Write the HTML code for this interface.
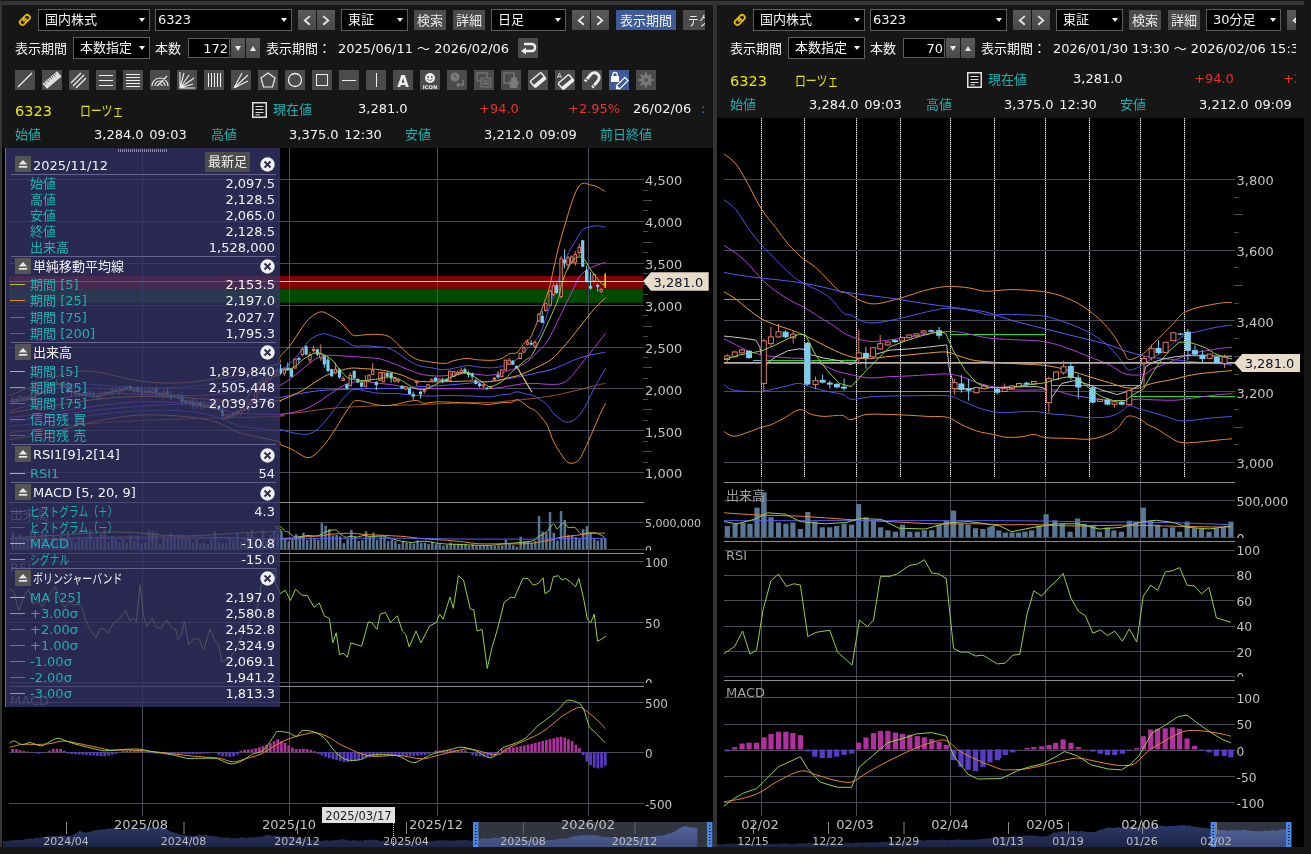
<!DOCTYPE html><html><head><meta charset="utf-8"><title>chart</title><style>
*{margin:0;padding:0;box-sizing:border-box}
html,body{width:1311px;height:854px;overflow:hidden;background:#161616}
body{position:relative;font-family:"DejaVu Sans", "Noto Sans CJK JP", sans-serif;font-size:13px;color:#fff}
.abs{position:absolute}
.hdr{position:absolute;top:0;height:148px;overflow:hidden}
.hdr>*{position:absolute}
.t{position:absolute;white-space:nowrap;line-height:16px;font-size:13px}
.w{color:#f4f4f4} .c{color:#17b2b2} .r{color:#e8322c} .ylw{color:#e6e600}
.y14{color:#e6e600;font-size:14.5px}
.sel{background:#000;border:1px solid #5c5c5c;color:#f4f4f4;white-space:nowrap;overflow:hidden}
.sel span{position:absolute;left:6px;top:2px;line-height:16px}
.tri{position:absolute;right:4px;top:8px;width:0;height:0;border-left:3.5px solid transparent;border-right:3.5px solid transparent;border-top:4px solid #f4f4f4}
.btn{height:20px;background:#4b4b4b;color:#eaeaea;line-height:21px;text-align:center;white-space:nowrap;overflow:hidden}
.btn.blue{background:#3e5b98;color:#f0f0f0}
.nb{width:18px;height:20px;background:linear-gradient(#5a5a5a,#474747);color:#ddd;font-size:20px;line-height:17px;text-align:center;font-family:"DejaVu Sans",sans-serif}
.inp{background:#000;border:1px solid #5c5c5c;color:#f4f4f4;text-align:right;padding-right:1px;line-height:20px}
.sb{width:14px;height:20px;background:linear-gradient(#5a5a5a,#4a4a4a)}
.sb i{position:absolute;left:3.5px;width:0;height:0;border-left:3.6px solid transparent;border-right:3.6px solid transparent}
.sb .dn{top:8px;border-top:5.2px solid #e8e8e8}
.sb .up{top:8px;border-bottom:5.2px solid #e8e8e8}
.tb{width:20px;height:20px;background:#4b4b4b}
.tb.bl{background:#3e5b98}
.tb svg{position:absolute;left:0;top:0}
.ico{position:absolute}

.ov{position:absolute;left:5px;top:148px;width:275px;height:559px;background:rgba(54,53,104,0.78);border-left:1px solid #6a6a92;overflow:hidden}
.ov>*{position:absolute}
.osep{left:5px;width:265px;height:1px;background:#66648e}
.ej{width:16px;height:16px;background:#555}
.ej svg{position:absolute;left:0;top:0}
.ot{color:#f2f2f2;font-size:13px;line-height:18px;white-space:nowrap}
.ol{color:#17b2b2;font-size:13px;line-height:18px;white-space:nowrap}
.ov_v{right:5px;color:#f2f2f2;font-size:13px;line-height:18px;white-space:nowrap;text-align:right}
.cx{position:absolute}
</style></head><body>
<div class="abs" style="left:0;top:0;width:1311px;height:854px;background:#161616"></div>
<div class="abs" style="left:0;top:1px;width:1304px;height:4px;background:#333"></div>
<div class="abs" style="left:0;top:5px;width:2px;height:842px;background:#353535"></div>
<div class="abs" style="left:2px;top:5px;width:711px;height:143px;background:#161616"></div>
<div class="abs" style="left:717px;top:5px;width:587px;height:113px;background:#161616"></div>
<div class="abs" style="left:713px;top:1px;width:4px;height:846px;background:#333"></div>
<div class="abs" style="left:2px;top:148px;width:711px;height:699px;background:#000"></div>
<div class="abs" style="left:717px;top:118px;width:587px;height:729px;background:#000"></div>
<svg class="abs" style="left:0;top:0" width="1311" height="854" viewBox="0 0 1311 854" font-family="DejaVu Sans, Noto Sans CJK JP, sans-serif"><clipPath id="clL"><rect x="2" y="148" width="711" height="699"/></clipPath><g clip-path="url(#clL)"><rect x="9" y="276" width="634" height="12.8" fill="#840000"/><rect x="9" y="288.8" width="634" height="14" fill="#004a00"/><path d="M142.5 148 V816" stroke="#484c58" stroke-width="1"/><path d="M289.5 148 V816" stroke="#484c58" stroke-width="1"/><path d="M437.5 148 V816" stroke="#484c58" stroke-width="1"/><path d="M588.5 148 V816" stroke="#484c58" stroke-width="1"/><path d="M9 179.5 H644" stroke="#484c58" stroke-width="1"/><path d="M9 221.5 H644" stroke="#484c58" stroke-width="1"/><path d="M9 263.5 H644" stroke="#484c58" stroke-width="1"/><path d="M9 305.5 H644" stroke="#484c58" stroke-width="1"/><path d="M9 347.5 H644" stroke="#484c58" stroke-width="1"/><path d="M9 388.5 H644" stroke="#484c58" stroke-width="1"/><path d="M9 430.5 H644" stroke="#484c58" stroke-width="1"/><path d="M9 472.5 H644" stroke="#484c58" stroke-width="1"/><path d="M643 190.5 h5" stroke="#484c58" stroke-width="1"/><path d="M643 200.5 h9" stroke="#484c58" stroke-width="1"/><path d="M643 210.5 h5" stroke="#484c58" stroke-width="1"/><path d="M643 231.5 h5" stroke="#484c58" stroke-width="1"/><path d="M643 242.5 h9" stroke="#484c58" stroke-width="1"/><path d="M643 252.5 h5" stroke="#484c58" stroke-width="1"/><path d="M643 273.5 h5" stroke="#484c58" stroke-width="1"/><path d="M643 284.5 h9" stroke="#484c58" stroke-width="1"/><path d="M643 294.5 h5" stroke="#484c58" stroke-width="1"/><path d="M643 315.5 h5" stroke="#484c58" stroke-width="1"/><path d="M643 326.5 h9" stroke="#484c58" stroke-width="1"/><path d="M643 336.5 h5" stroke="#484c58" stroke-width="1"/><path d="M643 357.5 h5" stroke="#484c58" stroke-width="1"/><path d="M643 367.5 h9" stroke="#484c58" stroke-width="1"/><path d="M643 378.5 h5" stroke="#484c58" stroke-width="1"/><path d="M643 399.5 h5" stroke="#484c58" stroke-width="1"/><path d="M643 409.5 h9" stroke="#484c58" stroke-width="1"/><path d="M643 420.5 h5" stroke="#484c58" stroke-width="1"/><path d="M643 441.5 h5" stroke="#484c58" stroke-width="1"/><path d="M643 451.5 h9" stroke="#484c58" stroke-width="1"/><path d="M643 462.5 h5" stroke="#484c58" stroke-width="1"/><path d="M9 502.5 H644" stroke="#8e8e8e" stroke-width="1"/><path d="M9 522.5 H644" stroke="#484c58" stroke-width="1"/><path d="M9 549.5 H644" stroke="#484c58" stroke-width="1"/><path d="M9 553.5 H644" stroke="#8e8e8e" stroke-width="1"/><path d="M9 561.5 H644" stroke="#484c58" stroke-width="1"/><path d="M9 622.5 H644" stroke="#484c58" stroke-width="1"/><path d="M9 682.5 H644" stroke="#484c58" stroke-width="1"/><path d="M9 686.5 H644" stroke="#8e8e8e" stroke-width="1"/><path d="M9 702.5 H644" stroke="#484c58" stroke-width="1"/><path d="M9 752.5 H644" stroke="#484c58" stroke-width="1"/><path d="M9 803.5 H644" stroke="#484c58" stroke-width="1"/><path d="M9.4 432.9 C19.7 431.6 50.0 427.2 71.4 425.2 C92.8 423.2 115.6 421.8 137.7 420.7 C159.8 419.6 180.5 419.2 204.1 418.5 C227.7 417.8 266.7 417.0 279.3 416.3 C291.9 415.6 276.6 415.1 280.0 414.5 C283.4 413.9 293.3 413.3 299.9 412.5 C306.5 411.7 313.2 410.4 319.8 409.6 C326.4 408.8 333.1 408.1 339.7 407.6 C346.3 407.1 353.0 406.9 359.6 406.6 C366.2 406.3 373.0 405.8 379.6 405.6 C386.2 405.4 392.9 405.4 399.5 405.2 C406.1 405.0 407.0 405.1 419.4 404.6 C431.8 404.2 461.6 402.9 473.8 402.5 C486.0 402.1 486.3 402.8 492.5 402.5 C498.7 402.2 504.9 401.2 511.2 400.6 C517.5 400.0 523.0 399.6 530.0 398.8 C537.0 398.0 547.2 396.6 553.3 395.6 C559.4 394.6 562.2 393.7 566.7 392.7 C571.2 391.7 575.6 390.7 580.0 389.6 C584.4 388.5 589.0 387.1 593.3 386.0 C597.6 384.9 603.5 383.8 605.6 383.3" stroke="#9a5424" stroke-width="1.0" fill="none" /><path d="M9.4 439.5 C16.0 438.4 35.2 435.8 49.2 432.9 C63.2 429.9 78.8 424.8 93.5 421.8 C108.2 418.9 122.9 416.1 137.7 415.2 C152.4 414.3 169.1 415.2 182.0 416.3 C194.9 417.4 205.9 419.2 215.1 421.8 C224.3 424.4 229.9 429.2 237.3 431.8 C244.7 434.4 252.4 435.6 259.4 437.3 C266.4 439.0 275.9 440.6 279.3 441.8 C282.7 443.0 277.9 443.1 280.0 444.4 C282.1 445.7 287.6 447.2 291.9 449.4 C296.2 451.5 302.2 456.3 305.9 457.3 C309.5 458.3 310.8 457.4 313.8 455.4 C316.8 453.4 320.5 449.4 323.8 445.4 C327.1 441.4 330.5 436.5 333.8 431.5 C337.1 426.5 340.7 420.1 343.7 415.5 C346.7 410.9 349.7 406.1 351.7 403.6 C353.7 401.1 353.7 400.9 355.7 400.6 C357.7 400.3 360.3 400.9 363.6 401.6 C366.9 402.3 371.6 403.9 375.6 404.6 C379.6 405.3 383.5 405.8 387.5 405.6 C391.5 405.4 396.2 404.3 399.5 403.6 C402.8 402.9 404.4 402.1 407.4 401.6 C410.4 401.1 414.7 400.3 417.4 400.6 C420.1 400.9 420.4 403.0 423.4 403.2 C426.4 403.4 431.6 402.2 435.3 402.0 C439.0 401.8 438.9 401.8 445.3 402.0 C451.7 402.2 466.6 403.0 473.8 403.4 C481.1 403.8 483.8 404.5 488.8 404.4 C493.8 404.2 500.1 402.8 503.8 402.5 C507.5 402.2 509.0 403.0 511.2 402.5 C513.4 402.0 515.0 399.7 516.9 399.7 C518.8 399.7 520.3 401.1 522.5 402.5 C524.7 403.9 527.8 406.7 530.0 408.1 C532.2 409.5 532.8 408.2 535.6 410.9 C538.4 413.6 543.8 419.4 546.7 424.4 C549.7 429.4 550.7 435.9 553.3 441.1 C555.9 446.3 559.6 452.0 562.2 455.6 C564.8 459.2 566.3 462.0 568.9 462.9 C571.5 463.8 575.2 463.2 577.8 461.1 C580.4 459.0 581.8 455.2 584.4 450.0 C587.0 444.8 590.7 435.9 593.3 430.0 C595.9 424.1 598.0 418.8 600.0 414.4 C602.0 409.9 604.7 405.1 605.6 403.3" stroke="#e2882c" stroke-width="1.0" fill="none" /><path d="M9.4 395.3 C14.2 393.4 29.7 387.5 38.2 384.2 C46.7 380.9 52.9 377.6 60.3 375.4 C67.7 373.2 75.0 371.4 82.4 371.0 C89.8 370.6 97.1 371.9 104.5 373.2 C111.9 374.5 119.3 377.2 126.7 378.7 C134.1 380.2 141.4 381.3 148.8 382.0 C156.2 382.7 163.5 383.1 170.9 383.1 C178.3 383.1 185.6 382.7 193.0 382.0 C200.4 381.3 207.7 379.8 215.1 378.7 C222.5 377.6 229.9 377.0 237.3 375.4 C244.7 373.8 252.4 370.8 259.4 368.8 C266.4 366.8 275.9 365.2 279.3 363.2 C282.7 361.2 278.2 359.7 280.0 356.8 C281.8 353.9 286.4 350.6 290.0 345.8 C293.6 341.0 298.6 332.5 301.9 327.9 C305.2 323.3 306.9 320.6 309.9 318.0 C312.9 315.4 316.8 312.7 319.8 312.0 C322.8 311.3 324.5 312.4 327.8 314.0 C331.1 315.6 336.4 319.2 339.7 321.9 C343.0 324.5 345.4 327.6 347.7 329.9 C350.0 332.2 351.0 334.7 353.7 335.5 C356.4 336.3 360.0 335.1 363.6 334.9 C367.2 334.7 371.6 334.1 375.6 334.3 C379.6 334.5 384.2 334.6 387.5 335.9 C390.8 337.2 392.8 339.6 395.5 341.9 C398.2 344.2 400.2 347.0 403.5 349.8 C406.8 352.6 411.1 356.8 415.4 358.8 C419.7 360.8 424.3 361.0 429.3 361.8 C434.3 362.6 441.3 363.6 445.3 363.4 C449.3 363.2 449.7 361.6 453.2 360.8 C456.7 360.0 462.1 358.6 466.2 358.4 C470.2 358.2 473.1 359.5 477.5 359.8 C481.9 360.1 488.4 360.5 492.5 360.3 C496.6 360.1 499.1 359.5 501.9 358.4 C504.7 357.3 506.9 354.7 509.4 353.8 C511.9 352.9 515.0 353.8 516.9 352.8 C518.8 351.9 519.0 350.1 520.6 348.1 C522.2 346.1 524.3 342.8 526.2 340.6 C528.1 338.4 528.3 342.9 531.9 335.0 C535.5 327.1 544.1 303.5 547.6 293.0 C551.1 282.5 551.1 279.3 552.9 272.0 C554.6 264.7 556.4 256.1 558.1 249.1 C559.9 242.1 561.6 236.0 563.4 229.8 C565.2 223.7 567.0 217.8 568.7 212.2 C570.5 206.6 572.1 200.8 573.9 196.4 C575.6 192.0 577.4 188.0 579.2 185.8 C581.0 183.6 582.7 183.3 584.5 183.2 C586.3 183.0 588.0 184.5 589.8 184.9 C591.5 185.3 593.2 185.2 595.0 185.8 C596.8 186.4 598.5 187.5 600.3 188.5 C602.1 189.5 604.7 191.4 605.6 192.0" stroke="#e2882c" stroke-width="1.0" fill="none" /><path d="M9.4 426.3 C16.0 425.6 35.2 423.7 49.2 421.8 C63.2 419.9 78.8 417.0 93.5 415.2 C108.2 413.4 122.9 411.5 137.7 410.8 C152.4 410.1 169.1 409.9 182.0 410.8 C194.9 411.7 205.9 413.9 215.1 416.3 C224.3 418.7 229.9 423.2 237.3 425.2 C244.7 427.2 252.4 427.6 259.4 428.5 C266.4 429.4 275.9 430.5 279.3 430.7 C282.7 430.9 277.9 429.2 280.0 429.5 C282.1 429.8 287.6 431.7 291.9 432.5 C296.2 433.3 301.9 434.7 305.9 434.4 C309.9 434.1 312.5 432.8 315.8 430.5 C319.1 428.2 322.5 424.3 325.8 420.5 C329.1 416.7 332.5 411.8 335.8 407.6 C339.1 403.5 342.7 398.6 345.7 395.6 C348.7 392.6 350.7 390.4 353.7 389.6 C356.7 388.8 360.3 390.1 363.6 390.6 C366.9 391.1 370.0 392.1 373.6 392.6 C377.2 393.1 381.5 393.4 385.5 393.6 C389.5 393.8 393.9 393.4 397.5 393.6 C401.1 393.8 403.8 394.3 407.4 394.6 C411.0 394.9 415.4 395.4 419.4 395.6 C423.4 395.8 427.0 396.0 431.3 396.0 C435.6 396.0 438.9 395.6 445.3 395.6 C451.8 395.6 462.8 395.7 470.0 395.9 C477.2 396.1 483.8 397.0 488.8 396.9 C493.8 396.8 496.6 395.5 500.0 395.0 C503.4 394.5 506.6 394.6 509.4 394.1 C512.2 393.6 514.1 391.8 516.9 391.8 C519.7 391.8 523.4 393.4 526.2 394.1 C529.0 394.8 530.4 394.2 533.8 395.9 C537.2 397.6 543.5 401.5 546.7 404.4 C550.0 407.3 551.1 410.9 553.3 413.3 C555.5 415.7 557.8 417.4 560.0 418.9 C562.2 420.4 564.1 422.2 566.7 422.2 C569.3 422.2 572.7 421.3 575.6 418.9 C578.5 416.5 581.5 412.6 584.4 407.8 C587.3 403.0 590.7 395.0 593.3 390.0 C595.9 385.0 598.0 381.4 600.0 377.8 C602.0 374.2 604.7 369.8 605.6 368.2" stroke="#5252e6" stroke-width="1.0" fill="none" /><path d="M9.4 404.1 C14.2 402.3 29.7 395.9 38.2 393.1 C46.7 390.4 52.9 389.1 60.3 387.6 C67.7 386.1 75.0 384.6 82.4 384.2 C89.8 383.8 95.3 384.7 104.5 385.3 C113.7 385.9 126.6 387.2 137.7 387.6 C148.8 388.0 159.8 388.0 170.9 387.6 C182.0 387.2 193.0 386.4 204.1 385.3 C215.2 384.2 228.1 382.5 237.3 380.9 C246.5 379.2 252.4 377.2 259.4 375.4 C266.4 373.6 275.9 370.8 279.3 369.9 C282.7 368.9 278.2 370.7 280.0 369.7 C281.8 368.7 286.4 367.1 290.0 363.8 C293.6 360.5 298.6 353.8 301.9 349.8 C305.2 345.8 306.6 342.5 309.9 339.9 C313.2 337.2 318.1 334.6 321.8 333.9 C325.5 333.2 328.2 334.9 331.8 335.9 C335.4 336.9 340.1 338.2 343.7 339.9 C347.3 341.5 350.0 344.8 353.7 345.8 C357.4 346.8 361.6 345.6 365.6 345.8 C369.6 346.0 374.0 346.5 377.6 346.8 C381.2 347.1 384.2 346.8 387.5 347.8 C390.8 348.8 394.2 350.8 397.5 352.8 C400.8 354.8 403.8 357.6 407.4 359.8 C411.0 362.0 415.4 364.5 419.4 365.8 C423.4 367.1 427.0 367.1 431.3 367.7 C435.6 368.3 439.5 370.0 445.3 369.7 C451.1 369.4 460.8 366.1 466.2 365.6 C471.6 365.1 473.1 366.5 477.5 366.9 C481.9 367.3 488.1 368.0 492.5 367.8 C496.9 367.6 500.7 366.7 503.8 365.9 C506.9 365.1 508.7 364.5 511.2 363.1 C513.7 361.7 516.3 359.7 518.8 357.5 C521.3 355.3 523.7 352.5 526.2 350.0 C528.7 347.5 531.3 345.6 533.8 342.5 C536.3 339.4 538.0 338.8 541.2 331.2 C544.4 323.6 549.8 305.9 552.9 296.6 C556.0 287.3 557.6 282.2 559.9 275.5 C562.2 268.8 564.6 261.4 566.9 256.1 C569.2 250.8 571.5 247.9 573.9 243.8 C576.2 239.7 579.0 234.2 581.0 231.5 C583.0 228.8 584.2 228.6 586.2 227.7 C588.2 226.8 591.2 226.5 593.3 226.2 C595.4 225.9 596.5 225.8 598.6 225.9 C600.7 226.1 604.4 226.9 605.6 227.1" stroke="#5252e6" stroke-width="1.0" fill="none" /><path d="M9.4 421.8 C19.7 420.3 50.0 415.6 71.4 413.0 C92.8 410.4 115.6 408.1 137.7 406.4 C159.8 404.7 185.7 404.1 204.1 403.0 C222.5 401.9 235.8 400.6 248.3 399.7 C260.8 398.8 274.0 397.9 279.3 397.5 C284.6 397.1 276.6 398.2 280.0 397.6 C283.4 397.0 293.3 394.8 299.9 393.6 C306.5 392.4 313.2 391.3 319.8 390.6 C326.4 389.9 333.1 389.9 339.7 389.6 C346.3 389.3 353.0 388.9 359.6 388.7 C366.2 388.5 373.0 388.8 379.6 388.7 C386.2 388.6 392.9 388.6 399.5 388.3 C406.1 388.0 412.8 387.1 419.4 386.7 C426.0 386.3 430.2 386.3 439.3 385.7 C448.4 385.1 464.9 383.6 473.8 382.8 C482.7 382.0 486.3 381.7 492.5 380.9 C498.7 380.1 504.9 379.2 511.2 378.1 C517.5 377.0 523.0 375.9 530.0 374.4 C537.0 372.9 547.2 370.8 553.3 368.9 C559.4 367.0 562.2 365.1 566.7 363.3 C571.2 361.5 575.6 359.3 580.0 357.8 C584.4 356.3 589.0 355.3 593.3 354.4 C597.6 353.5 603.5 352.6 605.6 352.2" stroke="#5a5aff" stroke-width="1.0" fill="none" /><path d="M9.4 417.4 C16.0 416.7 35.2 414.8 49.2 413.0 C63.2 411.2 78.8 408.2 93.5 406.4 C108.2 404.5 122.9 402.5 137.7 401.9 C152.4 401.3 169.1 401.9 182.0 403.0 C194.9 404.1 205.9 406.9 215.1 408.6 C224.3 410.3 229.9 412.1 237.3 413.0 C244.7 413.9 252.4 413.9 259.4 414.1 C266.4 414.4 275.9 414.4 279.3 414.5 C282.7 414.6 277.9 414.8 280.0 414.5 C282.1 414.2 287.9 413.3 291.9 412.5 C295.9 411.7 299.9 411.1 303.9 409.6 C307.9 408.1 311.8 405.9 315.8 403.6 C319.8 401.3 323.8 398.2 327.8 395.6 C331.8 393.0 336.4 389.7 339.7 387.7 C343.0 385.7 345.0 384.7 347.7 383.7 C350.4 382.7 352.7 382.0 355.7 381.7 C358.7 381.4 361.6 381.4 365.6 381.7 C369.6 382.0 375.3 382.8 379.6 383.3 C383.9 383.8 387.5 384.1 391.5 384.7 C395.5 385.3 398.9 386.0 403.5 386.7 C408.1 387.4 414.8 388.4 419.4 388.7 C424.0 389.0 427.0 388.7 431.3 388.7 C435.6 388.7 438.9 388.8 445.3 388.7 C451.8 388.6 463.4 388.3 470.0 388.4 C476.6 388.4 480.0 389.1 485.0 389.0 C490.0 388.9 495.6 388.1 500.0 387.5 C504.4 386.9 507.4 386.2 511.2 385.6 C515.0 385.0 518.7 384.2 522.5 383.8 C526.3 383.4 529.0 383.3 533.8 383.4 C538.6 383.5 546.4 384.4 551.1 384.4 C555.8 384.4 558.9 384.6 562.2 383.3 C565.5 382.0 568.1 379.6 571.1 376.7 C574.1 373.8 577.0 369.3 580.0 365.6 C583.0 361.9 585.9 358.1 588.9 354.4 C591.9 350.7 595.0 346.8 597.8 343.3 C600.6 339.8 604.3 335.0 605.6 333.3" stroke="#b43ee0" stroke-width="1.0" fill="none" /><path d="M9.4 410.8 C14.2 409.5 27.9 405.4 38.2 403.0 C48.5 400.6 60.4 398.0 71.4 396.4 C82.5 394.8 93.5 393.5 104.5 393.1 C115.5 392.7 126.6 393.8 137.7 394.2 C148.8 394.6 159.8 395.1 170.9 395.3 C182.0 395.5 193.0 395.9 204.1 395.3 C215.2 394.8 228.1 393.1 237.3 392.0 C246.5 390.9 252.4 389.8 259.4 388.7 C266.4 387.6 275.9 385.8 279.3 385.3 C282.7 384.8 277.9 387.0 280.0 385.7 C282.1 384.4 287.9 380.7 291.9 377.7 C295.9 374.7 299.9 370.8 303.9 367.7 C307.9 364.6 312.1 360.9 315.8 358.8 C319.5 356.8 321.8 355.9 325.8 355.4 C329.8 354.9 334.7 355.6 339.7 355.8 C344.7 356.0 350.7 356.5 355.7 356.8 C360.7 357.1 365.6 357.5 369.6 357.8 C373.6 358.1 376.0 358.0 379.6 358.8 C383.2 359.6 387.5 361.3 391.5 362.8 C395.5 364.3 398.9 365.9 403.5 367.7 C408.1 369.5 414.8 372.4 419.4 373.7 C424.0 375.0 427.0 375.4 431.3 375.7 C435.6 376.0 439.5 376.1 445.3 375.7 C451.1 375.3 460.8 373.6 466.2 373.4 C471.6 373.2 473.7 374.1 477.5 374.4 C481.3 374.7 485.1 375.5 488.8 375.3 C492.6 375.1 496.3 374.3 500.0 373.4 C503.7 372.5 508.1 370.8 511.2 369.7 C514.3 368.6 515.7 368.6 518.8 366.9 C521.9 365.2 526.6 362.2 530.0 359.4 C533.4 356.6 536.3 353.4 539.4 350.0 C542.5 346.6 544.5 346.2 548.8 338.8 C553.1 331.4 561.3 313.3 565.2 305.4 C569.1 297.5 569.9 296.0 572.2 291.3 C574.5 286.6 576.9 280.7 579.2 277.2 C581.5 273.7 583.9 271.9 586.2 270.2 C588.6 268.4 590.9 267.7 593.3 266.7 C595.6 265.7 598.2 264.7 600.3 264.0 C602.3 263.3 604.7 262.6 605.6 262.3" stroke="#b43ee0" stroke-width="1.0" fill="none" /><path d="M9.4 413.0 C16.0 411.9 35.2 408.6 49.2 406.4 C63.2 404.2 78.8 401.4 93.5 399.7 C108.2 398.0 122.9 396.8 137.7 396.4 C152.4 396.0 169.1 396.9 182.0 397.5 C194.9 398.1 204.0 399.0 215.1 399.7 C226.2 400.4 237.6 401.7 248.3 401.9 C259.0 402.1 274.0 401.0 279.3 400.8 C284.6 400.6 277.9 401.5 280.0 400.6 C282.1 399.7 287.9 397.4 291.9 395.6 C295.9 393.8 299.9 391.9 303.9 389.6 C307.9 387.3 311.8 384.2 315.8 381.7 C319.8 379.2 323.8 376.5 327.8 374.7 C331.8 372.9 335.7 371.8 339.7 370.7 C343.7 369.6 347.7 368.4 351.7 368.1 C355.7 367.8 359.0 368.4 363.6 368.7 C368.2 369.0 374.6 369.0 379.6 369.7 C384.6 370.4 389.5 371.7 393.5 372.7 C397.5 373.7 399.9 374.4 403.5 375.7 C407.1 377.0 411.4 379.7 415.4 380.7 C419.4 381.7 422.3 381.5 427.3 381.7 C432.3 381.9 437.6 381.8 445.3 381.7 C453.1 381.6 467.2 380.9 473.8 380.9 C480.4 380.9 481.3 381.9 485.0 381.9 C488.7 381.9 492.4 381.5 496.2 380.9 C499.9 380.3 503.7 379.0 507.5 378.1 C511.3 377.2 515.0 376.6 518.8 375.3 C522.5 374.1 525.0 373.0 530.0 370.6 C535.0 368.2 544.3 364.0 548.9 361.1 C553.5 358.2 554.8 356.3 557.8 353.3 C560.8 350.3 563.7 346.8 566.7 343.3 C569.7 339.8 572.7 335.9 575.6 332.2 C578.5 328.5 581.5 324.8 584.4 321.1 C587.3 317.4 589.8 313.9 593.3 310.0 C596.8 306.1 603.5 299.8 605.6 297.8" stroke="#eaa035" stroke-width="1.0" fill="none" /><path d="M12.7 396.6 V401.3" stroke="#e27868" stroke-width="1"/><rect x="11.5" y="399.4" width="2.4" height="1.2" fill="#000" stroke="#e27868" stroke-width="1"/><path d="M16.4 398.3 V402.5" stroke="#78cdf0" stroke-width="1"/><rect x="14.8" y="399.0" width="3.2" height="1.2" fill="#78cdf0"/><path d="M20.1 396.1 V400.5" stroke="#e27868" stroke-width="1"/><rect x="18.9" y="396.8" width="2.4" height="2.9" fill="#000" stroke="#e27868" stroke-width="1"/><path d="M23.8 396.8 V400.3" stroke="#78cdf0" stroke-width="1"/><rect x="22.2" y="397.8" width="3.2" height="1.2" fill="#78cdf0"/><path d="M27.4 396.0 V401.6" stroke="#e27868" stroke-width="1"/><rect x="26.2" y="398.5" width="2.4" height="1.2" fill="#000" stroke="#e27868" stroke-width="1"/><path d="M31.1 393.7 V400.7" stroke="#78cdf0" stroke-width="1"/><rect x="29.5" y="397.2" width="3.2" height="2.1" fill="#78cdf0"/><path d="M34.8 392.4 V401.4" stroke="#e27868" stroke-width="1"/><rect x="33.6" y="394.0" width="2.4" height="4.1" fill="#000" stroke="#e27868" stroke-width="1"/><path d="M38.5 390.4 V396.2" stroke="#e27868" stroke-width="1"/><rect x="37.3" y="393.2" width="2.4" height="1.2" fill="#000" stroke="#e27868" stroke-width="1"/><path d="M42.2 391.1 V394.4" stroke="#78cdf0" stroke-width="1"/><rect x="40.6" y="391.8" width="3.2" height="1.4" fill="#78cdf0"/><path d="M45.8 389.8 V395.6" stroke="#e27868" stroke-width="1"/><rect x="44.6" y="391.4" width="2.4" height="1.7" fill="#000" stroke="#e27868" stroke-width="1"/><path d="M49.5 384.4 V393.7" stroke="#e27868" stroke-width="1"/><rect x="48.3" y="387.7" width="2.4" height="3.1" fill="#000" stroke="#e27868" stroke-width="1"/><path d="M53.2 381.8 V391.5" stroke="#e27868" stroke-width="1"/><rect x="52.0" y="384.1" width="2.4" height="3.8" fill="#000" stroke="#e27868" stroke-width="1"/><path d="M56.9 379.5 V385.6" stroke="#78cdf0" stroke-width="1"/><rect x="55.3" y="383.5" width="3.2" height="1.2" fill="#78cdf0"/><path d="M60.6 382.4 V387.0" stroke="#e27868" stroke-width="1"/><rect x="59.4" y="383.4" width="2.4" height="1.3" fill="#000" stroke="#e27868" stroke-width="1"/><path d="M64.2 380.8 V387.7" stroke="#78cdf0" stroke-width="1"/><rect x="62.6" y="383.9" width="3.2" height="1.2" fill="#78cdf0"/><path d="M67.9 380.8 V393.8" stroke="#78cdf0" stroke-width="1"/><rect x="66.3" y="383.8" width="3.2" height="7.5" fill="#78cdf0"/><path d="M71.6 387.7 V396.2" stroke="#78cdf0" stroke-width="1"/><rect x="70.0" y="391.1" width="3.2" height="1.3" fill="#78cdf0"/><path d="M75.3 391.9 V396.8" stroke="#e27868" stroke-width="1"/><rect x="74.1" y="392.6" width="2.4" height="1.2" fill="#000" stroke="#e27868" stroke-width="1"/><path d="M79.0 390.7 V396.8" stroke="#78cdf0" stroke-width="1"/><rect x="77.4" y="394.1" width="3.2" height="1.2" fill="#78cdf0"/><path d="M82.6 393.1 V397.0" stroke="#e27868" stroke-width="1"/><rect x="81.4" y="393.7" width="2.4" height="1.2" fill="#000" stroke="#e27868" stroke-width="1"/><path d="M86.3 391.8 V396.9" stroke="#78cdf0" stroke-width="1"/><rect x="84.7" y="392.5" width="3.2" height="1.2" fill="#78cdf0"/><path d="M90.0 390.7 V397.4" stroke="#78cdf0" stroke-width="1"/><rect x="88.4" y="392.6" width="3.2" height="1.3" fill="#78cdf0"/><path d="M93.7 391.3 V398.5" stroke="#78cdf0" stroke-width="1"/><rect x="92.1" y="393.7" width="3.2" height="1.2" fill="#78cdf0"/><path d="M97.4 393.9 V399.2" stroke="#78cdf0" stroke-width="1"/><rect x="95.8" y="395.4" width="3.2" height="1.9" fill="#78cdf0"/><path d="M101.0 390.3 V399.4" stroke="#e27868" stroke-width="1"/><rect x="99.8" y="394.2" width="2.4" height="4.2" fill="#000" stroke="#e27868" stroke-width="1"/><path d="M104.7 391.2 V395.9" stroke="#e27868" stroke-width="1"/><rect x="103.5" y="392.5" width="2.4" height="1.2" fill="#000" stroke="#e27868" stroke-width="1"/><path d="M108.4 391.3 V395.2" stroke="#78cdf0" stroke-width="1"/><rect x="106.8" y="391.8" width="3.2" height="1.5" fill="#78cdf0"/><path d="M112.1 387.0 V396.4" stroke="#e27868" stroke-width="1"/><rect x="110.9" y="390.9" width="2.4" height="2.6" fill="#000" stroke="#e27868" stroke-width="1"/><path d="M115.8 387.4 V392.2" stroke="#e27868" stroke-width="1"/><rect x="114.6" y="390.3" width="2.4" height="1.2" fill="#000" stroke="#e27868" stroke-width="1"/><path d="M119.4 387.3 V395.4" stroke="#e27868" stroke-width="1"/><rect x="118.2" y="390.9" width="2.4" height="1.2" fill="#000" stroke="#e27868" stroke-width="1"/><path d="M123.1 387.7 V393.3" stroke="#e27868" stroke-width="1"/><rect x="121.9" y="388.5" width="2.4" height="2.0" fill="#000" stroke="#e27868" stroke-width="1"/><path d="M126.8 386.0 V389.5" stroke="#78cdf0" stroke-width="1"/><rect x="125.2" y="387.3" width="3.2" height="1.2" fill="#78cdf0"/><path d="M130.5 385.5 V390.2" stroke="#78cdf0" stroke-width="1"/><rect x="128.9" y="386.0" width="3.2" height="3.2" fill="#78cdf0"/><path d="M134.2 387.9 V393.2" stroke="#e27868" stroke-width="1"/><rect x="133.0" y="388.5" width="2.4" height="1.2" fill="#000" stroke="#e27868" stroke-width="1"/><path d="M137.8 386.0 V393.2" stroke="#78cdf0" stroke-width="1"/><rect x="136.2" y="387.4" width="3.2" height="4.1" fill="#78cdf0"/><path d="M141.5 386.9 V395.5" stroke="#78cdf0" stroke-width="1"/><rect x="139.9" y="390.4" width="3.2" height="1.2" fill="#78cdf0"/><path d="M145.2 389.8 V392.6" stroke="#78cdf0" stroke-width="1"/><rect x="143.6" y="390.6" width="3.2" height="1.2" fill="#78cdf0"/><path d="M148.9 387.4 V393.0" stroke="#78cdf0" stroke-width="1"/><rect x="147.3" y="390.8" width="3.2" height="1.2" fill="#78cdf0"/><path d="M152.6 387.6 V393.6" stroke="#e27868" stroke-width="1"/><rect x="151.4" y="390.0" width="2.4" height="2.6" fill="#000" stroke="#e27868" stroke-width="1"/><path d="M156.2 386.2 V396.9" stroke="#78cdf0" stroke-width="1"/><rect x="154.6" y="388.6" width="3.2" height="4.4" fill="#78cdf0"/><path d="M159.9 392.1 V396.7" stroke="#78cdf0" stroke-width="1"/><rect x="158.3" y="393.6" width="3.2" height="1.4" fill="#78cdf0"/><path d="M163.6 389.8 V399.0" stroke="#e27868" stroke-width="1"/><rect x="162.4" y="392.2" width="2.4" height="3.6" fill="#000" stroke="#e27868" stroke-width="1"/><path d="M167.3 388.0 V397.7" stroke="#78cdf0" stroke-width="1"/><rect x="165.7" y="391.4" width="3.2" height="2.4" fill="#78cdf0"/><path d="M171.0 391.3 V400.2" stroke="#78cdf0" stroke-width="1"/><rect x="169.4" y="394.6" width="3.2" height="2.4" fill="#78cdf0"/><path d="M174.6 393.7 V397.7" stroke="#e27868" stroke-width="1"/><rect x="173.4" y="395.4" width="2.4" height="1.7" fill="#000" stroke="#e27868" stroke-width="1"/><path d="M178.3 393.3 V398.9" stroke="#78cdf0" stroke-width="1"/><rect x="176.7" y="394.8" width="3.2" height="1.2" fill="#78cdf0"/><path d="M182.0 391.9 V405.9" stroke="#78cdf0" stroke-width="1"/><rect x="180.4" y="395.7" width="3.2" height="6.3" fill="#78cdf0"/><path d="M185.7 400.3 V404.7" stroke="#78cdf0" stroke-width="1"/><rect x="184.1" y="401.6" width="3.2" height="1.9" fill="#78cdf0"/><path d="M189.4 398.4 V406.2" stroke="#e27868" stroke-width="1"/><rect x="188.2" y="401.1" width="2.4" height="1.4" fill="#000" stroke="#e27868" stroke-width="1"/><path d="M193.0 398.3 V409.1" stroke="#78cdf0" stroke-width="1"/><rect x="191.4" y="401.1" width="3.2" height="4.7" fill="#78cdf0"/><path d="M196.7 398.7 V409.5" stroke="#e27868" stroke-width="1"/><rect x="195.5" y="402.4" width="2.4" height="3.9" fill="#000" stroke="#e27868" stroke-width="1"/><path d="M200.4 401.2 V409.4" stroke="#78cdf0" stroke-width="1"/><rect x="198.8" y="402.3" width="3.2" height="3.8" fill="#78cdf0"/><path d="M204.1 400.5 V408.9" stroke="#e27868" stroke-width="1"/><rect x="202.9" y="404.4" width="2.4" height="2.6" fill="#000" stroke="#e27868" stroke-width="1"/><path d="M207.8 402.1 V407.4" stroke="#e27868" stroke-width="1"/><rect x="206.6" y="405.1" width="2.4" height="1.2" fill="#000" stroke="#e27868" stroke-width="1"/><path d="M211.4 400.4 V408.6" stroke="#78cdf0" stroke-width="1"/><rect x="209.8" y="404.1" width="3.2" height="1.2" fill="#78cdf0"/><path d="M215.1 400.7 V408.7" stroke="#e27868" stroke-width="1"/><rect x="213.9" y="404.7" width="2.4" height="1.2" fill="#000" stroke="#e27868" stroke-width="1"/><path d="M218.8 403.8 V409.9" stroke="#78cdf0" stroke-width="1"/><rect x="217.2" y="404.8" width="3.2" height="4.5" fill="#78cdf0"/><path d="M222.5 407.4 V419.8" stroke="#78cdf0" stroke-width="1"/><rect x="220.9" y="409.8" width="3.2" height="6.3" fill="#78cdf0"/><path d="M226.2 413.6 V419.5" stroke="#e27868" stroke-width="1"/><rect x="225.0" y="417.0" width="2.4" height="1.2" fill="#000" stroke="#e27868" stroke-width="1"/><path d="M229.8 413.4 V419.0" stroke="#e27868" stroke-width="1"/><rect x="228.6" y="414.7" width="2.4" height="1.7" fill="#000" stroke="#e27868" stroke-width="1"/><path d="M233.5 412.3 V418.2" stroke="#e27868" stroke-width="1"/><rect x="232.3" y="413.3" width="2.4" height="1.2" fill="#000" stroke="#e27868" stroke-width="1"/><path d="M237.2 409.8 V417.2" stroke="#e27868" stroke-width="1"/><rect x="236.0" y="412.3" width="2.4" height="1.2" fill="#000" stroke="#e27868" stroke-width="1"/><path d="M240.9 408.2 V415.9" stroke="#e27868" stroke-width="1"/><rect x="239.7" y="410.5" width="2.4" height="3.1" fill="#000" stroke="#e27868" stroke-width="1"/><path d="M244.6 406.7 V411.1" stroke="#e27868" stroke-width="1"/><rect x="243.4" y="408.8" width="2.4" height="1.2" fill="#000" stroke="#e27868" stroke-width="1"/><path d="M248.2 402.9 V411.8" stroke="#e27868" stroke-width="1"/><rect x="247.0" y="404.0" width="2.4" height="5.7" fill="#000" stroke="#e27868" stroke-width="1"/><path d="M251.9 398.6 V406.4" stroke="#e27868" stroke-width="1"/><rect x="250.7" y="400.3" width="2.4" height="3.8" fill="#000" stroke="#e27868" stroke-width="1"/><path d="M255.6 391.2 V403.6" stroke="#e27868" stroke-width="1"/><rect x="254.4" y="392.1" width="2.4" height="9.1" fill="#000" stroke="#e27868" stroke-width="1"/><path d="M259.3 380.0 V393.7" stroke="#e27868" stroke-width="1"/><rect x="258.1" y="383.2" width="2.4" height="8.2" fill="#000" stroke="#e27868" stroke-width="1"/><path d="M263.0 378.0 V386.0" stroke="#e27868" stroke-width="1"/><rect x="261.8" y="381.7" width="2.4" height="2.3" fill="#000" stroke="#e27868" stroke-width="1"/><path d="M266.6 376.7 V384.6" stroke="#e27868" stroke-width="1"/><rect x="265.4" y="379.0" width="2.4" height="2.7" fill="#000" stroke="#e27868" stroke-width="1"/><path d="M270.3 373.1 V382.9" stroke="#e27868" stroke-width="1"/><rect x="269.1" y="375.2" width="2.4" height="3.8" fill="#000" stroke="#e27868" stroke-width="1"/><path d="M274.0 370.4 V377.8" stroke="#e27868" stroke-width="1"/><rect x="272.8" y="374.2" width="2.4" height="2.2" fill="#000" stroke="#e27868" stroke-width="1"/><path d="M277.7 367.8 V376.5" stroke="#e27868" stroke-width="1"/><rect x="276.5" y="371.2" width="2.4" height="4.3" fill="#000" stroke="#e27868" stroke-width="1"/><path d="M280.5 364.0 V374.7" stroke="#78cdf0" stroke-width="1"/><rect x="278.9" y="368.5" width="3.2" height="4.9" fill="#78cdf0"/><path d="M284.4 367.7 V375.9" stroke="#e27868" stroke-width="1"/><rect x="283.2" y="368.9" width="2.4" height="4.5" fill="#000" stroke="#e27868" stroke-width="1"/><path d="M287.8 362.4 V370.6" stroke="#78cdf0" stroke-width="1"/><rect x="286.2" y="367.7" width="3.2" height="2.5" fill="#78cdf0"/><path d="M291.5 368.1 V377.1" stroke="#78cdf0" stroke-width="1"/><rect x="289.9" y="368.5" width="3.2" height="8.2" fill="#78cdf0"/><path d="M295.0 358.7 V368.5" stroke="#e27868" stroke-width="1"/><rect x="293.8" y="359.1" width="2.4" height="9.0" fill="#000" stroke="#e27868" stroke-width="1"/><path d="M298.9 356.6 V364.4" stroke="#78cdf0" stroke-width="1"/><rect x="297.3" y="357.9" width="3.2" height="2.0" fill="#78cdf0"/><path d="M302.3 347.2 V356.6" stroke="#e27868" stroke-width="1"/><rect x="301.1" y="349.3" width="2.4" height="5.3" fill="#000" stroke="#e27868" stroke-width="1"/><path d="M306.1 345.2 V355.0" stroke="#78cdf0" stroke-width="1"/><rect x="304.5" y="346.4" width="3.2" height="8.2" fill="#78cdf0"/><path d="M310.0 352.1 V363.2" stroke="#e27868" stroke-width="1"/><rect x="308.8" y="355.0" width="2.4" height="4.9" fill="#000" stroke="#e27868" stroke-width="1"/><path d="M313.5 346.0 V352.5" stroke="#e27868" stroke-width="1"/><rect x="312.3" y="349.3" width="2.4" height="1.2" fill="#000" stroke="#e27868" stroke-width="1"/><path d="M317.3 348.9 V356.2" stroke="#78cdf0" stroke-width="1"/><rect x="315.7" y="349.3" width="3.2" height="5.3" fill="#78cdf0"/><path d="M320.8 344.3 V360.7" stroke="#e27868" stroke-width="1"/><rect x="319.6" y="353.8" width="2.4" height="4.1" fill="#000" stroke="#e27868" stroke-width="1"/><path d="M324.3 354.6 V367.7" stroke="#78cdf0" stroke-width="1"/><rect x="322.7" y="356.2" width="3.2" height="8.2" fill="#78cdf0"/><path d="M328.0 357.0 V372.6" stroke="#78cdf0" stroke-width="1"/><rect x="326.4" y="359.5" width="3.2" height="11.5" fill="#78cdf0"/><path d="M331.7 368.9 V376.7" stroke="#78cdf0" stroke-width="1"/><rect x="330.1" y="369.3" width="3.2" height="7.0" fill="#78cdf0"/><path d="M335.4 362.4 V374.3" stroke="#e27868" stroke-width="1"/><rect x="334.2" y="369.3" width="2.4" height="3.7" fill="#000" stroke="#e27868" stroke-width="1"/><path d="M339.5 368.1 V378.8" stroke="#78cdf0" stroke-width="1"/><rect x="337.9" y="369.3" width="3.2" height="8.2" fill="#78cdf0"/><path d="M343.2 376.3 V380.8" stroke="#e27868" stroke-width="1"/><rect x="342.0" y="378.8" width="2.4" height="1.6" fill="#000" stroke="#e27868" stroke-width="1"/><path d="M346.9 383.7 V389.0" stroke="#78cdf0" stroke-width="1"/><rect x="345.3" y="384.1" width="3.2" height="4.5" fill="#78cdf0"/><path d="M350.3 372.6 V386.6" stroke="#e27868" stroke-width="1"/><rect x="349.1" y="375.5" width="2.4" height="10.2" fill="#000" stroke="#e27868" stroke-width="1"/><path d="M354.2 370.2 V378.8" stroke="#78cdf0" stroke-width="1"/><rect x="352.6" y="371.0" width="3.2" height="7.4" fill="#78cdf0"/><path d="M357.9 378.4 V382.9" stroke="#78cdf0" stroke-width="1"/><rect x="356.3" y="378.8" width="3.2" height="3.7" fill="#78cdf0"/><path d="M361.6 381.6 V387.0" stroke="#78cdf0" stroke-width="1"/><rect x="360.0" y="382.5" width="3.2" height="4.1" fill="#78cdf0"/><path d="M365.4 375.2 V386.7" stroke="#e27868" stroke-width="1"/><rect x="364.2" y="381.0" width="2.4" height="5.3" fill="#000" stroke="#e27868" stroke-width="1"/><path d="M369.0 374.4 V381.4" stroke="#e27868" stroke-width="1"/><rect x="367.8" y="375.2" width="2.4" height="5.8" fill="#000" stroke="#e27868" stroke-width="1"/><path d="M372.7 363.0 V374.8" stroke="#e27868" stroke-width="1"/><rect x="371.5" y="370.7" width="2.4" height="3.7" fill="#000" stroke="#e27868" stroke-width="1"/><path d="M376.3 381.4 V390.0" stroke="#78cdf0" stroke-width="1"/><rect x="374.7" y="381.8" width="3.2" height="3.3" fill="#78cdf0"/><path d="M380.0 372.0 V380.6" stroke="#e27868" stroke-width="1"/><rect x="378.8" y="372.4" width="2.4" height="7.8" fill="#000" stroke="#e27868" stroke-width="1"/><path d="M383.5 372.4 V382.2" stroke="#e27868" stroke-width="1"/><rect x="382.3" y="372.8" width="2.4" height="9.0" fill="#000" stroke="#e27868" stroke-width="1"/><path d="M387.2 372.0 V378.5" stroke="#78cdf0" stroke-width="1"/><rect x="385.6" y="372.8" width="3.2" height="3.3" fill="#78cdf0"/><path d="M391.1 372.4 V382.6" stroke="#78cdf0" stroke-width="1"/><rect x="389.5" y="372.8" width="3.2" height="5.7" fill="#78cdf0"/><path d="M394.8 378.1 V382.6" stroke="#e27868" stroke-width="1"/><rect x="393.6" y="378.5" width="2.4" height="2.5" fill="#000" stroke="#e27868" stroke-width="1"/><path d="M398.1 378.9 V383.0" stroke="#e27868" stroke-width="1"/><rect x="396.9" y="379.8" width="2.4" height="1.2" fill="#000" stroke="#e27868" stroke-width="1"/><path d="M402.0 385.1 V389.2" stroke="#78cdf0" stroke-width="1"/><rect x="400.4" y="385.9" width="3.2" height="2.5" fill="#78cdf0"/><path d="M405.9 386.3 V389.6" stroke="#e27868" stroke-width="1"/><rect x="404.7" y="386.7" width="2.4" height="2.5" fill="#000" stroke="#e27868" stroke-width="1"/><path d="M409.5 388.0 V394.5" stroke="#78cdf0" stroke-width="1"/><rect x="407.9" y="388.4" width="3.2" height="5.7" fill="#78cdf0"/><path d="M413.2 391.6 V399.8" stroke="#78cdf0" stroke-width="1"/><rect x="411.6" y="394.1" width="3.2" height="2.5" fill="#78cdf0"/><path d="M416.8 381.4 V385.9" stroke="#e27868" stroke-width="1"/><rect x="415.6" y="381.4" width="2.4" height="1.2" fill="#000" stroke="#e27868" stroke-width="1"/><path d="M420.6 390.8 V398.6" stroke="#78cdf0" stroke-width="1"/><rect x="419.0" y="391.6" width="3.2" height="2.9" fill="#78cdf0"/><path d="M424.3 389.6 V393.7" stroke="#e27868" stroke-width="1"/><rect x="423.1" y="390.0" width="2.4" height="1.2" fill="#000" stroke="#e27868" stroke-width="1"/><path d="M428.0 384.3 V388.8" stroke="#e27868" stroke-width="1"/><rect x="426.8" y="384.7" width="2.4" height="3.7" fill="#000" stroke="#e27868" stroke-width="1"/><path d="M431.7 378.5 V381.8" stroke="#e27868" stroke-width="1"/><rect x="430.5" y="379.8" width="2.4" height="1.6" fill="#000" stroke="#e27868" stroke-width="1"/><path d="M435.4 376.9 V381.8" stroke="#78cdf0" stroke-width="1"/><rect x="433.8" y="377.7" width="3.2" height="3.3" fill="#78cdf0"/><path d="M439.0 378.5 V381.8" stroke="#e27868" stroke-width="1"/><rect x="437.8" y="379.3" width="2.4" height="2.1" fill="#000" stroke="#e27868" stroke-width="1"/><path d="M442.7 377.7 V383.4" stroke="#78cdf0" stroke-width="1"/><rect x="441.1" y="379.3" width="3.2" height="2.5" fill="#78cdf0"/><path d="M446.4 378.5 V381.8" stroke="#78cdf0" stroke-width="1"/><rect x="444.8" y="379.3" width="3.2" height="1.7" fill="#78cdf0"/><path d="M449.7 370.8 V381.1" stroke="#e27868" stroke-width="1"/><rect x="448.5" y="371.2" width="2.4" height="9.5" fill="#000" stroke="#e27868" stroke-width="1"/><path d="M453.8 371.2 V377.0" stroke="#e27868" stroke-width="1"/><rect x="452.6" y="371.6" width="2.4" height="5.0" fill="#000" stroke="#e27868" stroke-width="1"/><path d="M457.5 370.8 V374.5" stroke="#e27868" stroke-width="1"/><rect x="456.3" y="372.5" width="2.4" height="1.6" fill="#000" stroke="#e27868" stroke-width="1"/><path d="M461.2 367.5 V372.9" stroke="#e27868" stroke-width="1"/><rect x="460.0" y="370.8" width="2.4" height="1.7" fill="#000" stroke="#e27868" stroke-width="1"/><path d="M464.9 367.5 V373.7" stroke="#78cdf0" stroke-width="1"/><rect x="463.3" y="369.2" width="3.2" height="3.3" fill="#78cdf0"/><path d="M468.5 370.8 V377.4" stroke="#78cdf0" stroke-width="1"/><rect x="466.9" y="372.5" width="3.2" height="2.4" fill="#78cdf0"/><path d="M472.2 372.5 V379.8" stroke="#78cdf0" stroke-width="1"/><rect x="470.6" y="373.3" width="3.2" height="3.3" fill="#78cdf0"/><path d="M475.9 378.2 V384.3" stroke="#78cdf0" stroke-width="1"/><rect x="474.3" y="380.7" width="3.2" height="3.2" fill="#78cdf0"/><path d="M479.6 382.7 V387.6" stroke="#78cdf0" stroke-width="1"/><rect x="478.0" y="383.5" width="3.2" height="2.5" fill="#78cdf0"/><path d="M483.3 384.8 V388.0" stroke="#e27868" stroke-width="1"/><rect x="482.1" y="384.8" width="2.4" height="1.2" fill="#000" stroke="#e27868" stroke-width="1"/><path d="M487.0 387.2 V389.7" stroke="#78cdf0" stroke-width="1"/><rect x="485.4" y="387.6" width="3.2" height="1.3" fill="#78cdf0"/><path d="M490.7 386.0 V388.4" stroke="#e27868" stroke-width="1"/><rect x="489.5" y="386.4" width="2.4" height="1.6" fill="#000" stroke="#e27868" stroke-width="1"/><path d="M494.4 377.0 V381.1" stroke="#e27868" stroke-width="1"/><rect x="493.2" y="378.2" width="2.4" height="1.0" fill="#000" stroke="#e27868" stroke-width="1"/><path d="M498.0 371.2 V378.6" stroke="#78cdf0" stroke-width="1"/><rect x="496.4" y="374.9" width="3.2" height="2.5" fill="#78cdf0"/><path d="M501.7 369.6 V377.0" stroke="#e27868" stroke-width="1"/><rect x="500.5" y="370.0" width="2.4" height="6.6" fill="#000" stroke="#e27868" stroke-width="1"/><path d="M505.4 359.8 V370.4" stroke="#e27868" stroke-width="1"/><rect x="504.2" y="360.2" width="2.4" height="9.8" fill="#000" stroke="#e27868" stroke-width="1"/><path d="M509.1 358.1 V365.1" stroke="#e27868" stroke-width="1"/><rect x="507.9" y="360.2" width="2.4" height="4.1" fill="#000" stroke="#e27868" stroke-width="1"/><path d="M512.8 360.2 V365.1" stroke="#78cdf0" stroke-width="1"/><rect x="511.2" y="360.6" width="3.2" height="4.1" fill="#78cdf0"/><path d="M516.5 365.5 V368.4" stroke="#78cdf0" stroke-width="1"/><rect x="514.9" y="365.9" width="3.2" height="2.1" fill="#78cdf0"/><path d="M520.2 352.8 V358.9" stroke="#e27868" stroke-width="1"/><rect x="519.0" y="353.2" width="2.4" height="5.3" fill="#000" stroke="#e27868" stroke-width="1"/><path d="M523.9 346.2 V352.4" stroke="#e27868" stroke-width="1"/><rect x="522.7" y="347.9" width="2.4" height="4.1" fill="#000" stroke="#e27868" stroke-width="1"/><path d="M527.6 339.7 V345.4" stroke="#e27868" stroke-width="1"/><rect x="526.4" y="342.1" width="2.4" height="2.1" fill="#000" stroke="#e27868" stroke-width="1"/><path d="M531.2 340.1 V345.0" stroke="#78cdf0" stroke-width="1"/><rect x="529.6" y="343.0" width="3.2" height="1.6" fill="#78cdf0"/><path d="M534.9 340.5 V348.0" stroke="#e27868" stroke-width="1"/><rect x="533.7" y="342.5" width="2.4" height="3.8" fill="#000" stroke="#e27868" stroke-width="1"/><path d="M538.8 313.3 V322.1" stroke="#e27868" stroke-width="1"/><rect x="537.6" y="314.1" width="2.4" height="7.0" fill="#000" stroke="#e27868" stroke-width="1"/><path d="M542.3 310.6 V323.3" stroke="#78cdf0" stroke-width="1"/><rect x="540.7" y="315.9" width="3.2" height="7.0" fill="#78cdf0"/><path d="M545.8 302.7 V311.5" stroke="#e27868" stroke-width="1"/><rect x="544.6" y="303.6" width="2.4" height="7.0" fill="#000" stroke="#e27868" stroke-width="1"/><path d="M550.2 289.5 V306.2" stroke="#e27868" stroke-width="1"/><rect x="549.0" y="291.3" width="2.4" height="14.1" fill="#000" stroke="#e27868" stroke-width="1"/><path d="M553.4 282.5 V295.7" stroke="#e27868" stroke-width="1"/><rect x="552.2" y="286.0" width="2.4" height="8.8" fill="#000" stroke="#e27868" stroke-width="1"/><path d="M556.7 283.4 V293.9" stroke="#78cdf0" stroke-width="1"/><rect x="555.1" y="285.1" width="3.2" height="7.9" fill="#78cdf0"/><path d="M561.1 256.1 V298.3" stroke="#e27868" stroke-width="1"/><rect x="559.9" y="258.8" width="2.4" height="37.8" fill="#000" stroke="#e27868" stroke-width="1"/><path d="M564.6 249.1 V268.4" stroke="#78cdf0" stroke-width="1"/><rect x="563.0" y="259.6" width="3.2" height="3.5" fill="#78cdf0"/><path d="M568.1 256.1 V269.3" stroke="#e27868" stroke-width="1"/><rect x="566.9" y="257.9" width="2.4" height="7.0" fill="#000" stroke="#e27868" stroke-width="1"/><path d="M571.7 255.3 V263.2" stroke="#e27868" stroke-width="1"/><rect x="570.5" y="257.0" width="2.4" height="5.3" fill="#000" stroke="#e27868" stroke-width="1"/><path d="M575.2 250.9 V265.8" stroke="#e27868" stroke-width="1"/><rect x="574.0" y="254.4" width="2.4" height="7.9" fill="#000" stroke="#e27868" stroke-width="1"/><path d="M579.2 243.8 V256.1" stroke="#e27868" stroke-width="1"/><rect x="578.0" y="247.3" width="2.4" height="5.3" fill="#000" stroke="#e27868" stroke-width="1"/><path d="M582.7 240.0 V267.0" stroke="#78cdf0" stroke-width="1"/><rect x="581.1" y="240.3" width="3.2" height="26.4" fill="#78cdf0"/><path d="M586.6 265.8 V282.5" stroke="#78cdf0" stroke-width="1"/><rect x="585.0" y="270.2" width="3.2" height="11.4" fill="#78cdf0"/><path d="M590.6 272.0 V289.5" stroke="#78cdf0" stroke-width="1"/><rect x="589.0" y="286.0" width="3.2" height="2.6" fill="#78cdf0"/><path d="M594.2 273.7 V282.5" stroke="#e27868" stroke-width="1"/><rect x="593.0" y="274.6" width="2.4" height="6.2" fill="#000" stroke="#e27868" stroke-width="1"/><path d="M597.7 283.4 V291.3" stroke="#78cdf0" stroke-width="1"/><rect x="596.1" y="285.1" width="3.2" height="1.8" fill="#78cdf0"/><path d="M601.2 287.8 V293.0" stroke="#e27868" stroke-width="1"/><rect x="600.0" y="289.5" width="2.4" height="1.8" fill="#000" stroke="#e27868" stroke-width="1"/><path d="M605.2 273.4 V288.1" stroke="#f0c020" stroke-width="1.6"/><path d="M603.2 284.3 H605.2" stroke="#f0c020" stroke-width="1.2"/><path d="M9.4 401.9 C12.4 401.5 21.9 401.2 27.1 399.7 C32.3 398.2 35.2 395.7 40.4 393.1 C45.6 390.5 52.2 384.2 58.1 384.2 C64.0 384.2 69.2 391.1 75.8 393.1 C82.4 395.1 90.5 396.9 97.9 396.4 C105.3 395.8 112.6 390.5 120.0 389.8 C127.4 389.1 134.7 391.3 142.1 392.0 C149.5 392.7 157.7 392.9 164.3 394.2 C171.0 395.5 176.1 397.8 182.0 399.7 C187.9 401.6 193.8 403.6 199.7 405.3 C205.6 407.0 212.6 407.9 217.4 409.7 C222.2 411.5 224.7 416.1 228.4 416.3 C232.1 416.5 235.4 415.4 239.5 410.8 C243.6 406.2 248.3 394.6 252.7 388.7 C257.1 382.8 261.6 378.5 266.0 375.4 C270.4 372.3 277.0 370.8 279.3 369.9 C281.6 368.9 278.6 369.7 280.0 369.7 C281.4 369.7 285.4 370.3 288.0 369.7 C290.6 369.1 293.2 367.6 295.9 365.8 C298.5 364.0 300.6 361.0 303.9 358.8 C307.2 356.6 312.5 353.5 315.8 352.8 C319.1 352.1 321.1 353.6 323.8 354.8 C326.5 356.0 329.2 357.3 331.8 359.8 C334.4 362.3 337.1 366.7 339.7 369.7 C342.3 372.7 345.0 376.0 347.7 377.7 C350.4 379.4 353.0 379.2 355.7 379.7 C358.4 380.2 361.0 380.7 363.6 380.7 C366.2 380.7 368.9 380.0 371.6 379.7 C374.3 379.4 377.0 379.2 379.6 378.7 C382.2 378.2 384.9 376.9 387.5 376.7 C390.1 376.5 392.8 376.9 395.5 377.7 C398.2 378.5 400.9 380.2 403.5 381.7 C406.1 383.2 408.8 385.4 411.4 386.7 C414.0 388.0 416.8 389.3 419.4 389.6 C422.0 389.9 424.6 389.5 427.3 388.7 C430.0 387.9 432.3 386.2 435.3 384.7 C438.3 383.2 440.5 381.7 445.3 379.7 C450.1 377.7 460.0 373.2 464.4 372.5 C468.8 371.8 469.4 374.1 471.9 375.3 C474.4 376.6 476.6 378.1 479.4 380.0 C482.2 381.9 486.0 385.8 488.8 386.6 C491.6 387.4 493.7 385.8 496.2 384.7 C498.7 383.6 501.3 382.0 503.8 380.0 C506.3 378.0 508.7 374.9 511.2 372.5 C513.7 370.1 516.3 368.1 518.8 365.9 C521.3 363.7 523.7 361.7 526.2 359.4 C528.7 357.1 528.8 361.2 533.8 351.9 C538.8 342.6 551.8 314.9 556.4 303.6 C561.0 292.3 559.9 289.9 561.6 284.3 C563.4 278.7 564.9 274.3 566.9 270.2 C568.9 266.1 571.8 261.8 573.9 259.6 C576.0 257.4 577.4 257.0 579.2 257.0 C581.0 257.0 582.7 257.7 584.5 259.6 C586.3 261.5 588.0 265.8 589.8 268.4 C591.5 271.0 593.2 273.1 595.0 275.5 C596.8 277.9 598.8 280.9 600.3 282.5 C601.8 284.1 603.2 284.7 603.8 285.1" stroke="#98cc44" stroke-width="1.0" fill="none" /><path d="M516.9 366.9 L531.9 392.2" stroke="#e8b8a8" stroke-width="1.2"/><path d="M9 281.5 H643" stroke="#f0e2d0" stroke-width="1"/><rect x="11.5" y="532.6" width="2.5" height="16.4" fill="#587794"/><rect x="15.2" y="537.2" width="2.5" height="11.8" fill="#587794"/><rect x="18.9" y="534.5" width="2.5" height="14.5" fill="#587794"/><rect x="22.6" y="538.1" width="2.5" height="10.9" fill="#587794"/><rect x="26.2" y="538.4" width="2.5" height="10.6" fill="#587794"/><rect x="29.9" y="530.0" width="2.5" height="19.0" fill="#587794"/><rect x="33.6" y="529.2" width="2.5" height="19.8" fill="#587794"/><rect x="37.3" y="541.6" width="2.5" height="7.4" fill="#587794"/><rect x="41.0" y="532.9" width="2.5" height="16.1" fill="#587794"/><rect x="44.6" y="532.5" width="2.5" height="16.5" fill="#587794"/><rect x="48.3" y="543.9" width="2.5" height="5.1" fill="#587794"/><rect x="52.0" y="536.1" width="2.5" height="12.9" fill="#587794"/><rect x="55.7" y="541.5" width="2.5" height="7.5" fill="#587794"/><rect x="59.4" y="536.1" width="2.5" height="12.9" fill="#587794"/><rect x="63.0" y="538.6" width="2.5" height="10.4" fill="#587794"/><rect x="66.7" y="531.3" width="2.5" height="17.7" fill="#587794"/><rect x="70.4" y="538.5" width="2.5" height="10.5" fill="#587794"/><rect x="74.1" y="542.0" width="2.5" height="7.0" fill="#587794"/><rect x="77.8" y="536.8" width="2.5" height="12.2" fill="#587794"/><rect x="81.4" y="540.1" width="2.5" height="8.9" fill="#587794"/><rect x="85.1" y="539.1" width="2.5" height="9.9" fill="#587794"/><rect x="88.8" y="530.0" width="2.5" height="19.0" fill="#587794"/><rect x="92.5" y="540.4" width="2.5" height="8.6" fill="#587794"/><rect x="96.2" y="537.9" width="2.5" height="11.1" fill="#587794"/><rect x="99.8" y="533.5" width="2.5" height="15.5" fill="#587794"/><rect x="103.5" y="529.5" width="2.5" height="19.5" fill="#587794"/><rect x="107.2" y="542.0" width="2.5" height="7.0" fill="#587794"/><rect x="110.9" y="536.1" width="2.5" height="12.9" fill="#587794"/><rect x="114.6" y="539.8" width="2.5" height="9.2" fill="#587794"/><rect x="118.2" y="542.2" width="2.5" height="6.8" fill="#587794"/><rect x="121.9" y="539.7" width="2.5" height="9.3" fill="#587794"/><rect x="125.6" y="542.8" width="2.5" height="6.2" fill="#587794"/><rect x="129.3" y="534.9" width="2.5" height="14.1" fill="#587794"/><rect x="133.0" y="541.0" width="2.5" height="8.0" fill="#587794"/><rect x="136.6" y="535.7" width="2.5" height="13.3" fill="#587794"/><rect x="140.3" y="543.0" width="2.5" height="6.0" fill="#587794"/><rect x="144.0" y="542.2" width="2.5" height="6.8" fill="#587794"/><rect x="147.7" y="530.5" width="2.5" height="18.5" fill="#587794"/><rect x="151.4" y="531.0" width="2.5" height="18.0" fill="#587794"/><rect x="155.0" y="532.3" width="2.5" height="16.7" fill="#587794"/><rect x="158.7" y="543.5" width="2.5" height="5.5" fill="#587794"/><rect x="162.4" y="535.5" width="2.5" height="13.5" fill="#587794"/><rect x="166.1" y="538.4" width="2.5" height="10.6" fill="#587794"/><rect x="169.8" y="533.5" width="2.5" height="15.5" fill="#587794"/><rect x="173.4" y="536.6" width="2.5" height="12.4" fill="#587794"/><rect x="177.1" y="534.8" width="2.5" height="14.2" fill="#587794"/><rect x="180.8" y="534.3" width="2.5" height="14.7" fill="#587794"/><rect x="184.5" y="537.8" width="2.5" height="11.2" fill="#587794"/><rect x="188.2" y="537.8" width="2.5" height="11.2" fill="#587794"/><rect x="191.8" y="542.6" width="2.5" height="6.4" fill="#587794"/><rect x="195.5" y="539.2" width="2.5" height="9.8" fill="#587794"/><rect x="199.2" y="542.9" width="2.5" height="6.1" fill="#587794"/><rect x="202.9" y="541.8" width="2.5" height="7.2" fill="#587794"/><rect x="206.6" y="543.9" width="2.5" height="5.1" fill="#587794"/><rect x="210.2" y="539.1" width="2.5" height="9.9" fill="#587794"/><rect x="213.9" y="531.4" width="2.5" height="17.6" fill="#587794"/><rect x="217.6" y="541.9" width="2.5" height="7.1" fill="#587794"/><rect x="221.3" y="543.5" width="2.5" height="5.5" fill="#587794"/><rect x="225.0" y="542.6" width="2.5" height="6.4" fill="#587794"/><rect x="228.6" y="537.5" width="2.5" height="11.5" fill="#587794"/><rect x="232.3" y="539.7" width="2.5" height="9.3" fill="#587794"/><rect x="236.0" y="532.2" width="2.5" height="16.8" fill="#587794"/><rect x="239.7" y="541.5" width="2.5" height="7.5" fill="#587794"/><rect x="243.4" y="537.6" width="2.5" height="11.4" fill="#587794"/><rect x="247.0" y="533.3" width="2.5" height="15.7" fill="#587794"/><rect x="250.7" y="530.0" width="2.5" height="19.0" fill="#587794"/><rect x="254.4" y="541.8" width="2.5" height="7.2" fill="#587794"/><rect x="258.1" y="543.8" width="2.5" height="5.2" fill="#587794"/><rect x="261.8" y="530.3" width="2.5" height="18.7" fill="#587794"/><rect x="265.4" y="541.0" width="2.5" height="8.0" fill="#587794"/><rect x="269.1" y="535.2" width="2.5" height="13.8" fill="#587794"/><rect x="272.8" y="531.3" width="2.5" height="17.7" fill="#587794"/><rect x="276.5" y="533.4" width="2.5" height="15.6" fill="#587794"/><rect x="280.2" y="531.3" width="2.5" height="17.7" fill="#587794"/><rect x="283.8" y="539.8" width="2.5" height="9.2" fill="#587794"/><rect x="287.5" y="541.2" width="2.5" height="7.8" fill="#587794"/><rect x="291.2" y="539.8" width="2.5" height="9.2" fill="#587794"/><rect x="294.9" y="534.1" width="2.5" height="14.9" fill="#587794"/><rect x="298.6" y="536.0" width="2.5" height="13.0" fill="#587794"/><rect x="302.2" y="532.7" width="2.5" height="16.3" fill="#587794"/><rect x="305.9" y="539.8" width="2.5" height="9.2" fill="#587794"/><rect x="309.6" y="537.3" width="2.5" height="11.7" fill="#587794"/><rect x="313.3" y="538.4" width="2.5" height="10.6" fill="#587794"/><rect x="317.0" y="539.8" width="2.5" height="9.2" fill="#587794"/><rect x="320.6" y="523.1" width="2.5" height="25.9" fill="#587794"/><rect x="324.3" y="525.8" width="2.5" height="23.2" fill="#587794"/><rect x="328.0" y="529.1" width="2.5" height="19.9" fill="#587794"/><rect x="331.7" y="535.4" width="2.5" height="13.6" fill="#587794"/><rect x="335.4" y="535.0" width="2.5" height="14.0" fill="#587794"/><rect x="339.0" y="536.4" width="2.5" height="12.6" fill="#587794"/><rect x="342.7" y="543.2" width="2.5" height="5.8" fill="#587794"/><rect x="346.4" y="538.7" width="2.5" height="10.3" fill="#587794"/><rect x="350.1" y="529.9" width="2.5" height="19.1" fill="#587794"/><rect x="353.8" y="536.4" width="2.5" height="12.6" fill="#587794"/><rect x="357.4" y="540.9" width="2.5" height="8.1" fill="#587794"/><rect x="361.1" y="539.8" width="2.5" height="9.2" fill="#587794"/><rect x="364.8" y="531.3" width="2.5" height="17.7" fill="#587794"/><rect x="368.5" y="536.4" width="2.5" height="12.6" fill="#587794"/><rect x="372.2" y="532.7" width="2.5" height="16.3" fill="#587794"/><rect x="375.8" y="539.8" width="2.5" height="9.2" fill="#587794"/><rect x="379.5" y="536.4" width="2.5" height="12.6" fill="#587794"/><rect x="383.2" y="537.1" width="2.5" height="11.9" fill="#587794"/><rect x="386.9" y="541.2" width="2.5" height="7.8" fill="#587794"/><rect x="390.6" y="539.8" width="2.5" height="9.2" fill="#587794"/><rect x="394.2" y="541.2" width="2.5" height="7.8" fill="#587794"/><rect x="397.9" y="543.9" width="2.5" height="5.1" fill="#587794"/><rect x="401.6" y="541.9" width="2.5" height="7.1" fill="#587794"/><rect x="405.3" y="542.6" width="2.5" height="6.4" fill="#587794"/><rect x="409.0" y="543.2" width="2.5" height="5.8" fill="#587794"/><rect x="412.6" y="543.7" width="2.5" height="5.3" fill="#587794"/><rect x="416.3" y="540.5" width="2.5" height="8.5" fill="#587794"/><rect x="420.0" y="542.6" width="2.5" height="6.4" fill="#587794"/><rect x="423.7" y="542.6" width="2.5" height="6.4" fill="#587794"/><rect x="427.4" y="543.9" width="2.5" height="5.1" fill="#587794"/><rect x="431.0" y="541.9" width="2.5" height="7.1" fill="#587794"/><rect x="434.7" y="544.2" width="2.5" height="4.8" fill="#587794"/><rect x="438.4" y="544.2" width="2.5" height="4.8" fill="#587794"/><rect x="442.1" y="545.6" width="2.5" height="3.4" fill="#587794"/><rect x="445.8" y="544.6" width="2.5" height="4.4" fill="#587794"/><rect x="449.4" y="542.6" width="2.5" height="6.4" fill="#587794"/><rect x="453.1" y="544.6" width="2.5" height="4.4" fill="#587794"/><rect x="456.8" y="543.7" width="2.5" height="5.3" fill="#587794"/><rect x="460.5" y="543.9" width="2.5" height="5.1" fill="#587794"/><rect x="464.2" y="544.6" width="2.5" height="4.4" fill="#587794"/><rect x="467.8" y="546.0" width="2.5" height="3.0" fill="#587794"/><rect x="471.5" y="544.6" width="2.5" height="4.4" fill="#587794"/><rect x="475.2" y="545.3" width="2.5" height="3.7" fill="#587794"/><rect x="478.9" y="546.0" width="2.5" height="3.0" fill="#587794"/><rect x="482.6" y="546.0" width="2.5" height="3.0" fill="#587794"/><rect x="486.2" y="546.0" width="2.5" height="3.0" fill="#587794"/><rect x="489.9" y="546.0" width="2.5" height="3.0" fill="#587794"/><rect x="493.6" y="546.0" width="2.5" height="3.0" fill="#587794"/><rect x="497.3" y="545.3" width="2.5" height="3.7" fill="#587794"/><rect x="501.0" y="545.3" width="2.5" height="3.7" fill="#587794"/><rect x="504.6" y="539.8" width="2.5" height="9.2" fill="#587794"/><rect x="508.3" y="543.2" width="2.5" height="5.8" fill="#587794"/><rect x="512.0" y="545.3" width="2.5" height="3.7" fill="#587794"/><rect x="515.7" y="546.7" width="2.5" height="2.3" fill="#587794"/><rect x="519.4" y="536.8" width="2.5" height="12.2" fill="#587794"/><rect x="523.0" y="541.2" width="2.5" height="7.8" fill="#587794"/><rect x="526.7" y="541.2" width="2.5" height="7.8" fill="#587794"/><rect x="530.4" y="542.6" width="2.5" height="6.4" fill="#587794"/><rect x="534.1" y="541.2" width="2.5" height="7.8" fill="#587794"/><rect x="537.8" y="516.2" width="2.5" height="32.8" fill="#587794"/><rect x="541.4" y="531.6" width="2.5" height="17.4" fill="#587794"/><rect x="545.1" y="532.3" width="2.5" height="16.7" fill="#587794"/><rect x="548.8" y="512.1" width="2.5" height="36.9" fill="#587794"/><rect x="552.5" y="532.7" width="2.5" height="16.3" fill="#587794"/><rect x="556.2" y="540.5" width="2.5" height="8.5" fill="#587794"/><rect x="559.8" y="511.0" width="2.5" height="38.0" fill="#587794"/><rect x="563.5" y="519.9" width="2.5" height="29.1" fill="#587794"/><rect x="567.2" y="535.0" width="2.5" height="14.0" fill="#587794"/><rect x="570.9" y="535.0" width="2.5" height="14.0" fill="#587794"/><rect x="574.6" y="537.1" width="2.5" height="11.9" fill="#587794"/><rect x="578.2" y="539.1" width="2.5" height="9.9" fill="#587794"/><rect x="581.9" y="529.1" width="2.5" height="19.9" fill="#587794"/><rect x="585.6" y="526.1" width="2.5" height="22.9" fill="#587794"/><rect x="589.3" y="533.0" width="2.5" height="16.0" fill="#587794"/><rect x="593.0" y="539.1" width="2.5" height="9.9" fill="#587794"/><rect x="596.6" y="540.5" width="2.5" height="8.5" fill="#587794"/><rect x="600.3" y="538.4" width="2.5" height="10.6" fill="#587794"/><rect x="604.0" y="538.2" width="2.5" height="10.8" fill="#587794"/><path d="M10.0 538.0 C18.3 537.5 41.7 536.0 60.0 535.0 C78.3 534.0 100.0 531.8 120.0 532.0 C140.0 532.2 160.0 535.8 180.0 536.0 C200.0 536.2 223.3 533.8 240.0 533.0 C256.7 532.2 274.2 531.9 280.0 531.0 C285.8 530.1 274.9 528.2 275.0 527.5 C275.1 526.8 278.9 526.2 280.5 526.8 C282.1 527.4 283.2 530.0 284.6 530.9 C286.0 531.8 287.1 531.3 288.7 532.3 C290.3 533.3 292.4 536.0 294.2 536.8 C296.0 537.5 297.4 537.0 299.7 536.8 C302.0 536.6 305.7 535.5 308.0 535.4 C310.3 535.3 311.6 536.0 313.4 536.0 C315.2 536.0 317.3 535.9 318.9 535.4 C320.5 534.9 321.7 533.7 323.1 533.0 C324.5 532.3 325.1 531.8 327.2 531.3 C329.2 530.8 333.3 529.6 335.4 529.9 C337.4 530.2 337.9 531.8 339.5 533.0 C341.1 534.2 343.2 536.5 345.0 537.1 C346.8 537.7 348.4 536.4 350.5 536.4 C352.6 536.4 355.1 537.3 357.4 537.1 C359.7 536.9 361.9 535.5 364.2 535.4 C366.5 535.3 368.6 536.7 371.1 536.8 C373.6 536.9 377.0 536.1 379.3 536.0 C381.6 535.9 383.0 536.0 384.8 536.4 C386.6 536.8 388.5 537.8 390.3 538.4 C392.1 539.0 394.0 539.3 395.8 539.8 C397.6 540.3 399.5 540.9 401.3 541.2 C403.1 541.6 405.0 541.7 406.8 541.9 C408.6 542.1 410.0 542.7 412.3 542.6 C414.6 542.5 417.8 541.4 420.5 541.2 C423.2 541.0 426.1 541.2 428.8 541.5 C431.6 541.8 434.2 542.8 437.0 543.2 C439.8 543.6 443.1 543.7 445.3 543.9 C447.5 544.1 446.9 544.1 450.0 544.2 C453.1 544.3 459.1 544.4 463.7 544.6 C468.3 544.8 472.9 545.2 477.5 545.3 C482.1 545.4 486.6 545.6 491.2 545.3 C495.8 545.0 501.5 544.1 504.9 543.7 C508.3 543.4 509.5 543.4 511.8 543.2 C514.1 543.0 516.1 542.8 518.6 542.6 C521.1 542.4 524.4 542.2 526.9 541.9 C529.4 541.5 532.0 541.3 533.8 540.5 C535.6 539.7 535.8 538.5 537.9 537.1 C540.0 535.7 543.8 534.2 546.1 532.3 C548.4 530.3 550.2 526.7 551.6 525.4 C553.0 524.1 553.4 523.8 554.3 524.4 C555.2 525.0 556.0 528.8 557.1 528.8 C558.2 528.8 560.0 525.7 561.2 524.7 C562.5 523.8 563.5 522.6 564.6 523.1 C565.8 523.6 566.4 526.8 568.1 527.5 C569.8 528.2 573.1 526.7 574.9 527.5 C576.7 528.3 578.0 531.2 579.1 532.3 C580.2 533.4 580.4 534.2 581.8 534.3 C583.2 534.4 585.0 533.2 587.3 533.0 C589.6 532.8 593.2 532.7 595.5 533.0 C597.8 533.3 599.4 534.2 601.0 535.0 C602.6 535.8 604.4 537.3 605.1 537.8" stroke="#98cc44" stroke-width="1.0" fill="none" /><path d="M10.0 539.0 C33.3 538.7 105.0 537.1 150.0 537.0 C195.0 536.9 258.2 538.3 280.0 538.5 C301.8 538.7 277.9 538.5 280.5 538.4 C283.1 538.3 290.8 538.1 295.6 537.8 C300.4 537.5 305.2 536.7 309.3 536.4 C313.4 536.1 316.9 536.4 320.3 536.0 C323.7 535.6 326.5 534.7 329.9 534.3 C333.3 533.9 337.2 533.8 340.9 533.6 C344.6 533.4 348.2 533.1 351.9 533.2 C355.6 533.3 359.2 534.0 362.9 534.3 C366.6 534.6 370.2 534.8 373.9 535.0 C377.5 535.2 381.1 535.2 384.8 535.4 C388.5 535.6 392.1 535.8 395.8 536.0 C399.5 536.2 403.1 536.4 406.8 536.8 C410.5 537.2 414.1 537.8 417.8 538.2 C421.5 538.6 425.1 538.8 428.8 539.1 C432.5 539.4 436.3 539.6 439.8 539.8 C443.3 540.0 446.0 540.1 450.0 540.5 C454.0 540.9 459.1 541.4 463.7 541.9 C468.3 542.4 472.9 543.4 477.5 543.7 C482.1 544.0 486.6 543.9 491.2 543.9 C495.8 543.9 500.3 543.7 504.9 543.7 C509.5 543.7 514.0 544.0 518.6 543.9 C523.2 543.8 529.0 543.5 532.4 543.2 C535.8 542.9 536.9 542.3 539.2 541.9 C541.5 541.5 543.8 541.3 546.1 540.9 C548.4 540.5 550.7 540.1 553.0 539.5 C555.3 538.9 557.3 537.8 559.8 537.3 C562.3 536.8 565.4 536.7 568.1 536.4 C570.9 536.1 573.5 535.8 576.3 535.4 C579.0 535.0 581.9 534.5 584.6 534.1 C587.4 533.7 589.4 533.4 592.8 533.2 C596.2 533.1 603.0 533.2 605.1 533.2" stroke="#e2882c" stroke-width="1.0" fill="none" /><path d="M10.0 539.0 C55.0 539.0 234.9 539.0 280.0 539.0 C325.1 539.0 272.2 539.2 280.5 539.1 C288.8 539.0 312.5 538.5 329.9 538.4 C347.3 538.2 370.1 538.2 384.8 538.2 C399.5 538.2 406.9 538.3 417.8 538.4 C428.7 538.5 437.8 538.8 450.0 538.9 C462.2 539.0 477.5 539.1 491.2 539.1 C504.9 539.1 518.7 539.2 532.4 539.1 C546.1 539.0 561.5 538.5 573.6 538.4 C585.7 538.3 599.9 538.4 605.1 538.4" stroke="#5a5aff" stroke-width="1.0" fill="none" /><path d="M9.3 589.2 L13.5 591.3 L18.9 610.5 L24.2 595.6 L28.5 589.2 L32.8 604.1 L37.0 600.9 L42.4 606.3 L47.7 597.7 L55.2 587.0 L60.5 599.9 L64.8 607.3 L69.1 602.0 L73.3 605.2 L77.6 604.1 L81.9 606.3 L85.1 619.1 L90.4 629.8 L95.8 638.3 L100.0 628.7 L104.3 628.7 L107.5 633.6 L113.9 622.3 L118.2 620.1 L125.7 610.5 L129.9 621.2 L133.1 618.0 L136.4 621.2 L140.0 584.9 L143.8 616.9 L147.0 626.5 L152.4 618.0 L155.6 626.5 L160.9 628.7 L166.3 620.1 L171.6 627.6 L175.9 629.8 L178.0 639.4 L181.2 635.1 L184.4 621.2 L188.7 644.7 L194.0 638.3 L199.4 639.4 L203.6 650.0 L210.0 628.7 L214.3 639.4 L218.6 644.7 L221.8 661.8 L225.0 660.7 L230.3 657.5 L235.7 649.0 L239.9 640.4 L244.2 629.8 L248.5 623.3 L252.7 615.9 L258.1 605.2 L261.3 584.9 L267.7 573.2 L276.2 570.0 L275.1 581.8 L280.2 593.7 L285.3 590.3 L290.4 600.5 L295.5 589.3 L302.2 595.4 L307.3 595.4 L314.1 607.3 L319.2 602.9 L324.3 615.8 L329.4 618.5 L332.8 642.9 L336.2 632.7 L339.6 654.8 L343.0 653.1 L347.4 657.2 L350.8 642.9 L356.6 644.6 L361.6 646.3 L368.4 621.9 L371.8 622.6 L376.9 629.4 L380.3 614.1 L385.4 612.4 L390.5 622.6 L397.3 615.8 L402.4 631.0 L405.8 634.4 L409.2 647.0 L416.0 631.0 L421.0 642.9 L429.5 626.0 L436.3 622.6 L439.7 614.1 L443.1 619.2 L449.9 597.1 L453.3 608.3 L458.4 575.7 L463.5 580.1 L470.3 609.0 L473.7 609.7 L477.1 631.0 L482.1 629.4 L487.2 668.4 L492.3 646.3 L497.4 629.4 L504.2 602.2 L511.0 597.1 L514.4 597.8 L522.9 578.4 L528.0 578.4 L533.1 585.2 L538.2 583.5 L543.2 577.8 L544.9 593.7 L550.0 590.3 L553.4 576.7 L558.5 575.7 L561.9 580.1 L565.3 578.4 L570.4 581.8 L575.5 586.9 L578.9 578.4 L584.0 600.5 L587.4 619.2 L590.8 622.6 L594.2 614.1 L597.6 641.2 L600.9 639.5 L606.0 636.1" stroke="#98cc44" stroke-width="1.0" fill="none" /><rect x="11.4" y="748.9" width="2.7" height="3.3" fill="#b0309e"/><rect x="15.1" y="749.2" width="2.7" height="3.0" fill="#b0309e"/><rect x="18.8" y="750.2" width="2.7" height="2.0" fill="#b0309e"/><rect x="22.5" y="751.0" width="2.7" height="1.2" fill="#b0309e"/><rect x="26.1" y="751.5" width="2.7" height="0.7" fill="#b0309e"/><rect x="33.5" y="752.2" width="2.7" height="0.7" fill="#5a3ac8"/><rect x="37.2" y="752.2" width="2.7" height="1.4" fill="#5a3ac8"/><rect x="40.9" y="752.2" width="2.7" height="1.1" fill="#5a3ac8"/><rect x="48.2" y="750.7" width="2.7" height="1.5" fill="#b0309e"/><rect x="51.9" y="748.8" width="2.7" height="3.4" fill="#b0309e"/><rect x="55.6" y="748.8" width="2.7" height="3.4" fill="#b0309e"/><rect x="59.3" y="749.0" width="2.7" height="3.2" fill="#b0309e"/><rect x="62.9" y="750.9" width="2.7" height="1.3" fill="#b0309e"/><rect x="66.6" y="752.2" width="2.7" height="1.5" fill="#5a3ac8"/><rect x="70.3" y="752.2" width="2.7" height="1.8" fill="#5a3ac8"/><rect x="74.0" y="752.2" width="2.7" height="2.0" fill="#5a3ac8"/><rect x="77.7" y="752.2" width="2.7" height="2.3" fill="#5a3ac8"/><rect x="81.3" y="752.2" width="2.7" height="2.5" fill="#5a3ac8"/><rect x="85.0" y="752.2" width="2.7" height="2.8" fill="#5a3ac8"/><rect x="88.7" y="752.2" width="2.7" height="3.1" fill="#5a3ac8"/><rect x="92.4" y="752.2" width="2.7" height="3.3" fill="#5a3ac8"/><rect x="96.1" y="752.2" width="2.7" height="3.6" fill="#5a3ac8"/><rect x="99.7" y="752.2" width="2.7" height="3.9" fill="#5a3ac8"/><rect x="103.4" y="752.2" width="2.7" height="4.0" fill="#5a3ac8"/><rect x="107.1" y="752.2" width="2.7" height="3.3" fill="#5a3ac8"/><rect x="110.8" y="752.2" width="2.7" height="2.5" fill="#5a3ac8"/><rect x="114.5" y="752.2" width="2.7" height="1.6" fill="#5a3ac8"/><rect x="121.8" y="750.8" width="2.7" height="1.4" fill="#b0309e"/><rect x="125.5" y="750.8" width="2.7" height="1.4" fill="#b0309e"/><rect x="129.2" y="750.6" width="2.7" height="1.6" fill="#b0309e"/><rect x="132.9" y="750.1" width="2.7" height="2.1" fill="#b0309e"/><rect x="136.5" y="750.1" width="2.7" height="2.1" fill="#b0309e"/><rect x="140.2" y="750.3" width="2.7" height="1.9" fill="#b0309e"/><rect x="147.6" y="752.2" width="2.7" height="1.0" fill="#5a3ac8"/><rect x="151.3" y="752.2" width="2.7" height="1.2" fill="#5a3ac8"/><rect x="154.9" y="752.2" width="2.7" height="1.4" fill="#5a3ac8"/><rect x="158.6" y="752.2" width="2.7" height="1.2" fill="#5a3ac8"/><rect x="162.3" y="752.2" width="2.7" height="1.0" fill="#5a3ac8"/><rect x="166.0" y="752.2" width="2.7" height="0.8" fill="#5a3ac8"/><rect x="169.7" y="752.2" width="2.7" height="1.3" fill="#5a3ac8"/><rect x="173.3" y="752.2" width="2.7" height="1.8" fill="#5a3ac8"/><rect x="177.0" y="752.2" width="2.7" height="1.9" fill="#5a3ac8"/><rect x="180.7" y="752.2" width="2.7" height="1.9" fill="#5a3ac8"/><rect x="184.4" y="752.2" width="2.7" height="1.9" fill="#5a3ac8"/><rect x="188.1" y="752.2" width="2.7" height="1.9" fill="#5a3ac8"/><rect x="191.7" y="752.2" width="2.7" height="1.9" fill="#5a3ac8"/><rect x="195.4" y="752.2" width="2.7" height="1.8" fill="#5a3ac8"/><rect x="199.1" y="752.2" width="2.7" height="1.7" fill="#5a3ac8"/><rect x="202.8" y="752.2" width="2.7" height="1.5" fill="#5a3ac8"/><rect x="206.5" y="752.2" width="2.7" height="1.4" fill="#5a3ac8"/><rect x="217.5" y="752.2" width="2.7" height="3.0" fill="#5a3ac8"/><rect x="221.2" y="752.2" width="2.7" height="3.9" fill="#5a3ac8"/><rect x="224.9" y="752.2" width="2.7" height="4.2" fill="#5a3ac8"/><rect x="228.5" y="752.2" width="2.7" height="4.6" fill="#5a3ac8"/><rect x="232.2" y="752.2" width="2.7" height="4.1" fill="#5a3ac8"/><rect x="235.9" y="752.2" width="2.7" height="2.5" fill="#5a3ac8"/><rect x="239.6" y="750.8" width="2.7" height="1.4" fill="#b0309e"/><rect x="243.3" y="749.8" width="2.7" height="2.4" fill="#b0309e"/><rect x="246.9" y="749.5" width="2.7" height="2.7" fill="#b0309e"/><rect x="250.6" y="749.2" width="2.7" height="3.0" fill="#b0309e"/><rect x="254.3" y="748.3" width="2.7" height="3.9" fill="#b0309e"/><rect x="258.0" y="747.2" width="2.7" height="5.0" fill="#b0309e"/><rect x="261.7" y="746.1" width="2.7" height="6.1" fill="#b0309e"/><rect x="265.3" y="744.7" width="2.7" height="7.5" fill="#b0309e"/><rect x="269.0" y="743.2" width="2.7" height="9.0" fill="#b0309e"/><rect x="272.7" y="741.2" width="2.7" height="11.0" fill="#b0309e"/><rect x="276.4" y="739.2" width="2.7" height="13.0" fill="#b0309e"/><rect x="280.1" y="741.1" width="2.7" height="11.1" fill="#b0309e"/><rect x="283.7" y="742.9" width="2.7" height="9.3" fill="#b0309e"/><rect x="287.4" y="745.5" width="2.7" height="6.7" fill="#b0309e"/><rect x="291.1" y="747.7" width="2.7" height="4.5" fill="#b0309e"/><rect x="294.8" y="749.0" width="2.7" height="3.2" fill="#b0309e"/><rect x="298.5" y="749.0" width="2.7" height="3.2" fill="#b0309e"/><rect x="302.1" y="748.7" width="2.7" height="3.5" fill="#b0309e"/><rect x="305.8" y="749.1" width="2.7" height="3.1" fill="#b0309e"/><rect x="309.5" y="749.8" width="2.7" height="2.4" fill="#b0309e"/><rect x="313.2" y="751.3" width="2.7" height="0.9" fill="#b0309e"/><rect x="316.9" y="752.2" width="2.7" height="1.7" fill="#5a3ac8"/><rect x="320.5" y="752.2" width="2.7" height="3.2" fill="#5a3ac8"/><rect x="324.2" y="752.2" width="2.7" height="4.6" fill="#5a3ac8"/><rect x="327.9" y="752.2" width="2.7" height="6.0" fill="#5a3ac8"/><rect x="331.6" y="752.2" width="2.7" height="6.9" fill="#5a3ac8"/><rect x="335.3" y="752.2" width="2.7" height="7.8" fill="#5a3ac8"/><rect x="338.9" y="752.2" width="2.7" height="8.7" fill="#5a3ac8"/><rect x="342.6" y="752.2" width="2.7" height="9.7" fill="#5a3ac8"/><rect x="346.3" y="752.2" width="2.7" height="9.9" fill="#5a3ac8"/><rect x="350.0" y="752.2" width="2.7" height="9.1" fill="#5a3ac8"/><rect x="353.7" y="752.2" width="2.7" height="8.4" fill="#5a3ac8"/><rect x="357.3" y="752.2" width="2.7" height="7.6" fill="#5a3ac8"/><rect x="361.0" y="752.2" width="2.7" height="6.8" fill="#5a3ac8"/><rect x="364.7" y="752.2" width="2.7" height="6.0" fill="#5a3ac8"/><rect x="368.4" y="752.2" width="2.7" height="5.1" fill="#5a3ac8"/><rect x="372.1" y="752.2" width="2.7" height="4.3" fill="#5a3ac8"/><rect x="375.7" y="752.2" width="2.7" height="3.5" fill="#5a3ac8"/><rect x="379.4" y="752.2" width="2.7" height="2.6" fill="#5a3ac8"/><rect x="383.1" y="752.2" width="2.7" height="2.1" fill="#5a3ac8"/><rect x="386.8" y="752.2" width="2.7" height="2.4" fill="#5a3ac8"/><rect x="390.5" y="752.2" width="2.7" height="2.7" fill="#5a3ac8"/><rect x="394.1" y="752.2" width="2.7" height="3.0" fill="#5a3ac8"/><rect x="397.8" y="752.2" width="2.7" height="3.2" fill="#5a3ac8"/><rect x="401.5" y="752.2" width="2.7" height="3.4" fill="#5a3ac8"/><rect x="405.2" y="752.2" width="2.7" height="3.5" fill="#5a3ac8"/><rect x="408.9" y="752.2" width="2.7" height="3.6" fill="#5a3ac8"/><rect x="412.5" y="752.2" width="2.7" height="3.6" fill="#5a3ac8"/><rect x="416.2" y="752.2" width="2.7" height="3.3" fill="#5a3ac8"/><rect x="419.9" y="752.2" width="2.7" height="3.0" fill="#5a3ac8"/><rect x="423.6" y="752.2" width="2.7" height="2.8" fill="#5a3ac8"/><rect x="427.3" y="752.2" width="2.7" height="1.9" fill="#5a3ac8"/><rect x="434.6" y="750.7" width="2.7" height="1.5" fill="#b0309e"/><rect x="438.3" y="750.5" width="2.7" height="1.7" fill="#b0309e"/><rect x="442.0" y="750.4" width="2.7" height="1.8" fill="#b0309e"/><rect x="445.7" y="750.2" width="2.7" height="2.0" fill="#b0309e"/><rect x="449.3" y="750.1" width="2.7" height="2.1" fill="#b0309e"/><rect x="453.0" y="750.2" width="2.7" height="2.0" fill="#b0309e"/><rect x="456.7" y="750.4" width="2.7" height="1.8" fill="#b0309e"/><rect x="460.4" y="750.5" width="2.7" height="1.7" fill="#b0309e"/><rect x="464.1" y="750.6" width="2.7" height="1.6" fill="#b0309e"/><rect x="471.4" y="752.2" width="2.7" height="3.2" fill="#5a3ac8"/><rect x="475.1" y="752.2" width="2.7" height="3.9" fill="#5a3ac8"/><rect x="478.8" y="752.2" width="2.7" height="4.2" fill="#5a3ac8"/><rect x="482.5" y="752.2" width="2.7" height="4.5" fill="#5a3ac8"/><rect x="486.1" y="752.2" width="2.7" height="4.5" fill="#5a3ac8"/><rect x="489.8" y="752.2" width="2.7" height="4.3" fill="#5a3ac8"/><rect x="493.5" y="752.2" width="2.7" height="4.1" fill="#5a3ac8"/><rect x="497.2" y="752.2" width="2.7" height="1.5" fill="#5a3ac8"/><rect x="500.9" y="749.2" width="2.7" height="3.0" fill="#b0309e"/><rect x="504.5" y="748.5" width="2.7" height="3.7" fill="#b0309e"/><rect x="508.2" y="747.9" width="2.7" height="4.3" fill="#b0309e"/><rect x="511.9" y="747.3" width="2.7" height="4.9" fill="#b0309e"/><rect x="515.6" y="746.7" width="2.7" height="5.5" fill="#b0309e"/><rect x="519.3" y="746.1" width="2.7" height="6.1" fill="#b0309e"/><rect x="522.9" y="745.4" width="2.7" height="6.8" fill="#b0309e"/><rect x="526.6" y="744.6" width="2.7" height="7.6" fill="#b0309e"/><rect x="530.3" y="743.7" width="2.7" height="8.5" fill="#b0309e"/><rect x="534.0" y="742.8" width="2.7" height="9.4" fill="#b0309e"/><rect x="537.7" y="741.8" width="2.7" height="10.4" fill="#b0309e"/><rect x="541.3" y="740.9" width="2.7" height="11.3" fill="#b0309e"/><rect x="545.0" y="740.0" width="2.7" height="12.2" fill="#b0309e"/><rect x="548.7" y="739.1" width="2.7" height="13.1" fill="#b0309e"/><rect x="552.4" y="738.2" width="2.7" height="14.0" fill="#b0309e"/><rect x="556.1" y="737.3" width="2.7" height="14.9" fill="#b0309e"/><rect x="559.7" y="736.7" width="2.7" height="15.5" fill="#b0309e"/><rect x="563.4" y="737.6" width="2.7" height="14.6" fill="#b0309e"/><rect x="567.1" y="739.2" width="2.7" height="13.0" fill="#b0309e"/><rect x="570.8" y="741.1" width="2.7" height="11.1" fill="#b0309e"/><rect x="574.5" y="744.8" width="2.7" height="7.4" fill="#b0309e"/><rect x="578.1" y="748.1" width="2.7" height="4.1" fill="#b0309e"/><rect x="581.8" y="752.2" width="2.7" height="2.9" fill="#5a3ac8"/><rect x="585.5" y="752.2" width="2.7" height="9.4" fill="#5a3ac8"/><rect x="589.2" y="752.2" width="2.7" height="13.1" fill="#5a3ac8"/><rect x="592.9" y="752.2" width="2.7" height="15.3" fill="#5a3ac8"/><rect x="596.5" y="752.2" width="2.7" height="16.2" fill="#5a3ac8"/><rect x="600.2" y="752.2" width="2.7" height="15.4" fill="#5a3ac8"/><rect x="603.9" y="752.2" width="2.7" height="13.4" fill="#5a3ac8"/><path d="M9.6 747.3 C11.7 746.8 17.6 745.0 22.0 744.5 C26.4 744.0 31.1 744.6 35.7 744.5 C40.3 744.4 44.8 744.3 49.4 743.7 C54.0 743.1 59.1 741.2 63.2 741.0 C67.3 740.8 70.0 741.9 74.1 742.6 C78.2 743.3 82.0 744.2 87.9 745.4 C93.9 746.6 103.4 749.2 109.8 750.0 C116.2 750.8 120.8 749.9 126.3 750.0 C131.8 750.1 136.4 750.3 142.8 750.8 C149.2 751.3 157.5 752.0 164.8 752.8 C172.1 753.6 179.4 754.7 186.7 755.5 C194.0 756.3 203.2 756.9 208.7 757.4 C214.2 757.9 215.6 757.6 219.7 758.3 C223.8 759.0 228.8 761.8 233.4 761.8 C238.0 761.8 242.5 759.6 247.1 758.3 C251.7 757.0 256.3 756.2 260.9 754.1 C265.5 752.0 270.0 748.4 274.6 745.9 C279.2 743.4 283.7 740.8 288.3 739.0 C292.9 737.2 297.5 735.9 302.1 734.9 C306.7 733.9 311.2 732.2 315.8 732.7 C320.4 733.2 324.9 735.5 329.5 737.7 C334.1 739.9 336.6 742.9 343.2 745.9 C349.8 748.9 359.9 754.3 369.0 755.9 C378.1 757.5 389.3 754.9 398.0 755.4 C406.7 755.9 414.9 758.7 421.2 758.8 C427.5 758.9 429.9 757.2 435.7 755.9 C441.5 754.6 450.1 752.1 455.9 751.0 C461.7 749.9 463.6 748.4 470.4 749.0 C477.2 749.6 490.2 754.9 496.5 754.8 C502.8 754.6 503.3 750.5 508.1 748.1 C512.9 745.7 519.7 743.0 525.5 740.3 C531.3 737.5 537.1 735.4 542.9 731.6 C548.7 727.8 555.5 721.2 560.3 717.7 C565.1 714.2 568.5 712.1 571.9 710.4 C575.3 708.7 577.7 707.0 580.6 707.5 C583.5 708.0 585.9 710.6 589.3 713.3 C592.7 716.0 598.2 720.9 600.9 723.5 C603.5 726.1 604.5 727.8 605.2 728.7" stroke="#e2882c" stroke-width="1.0" fill="none" /><path d="M9.6 743.7 C10.3 743.2 11.6 740.9 13.7 741.0 C15.8 741.1 19.2 744.2 22.0 744.5 C24.8 744.8 27.0 742.4 30.2 742.6 C33.4 742.8 38.0 746.0 41.2 745.9 C44.4 745.8 46.6 743.1 49.4 741.8 C52.1 740.5 55.0 738.3 57.7 738.2 C60.5 738.1 63.2 740.1 65.9 741.0 C68.6 741.9 71.3 742.9 74.1 743.7 C76.8 744.5 79.2 745.1 82.4 745.9 C85.6 746.7 89.8 747.8 93.4 748.6 C97.1 749.4 100.7 750.6 104.3 750.8 C107.9 751.0 111.2 750.3 115.3 750.0 C119.4 749.7 125.0 749.3 129.1 749.2 C133.2 749.1 136.3 748.8 140.0 749.2 C143.7 749.6 146.9 750.7 151.0 751.4 C155.1 752.1 160.7 752.9 164.8 753.6 C168.9 754.3 172.0 754.7 175.7 755.5 C179.3 756.3 183.0 757.8 186.7 758.3 C190.4 758.8 193.1 758.3 197.7 758.3 C202.3 758.3 210.5 758.1 214.2 758.3 C217.9 758.5 216.9 758.7 219.7 759.6 C222.4 760.5 227.0 763.6 230.7 763.8 C234.3 764.0 237.9 762.6 241.6 761.0 C245.2 759.4 248.9 755.9 252.6 754.1 C256.3 752.3 259.9 753.2 263.6 750.0 C267.3 746.8 272.3 738.0 274.6 734.9 C276.9 731.8 275.0 732.0 277.3 731.6 C279.6 731.2 285.1 731.9 288.3 732.7 C291.5 733.5 294.3 736.6 296.6 736.3 C298.9 736.0 299.4 731.6 302.1 730.8 C304.8 730.0 309.4 730.5 313.0 731.6 C316.6 732.8 320.3 734.4 324.0 737.7 C327.7 741.0 331.3 747.8 335.0 751.4 C338.7 755.0 341.8 758.2 346.0 759.6 C350.2 761.0 356.5 760.4 360.3 759.7 C364.1 759.0 365.1 756.2 369.0 755.4 C372.9 754.6 378.7 754.7 383.5 754.8 C388.3 754.9 393.2 754.6 398.0 755.9 C402.8 757.2 408.6 762.0 412.5 762.6 C416.4 763.2 417.8 761.2 421.2 759.7 C424.6 758.2 428.0 755.6 432.8 753.9 C437.6 752.2 445.3 750.7 450.1 749.6 C454.9 748.5 457.4 747.0 461.7 747.2 C466.0 747.4 471.4 749.2 476.2 751.0 C481.0 752.8 486.3 758.2 490.7 757.7 C495.1 757.2 498.4 750.4 502.3 748.1 C506.2 745.8 510.0 745.5 513.9 743.8 C517.8 742.1 521.6 740.9 525.5 738.0 C529.4 735.1 533.2 729.8 537.1 726.4 C541.0 723.0 544.8 720.9 548.7 717.7 C552.6 714.6 557.2 710.4 560.3 707.5 C563.4 704.6 564.6 701.1 567.5 700.3 C570.4 699.5 575.0 701.1 577.7 702.6 C580.4 704.1 581.6 705.0 583.5 709.0 C585.4 713.0 587.4 722.5 589.3 726.4 C591.2 730.3 592.7 729.7 595.1 732.2 C597.5 734.7 602.1 739.7 603.8 741.4 C605.5 743.1 605.0 742.1 605.2 742.3" stroke="#98cc44" stroke-width="1.0" fill="none" /><text x="10" y="519" fill="#8a8a8a" font-size="13" text-anchor="start" >出来高</text><text x="10" y="572" fill="#8a8a8a" font-size="13" text-anchor="start" >RSI</text><text x="10" y="705" fill="#8a8a8a" font-size="13" text-anchor="start" >MACD</text><linearGradient id="gN1" x1="0" y1="0" x2="0" y2="1"><stop offset="0" stop-color="#2c3868"/><stop offset="1" stop-color="#1c2444"/></linearGradient><linearGradient id="gN2" x1="0" y1="0" x2="0" y2="1"><stop offset="0" stop-color="#52649c"/><stop offset="1" stop-color="#3e4c7a"/></linearGradient><rect x="478" y="822" width="229" height="25" fill="#30353f"/><path d="M3.0 847.0 L2.7 841.0 L4.9 841.0 L7.1 841.3 L9.3 840.6 L11.5 840.5 L13.7 840.4 L16.0 839.7 L18.3 839.9 L20.6 839.9 L22.9 839.9 L25.2 838.9 L27.5 839.0 L29.8 838.3 L32.1 838.8 L34.4 838.3 L36.6 837.2 L38.9 837.9 L41.2 837.6 L43.5 837.1 L45.8 836.9 L48.0 836.3 L50.3 836.0 L52.6 836.5 L54.9 835.9 L57.0 835.9 L59.0 835.9 L61.1 835.5 L63.2 836.0 L65.2 835.8 L67.3 836.2 L69.3 835.7 L71.4 835.8 L73.7 834.4 L76.0 833.4 L78.3 831.9 L79.6 830.6 L82.3 832.0 L85.1 832.6 L87.8 832.2 L90.6 831.7 L92.7 830.9 L94.8 830.5 L96.8 830.2 L98.9 829.6 L101.1 830.0 L103.3 829.2 L105.4 829.4 L107.6 828.4 L109.8 828.7 L112.0 828.8 L114.2 828.0 L116.4 828.5 L118.6 829.6 L120.8 829.3 L123.0 829.8 L125.2 828.9 L127.4 828.4 L129.6 829.0 L131.8 829.0 L134.0 828.3 L136.2 828.0 L138.4 828.2 L140.6 828.9 L142.8 828.5 L145.0 827.6 L147.2 827.7 L149.4 827.4 L151.6 827.2 L153.8 828.0 L155.9 827.1 L157.9 827.4 L159.9 827.2 L162.0 826.7 L164.8 828.5 L167.6 829.4 L170.3 831.7 L172.4 831.7 L174.4 832.8 L176.4 833.2 L178.5 833.9 L181.2 835.1 L184.0 835.2 L186.1 835.0 L188.1 836.1 L190.1 835.7 L192.2 836.3 L194.9 836.0 L197.7 835.0 L199.9 834.5 L202.1 835.7 L204.3 834.9 L206.5 835.1 L208.7 835.9 L210.9 835.8 L213.1 836.1 L215.3 836.2 L217.5 836.6 L219.7 837.6 L222.0 837.3 L224.3 837.8 L226.6 837.6 L228.8 837.8 L231.1 838.6 L233.4 838.1 L235.7 838.1 L238.0 838.3 L240.2 837.4 L242.5 837.3 L244.8 838.1 L247.1 837.9 L249.3 837.1 L251.5 836.9 L253.7 837.5 L255.9 837.6 L258.1 836.6 L260.2 837.1 L262.2 836.6 L264.3 835.8 L266.4 835.2 L268.4 835.0 L270.5 835.0 L272.6 836.3 L274.6 835.6 L276.8 836.4 L279.0 836.0 L281.2 836.9 L283.4 836.9 L285.6 836.8 L287.8 836.7 L290.0 837.5 L292.2 836.8 L294.4 837.1 L296.6 837.6 L298.8 838.3 L301.0 838.3 L303.2 838.3 L305.4 839.4 L307.6 838.8 L309.8 839.0 L312.0 839.7 L314.1 840.3 L316.3 840.2 L318.5 840.7 L320.7 840.8 L322.9 840.9 L325.1 840.2 L327.3 840.3 L329.5 840.8 L331.7 840.8 L333.9 840.2 L336.1 840.2 L338.3 839.9 L340.5 839.3 L342.7 839.3 L344.9 839.4 L347.1 840.6 L349.3 840.4 L351.5 840.9 L352.0 839.7 L354.2 840.5 L356.4 840.4 L358.6 840.7 L360.8 840.2 L363.0 841.1 L365.1 839.8 L367.1 840.2 L369.1 840.2 L371.2 840.2 L374.0 839.5 L376.8 840.0 L379.5 840.7 L381.8 840.9 L384.1 840.4 L386.4 840.9 L388.6 841.3 L390.9 841.4 L393.2 841.0 L395.5 841.5 L397.8 841.6 L400.0 841.3 L402.3 841.4 L404.6 841.2 L406.9 841.5 L409.2 841.5 L411.5 840.8 L413.8 841.4 L416.0 841.8 L418.3 841.6 L420.6 841.4 L422.9 840.9 L425.2 841.3 L427.5 841.0 L429.8 840.8 L432.1 841.3 L434.4 840.3 L436.6 841.0 L438.8 840.0 L441.0 840.6 L443.2 840.4 L445.4 840.0 L447.6 840.6 L449.8 840.4 L451.9 840.6 L454.1 841.0 L456.3 840.2 L458.4 839.9 L460.4 840.2 L462.5 840.6 L464.6 840.0 L466.6 840.0 L468.7 840.8 L470.7 840.5 L472.8 840.2 L475.6 840.2 L478.3 839.0 L480.5 839.2 L482.7 838.5 L484.9 838.6 L487.1 838.8 L489.3 838.8 L492.1 838.4 L494.8 837.4 L497.0 837.8 L499.2 837.7 L501.4 837.7 L503.6 838.4 L505.8 839.0 L508.0 839.1 L510.2 839.1 L512.4 839.5 L514.6 838.8 L516.8 838.8 L519.0 839.2 L521.2 839.1 L523.3 839.2 L525.5 839.5 L527.7 839.9 L529.8 839.8 L531.8 839.6 L533.9 840.3 L536.0 840.6 L538.0 840.0 L540.1 839.6 L542.1 839.7 L544.2 840.7 L546.4 839.6 L548.6 840.3 L550.8 840.0 L553.0 839.6 L555.2 840.0 L557.4 838.9 L559.6 838.8 L561.8 839.0 L564.0 838.2 L566.2 839.0 L569.0 837.5 L571.7 836.6 L574.5 835.9 L577.2 836.1 L579.2 835.6 L581.3 835.5 L583.4 835.3 L585.4 835.2 L587.5 835.5 L589.5 835.3 L591.5 834.8 L593.6 835.3 L596.4 835.5 L599.1 835.8 L601.3 836.6 L603.5 837.1 L605.7 836.7 L607.9 837.0 L610.1 837.3 L612.3 837.9 L614.5 837.8 L616.7 838.0 L618.9 838.3 L621.1 838.0 L623.3 838.3 L625.5 838.3 L627.7 837.2 L629.9 838.1 L632.1 837.8 L634.3 837.0 L636.5 837.2 L638.7 837.4 L640.9 837.6 L643.1 836.9 L645.3 837.0 L647.5 837.2 L649.7 837.0 L651.9 837.1 L654.1 836.4 L656.1 836.3 L658.2 835.5 L660.2 835.8 L662.3 835.7 L664.3 834.9 L666.4 834.5 L668.5 833.3 L670.5 833.6 L673.2 832.3 L676.0 831.0 L678.8 828.8 L681.5 827.4 L684.2 826.3 L687.0 826.5 L689.8 827.2 L692.5 827.4 L695.0 827.6 L697.4 828.7 L697.4 847.0 Z" fill="url(#gN1)" clip-path="url(#clNavL1)"/><clipPath id="clNavL1"><rect x="2" y="800" width="476" height="47"/></clipPath><clipPath id="clNavL2"><rect x="478" y="800" width="229" height="47"/></clipPath><path d="M3.0 847.0 L2.7 841.0 L4.9 841.0 L7.1 841.3 L9.3 840.6 L11.5 840.5 L13.7 840.4 L16.0 839.7 L18.3 839.9 L20.6 839.9 L22.9 839.9 L25.2 838.9 L27.5 839.0 L29.8 838.3 L32.1 838.8 L34.4 838.3 L36.6 837.2 L38.9 837.9 L41.2 837.6 L43.5 837.1 L45.8 836.9 L48.0 836.3 L50.3 836.0 L52.6 836.5 L54.9 835.9 L57.0 835.9 L59.0 835.9 L61.1 835.5 L63.2 836.0 L65.2 835.8 L67.3 836.2 L69.3 835.7 L71.4 835.8 L73.7 834.4 L76.0 833.4 L78.3 831.9 L79.6 830.6 L82.3 832.0 L85.1 832.6 L87.8 832.2 L90.6 831.7 L92.7 830.9 L94.8 830.5 L96.8 830.2 L98.9 829.6 L101.1 830.0 L103.3 829.2 L105.4 829.4 L107.6 828.4 L109.8 828.7 L112.0 828.8 L114.2 828.0 L116.4 828.5 L118.6 829.6 L120.8 829.3 L123.0 829.8 L125.2 828.9 L127.4 828.4 L129.6 829.0 L131.8 829.0 L134.0 828.3 L136.2 828.0 L138.4 828.2 L140.6 828.9 L142.8 828.5 L145.0 827.6 L147.2 827.7 L149.4 827.4 L151.6 827.2 L153.8 828.0 L155.9 827.1 L157.9 827.4 L159.9 827.2 L162.0 826.7 L164.8 828.5 L167.6 829.4 L170.3 831.7 L172.4 831.7 L174.4 832.8 L176.4 833.2 L178.5 833.9 L181.2 835.1 L184.0 835.2 L186.1 835.0 L188.1 836.1 L190.1 835.7 L192.2 836.3 L194.9 836.0 L197.7 835.0 L199.9 834.5 L202.1 835.7 L204.3 834.9 L206.5 835.1 L208.7 835.9 L210.9 835.8 L213.1 836.1 L215.3 836.2 L217.5 836.6 L219.7 837.6 L222.0 837.3 L224.3 837.8 L226.6 837.6 L228.8 837.8 L231.1 838.6 L233.4 838.1 L235.7 838.1 L238.0 838.3 L240.2 837.4 L242.5 837.3 L244.8 838.1 L247.1 837.9 L249.3 837.1 L251.5 836.9 L253.7 837.5 L255.9 837.6 L258.1 836.6 L260.2 837.1 L262.2 836.6 L264.3 835.8 L266.4 835.2 L268.4 835.0 L270.5 835.0 L272.6 836.3 L274.6 835.6 L276.8 836.4 L279.0 836.0 L281.2 836.9 L283.4 836.9 L285.6 836.8 L287.8 836.7 L290.0 837.5 L292.2 836.8 L294.4 837.1 L296.6 837.6 L298.8 838.3 L301.0 838.3 L303.2 838.3 L305.4 839.4 L307.6 838.8 L309.8 839.0 L312.0 839.7 L314.1 840.3 L316.3 840.2 L318.5 840.7 L320.7 840.8 L322.9 840.9 L325.1 840.2 L327.3 840.3 L329.5 840.8 L331.7 840.8 L333.9 840.2 L336.1 840.2 L338.3 839.9 L340.5 839.3 L342.7 839.3 L344.9 839.4 L347.1 840.6 L349.3 840.4 L351.5 840.9 L352.0 839.7 L354.2 840.5 L356.4 840.4 L358.6 840.7 L360.8 840.2 L363.0 841.1 L365.1 839.8 L367.1 840.2 L369.1 840.2 L371.2 840.2 L374.0 839.5 L376.8 840.0 L379.5 840.7 L381.8 840.9 L384.1 840.4 L386.4 840.9 L388.6 841.3 L390.9 841.4 L393.2 841.0 L395.5 841.5 L397.8 841.6 L400.0 841.3 L402.3 841.4 L404.6 841.2 L406.9 841.5 L409.2 841.5 L411.5 840.8 L413.8 841.4 L416.0 841.8 L418.3 841.6 L420.6 841.4 L422.9 840.9 L425.2 841.3 L427.5 841.0 L429.8 840.8 L432.1 841.3 L434.4 840.3 L436.6 841.0 L438.8 840.0 L441.0 840.6 L443.2 840.4 L445.4 840.0 L447.6 840.6 L449.8 840.4 L451.9 840.6 L454.1 841.0 L456.3 840.2 L458.4 839.9 L460.4 840.2 L462.5 840.6 L464.6 840.0 L466.6 840.0 L468.7 840.8 L470.7 840.5 L472.8 840.2 L475.6 840.2 L478.3 839.0 L480.5 839.2 L482.7 838.5 L484.9 838.6 L487.1 838.8 L489.3 838.8 L492.1 838.4 L494.8 837.4 L497.0 837.8 L499.2 837.7 L501.4 837.7 L503.6 838.4 L505.8 839.0 L508.0 839.1 L510.2 839.1 L512.4 839.5 L514.6 838.8 L516.8 838.8 L519.0 839.2 L521.2 839.1 L523.3 839.2 L525.5 839.5 L527.7 839.9 L529.8 839.8 L531.8 839.6 L533.9 840.3 L536.0 840.6 L538.0 840.0 L540.1 839.6 L542.1 839.7 L544.2 840.7 L546.4 839.6 L548.6 840.3 L550.8 840.0 L553.0 839.6 L555.2 840.0 L557.4 838.9 L559.6 838.8 L561.8 839.0 L564.0 838.2 L566.2 839.0 L569.0 837.5 L571.7 836.6 L574.5 835.9 L577.2 836.1 L579.2 835.6 L581.3 835.5 L583.4 835.3 L585.4 835.2 L587.5 835.5 L589.5 835.3 L591.5 834.8 L593.6 835.3 L596.4 835.5 L599.1 835.8 L601.3 836.6 L603.5 837.1 L605.7 836.7 L607.9 837.0 L610.1 837.3 L612.3 837.9 L614.5 837.8 L616.7 838.0 L618.9 838.3 L621.1 838.0 L623.3 838.3 L625.5 838.3 L627.7 837.2 L629.9 838.1 L632.1 837.8 L634.3 837.0 L636.5 837.2 L638.7 837.4 L640.9 837.6 L643.1 836.9 L645.3 837.0 L647.5 837.2 L649.7 837.0 L651.9 837.1 L654.1 836.4 L656.1 836.3 L658.2 835.5 L660.2 835.8 L662.3 835.7 L664.3 834.9 L666.4 834.5 L668.5 833.3 L670.5 833.6 L673.2 832.3 L676.0 831.0 L678.8 828.8 L681.5 827.4 L684.2 826.3 L687.0 826.5 L689.8 827.2 L692.5 827.4 L695.0 827.6 L697.4 828.7 L697.4 847.0 Z" fill="url(#gN2)" clip-path="url(#clNavL2)"/><rect x="473" y="822" width="5.5" height="25" fill="#4a86e0"/><path d="M475.75 825 V845" stroke="#000" stroke-width="1.2" stroke-dasharray="1 2"/><rect x="707" y="822" width="5.5" height="25" fill="#4a86e0"/><path d="M709.75 825 V845" stroke="#000" stroke-width="1.2" stroke-dasharray="1 2"/><path d="M66.5 822 V834" stroke="#888" stroke-width="1"/><text x="66" y="844.5" fill="#bdbdbd" font-size="11" text-anchor="middle" >2024/04</text><path d="M184.0 822 V834" stroke="#888" stroke-width="1"/><text x="183.5" y="844.5" fill="#bdbdbd" font-size="11" text-anchor="middle" >2024/08</text><path d="M297.5 822 V834" stroke="#888" stroke-width="1"/><text x="297" y="844.5" fill="#bdbdbd" font-size="11" text-anchor="middle" >2024/12</text><path d="M406.5 822 V834" stroke="#888" stroke-width="1"/><text x="406" y="844.5" fill="#bdbdbd" font-size="11" text-anchor="middle" >2025/04</text><path d="M523.5 822 V834" stroke="#5c606a" stroke-width="1"/><text x="523" y="844.5" fill="#bdbdbd" font-size="11" text-anchor="middle" >2025/08</text><path d="M635.0 822 V834" stroke="#5c606a" stroke-width="1"/><text x="634.5" y="844.5" fill="#bdbdbd" font-size="11" text-anchor="middle" >2025/12</text></g><text x="645" y="185.4" fill="#c2c2c2" font-size="13" text-anchor="start" >4,500</text><text x="645" y="227.26" fill="#c2c2c2" font-size="13" text-anchor="start" >4,000</text><text x="645" y="269.12" fill="#c2c2c2" font-size="13" text-anchor="start" >3,500</text><text x="645" y="310.98" fill="#c2c2c2" font-size="13" text-anchor="start" >3,000</text><text x="645" y="352.84" fill="#c2c2c2" font-size="13" text-anchor="start" >2,500</text><text x="645" y="394.7" fill="#c2c2c2" font-size="13" text-anchor="start" >2,000</text><text x="645" y="436.56" fill="#c2c2c2" font-size="13" text-anchor="start" >1,500</text><text x="645" y="478.42" fill="#c2c2c2" font-size="13" text-anchor="start" >1,000</text><text x="645" y="527.2" fill="#c2c2c2" font-size="11" text-anchor="start" >5,000,000</text><clipPath id="clV0"><rect x="640" y="540" width="30" height="10.5"/></clipPath><text x="645" y="554.2" fill="#c2c2c2" font-size="11" text-anchor="start" clip-path="url(#clV0)">0</text><text x="645" y="567" fill="#c2c2c2" font-size="12" text-anchor="start" >100</text><text x="645" y="628.2" fill="#c2c2c2" font-size="12" text-anchor="start" >50</text><clipPath id="clR0"><rect x="640" y="670" width="30" height="13"/></clipPath><text x="645" y="688" fill="#c2c2c2" font-size="12" text-anchor="start" clip-path="url(#clR0)">0</text><text x="645" y="708.1" fill="#c2c2c2" font-size="12" text-anchor="start" >500</text><text x="645" y="758.3" fill="#c2c2c2" font-size="12" text-anchor="start" >0</text><text x="645" y="809" fill="#c2c2c2" font-size="12" text-anchor="start" >-500</text><text x="141" y="829" fill="#c2c2c2" font-size="13" text-anchor="middle" >2025/08</text><text x="289" y="829" fill="#c2c2c2" font-size="13" text-anchor="middle" >2025/10</text><text x="436" y="829" fill="#c2c2c2" font-size="13" text-anchor="middle" >2025/12</text><text x="588" y="829" fill="#c2c2c2" font-size="13" text-anchor="middle" >2026/02</text><path d="M643 281.3 L651 272.2 H708.7 V290.7 H651 Z" fill="#e8dcc8"/><text x="653.6" y="287" fill="#061028" font-size="13" text-anchor="start" >3,281.0</text><rect x="322" y="807" width="73" height="16" fill="#e0e0e0"/><text x="358.5" y="819.5" fill="#1a1a1a" font-size="11.5" text-anchor="middle" >2025/03/17</text><path d="M393.5 823 V847" stroke="#bbbbbb" stroke-width="1" stroke-dasharray="1 1"/><clipPath id="clR"><rect x="717" y="118" width="587" height="729"/></clipPath><g clip-path="url(#clR)"><path d="M761.5 478 V816" stroke="#484c58" stroke-width="1"/><path d="M856.5 478 V816" stroke="#484c58" stroke-width="1"/><path d="M950.5 478 V816" stroke="#484c58" stroke-width="1"/><path d="M1045.5 478 V816" stroke="#484c58" stroke-width="1"/><path d="M1140.5 478 V816" stroke="#484c58" stroke-width="1"/><path d="M761.5 118 V477" stroke="#5c6070" stroke-width="1"/><path d="M761.5 118 V477" stroke="#e8e8e8" stroke-width="1" stroke-dasharray="1 1"/><path d="M804.5 118 V477" stroke="#5c6070" stroke-width="1"/><path d="M804.5 118 V477" stroke="#e8e8e8" stroke-width="1" stroke-dasharray="1 1"/><path d="M856.5 118 V477" stroke="#5c6070" stroke-width="1"/><path d="M856.5 118 V477" stroke="#e8e8e8" stroke-width="1" stroke-dasharray="1 1"/><path d="M900.5 118 V477" stroke="#5c6070" stroke-width="1"/><path d="M900.5 118 V477" stroke="#e8e8e8" stroke-width="1" stroke-dasharray="1 1"/><path d="M950.5 118 V477" stroke="#5c6070" stroke-width="1"/><path d="M950.5 118 V477" stroke="#e8e8e8" stroke-width="1" stroke-dasharray="1 1"/><path d="M994.5 118 V477" stroke="#5c6070" stroke-width="1"/><path d="M994.5 118 V477" stroke="#e8e8e8" stroke-width="1" stroke-dasharray="1 1"/><path d="M1045.5 118 V477" stroke="#5c6070" stroke-width="1"/><path d="M1045.5 118 V477" stroke="#e8e8e8" stroke-width="1" stroke-dasharray="1 1"/><path d="M1089.5 118 V477" stroke="#5c6070" stroke-width="1"/><path d="M1089.5 118 V477" stroke="#e8e8e8" stroke-width="1" stroke-dasharray="1 1"/><path d="M1140.5 118 V477" stroke="#5c6070" stroke-width="1"/><path d="M1140.5 118 V477" stroke="#e8e8e8" stroke-width="1" stroke-dasharray="1 1"/><path d="M1184.5 118 V477" stroke="#5c6070" stroke-width="1"/><path d="M1184.5 118 V477" stroke="#e8e8e8" stroke-width="1" stroke-dasharray="1 1"/><path d="M724 179.5 H1235" stroke="#484c58" stroke-width="1"/><path d="M724 250.5 H1235" stroke="#484c58" stroke-width="1"/><path d="M724 320.5 H1235" stroke="#484c58" stroke-width="1"/><path d="M724 391.5 H1235" stroke="#484c58" stroke-width="1"/><path d="M724 462.5 H1235" stroke="#484c58" stroke-width="1"/><path d="M1234 197.5 h5" stroke="#484c58" stroke-width="1"/><path d="M1234 214.5 h9" stroke="#484c58" stroke-width="1"/><path d="M1234 232.5 h5" stroke="#484c58" stroke-width="1"/><path d="M1234 267.5 h5" stroke="#484c58" stroke-width="1"/><path d="M1234 285.5 h9" stroke="#484c58" stroke-width="1"/><path d="M1234 303.5 h5" stroke="#484c58" stroke-width="1"/><path d="M1234 338.5 h5" stroke="#484c58" stroke-width="1"/><path d="M1234 356.5 h9" stroke="#484c58" stroke-width="1"/><path d="M1234 374.5 h5" stroke="#484c58" stroke-width="1"/><path d="M1234 409.5 h5" stroke="#484c58" stroke-width="1"/><path d="M1234 427.5 h9" stroke="#484c58" stroke-width="1"/><path d="M1234 444.5 h5" stroke="#484c58" stroke-width="1"/><path d="M724 482.5 H1235" stroke="#8e8e8e" stroke-width="1"/><path d="M724 500.5 H1235" stroke="#484c58" stroke-width="1"/><path d="M724 537.5 H1235" stroke="#484c58" stroke-width="1"/><path d="M724 541.5 H1235" stroke="#8e8e8e" stroke-width="1"/><path d="M724 550.5 H1235" stroke="#484c58" stroke-width="1"/><path d="M724 575.5 H1235" stroke="#484c58" stroke-width="1"/><path d="M724 600.5 H1235" stroke="#484c58" stroke-width="1"/><path d="M724 626.5 H1235" stroke="#484c58" stroke-width="1"/><path d="M724 651.5 H1235" stroke="#484c58" stroke-width="1"/><path d="M724 676.5 H1235" stroke="#484c58" stroke-width="1"/><path d="M724 680.5 H1235" stroke="#8e8e8e" stroke-width="1"/><path d="M724 697.5 H1235" stroke="#484c58" stroke-width="1"/><path d="M724 724.5 H1235" stroke="#484c58" stroke-width="1"/><path d="M724 750.5 H1235" stroke="#484c58" stroke-width="1"/><path d="M724 776.5 H1235" stroke="#484c58" stroke-width="1"/><path d="M724 802.5 H1235" stroke="#484c58" stroke-width="1"/><path d="M724 299.5 H760" stroke="#22dd22" stroke-width="1"/><path d="M950 334.5 H1045" stroke="#22dd22" stroke-width="1"/><path d="M856 391.5 H950" stroke="#22dd22" stroke-width="1"/><path d="M1045 385.5 H1140" stroke="#22dd22" stroke-width="1"/><path d="M1130 396.5 H1235" stroke="#22dd22" stroke-width="1"/><path d="M753 360.5 H761" stroke="#5ab4e6" stroke-width="1"/><path d="M761 360.5 H856" stroke="#22dd22" stroke-width="1"/><path d="M724.0 431.5 C725.6 432.3 729.9 436.2 733.9 436.3 C737.9 436.4 743.1 433.8 747.8 432.3 C752.4 430.8 757.8 428.5 761.8 427.2 C765.8 425.9 768.1 425.9 771.7 424.4 C775.3 422.9 779.0 420.8 783.6 418.4 C788.2 415.9 794.9 410.4 799.5 409.7 C804.1 409.0 807.5 413.3 811.5 414.4 C815.5 415.5 819.4 416.2 823.4 416.4 C827.4 416.6 832.0 415.7 835.3 415.6 C838.6 415.5 840.6 414.9 843.3 415.6 C845.9 416.3 847.4 419.8 851.2 419.6 C855.0 419.4 859.5 415.4 865.9 414.5 C872.3 413.6 882.5 414.4 889.8 414.5 C897.1 414.6 903.1 415.0 909.7 415.3 C916.3 415.6 923.3 416.2 929.6 416.5 C935.9 416.8 942.2 416.0 947.5 417.3 C952.8 418.6 956.4 422.2 961.4 424.5 C966.4 426.8 972.0 429.6 977.3 431.2 C982.6 432.8 988.4 433.4 993.2 434.4 C998.0 435.4 1001.1 436.8 1005.9 437.2 C1010.7 437.6 1017.1 437.3 1021.8 436.8 C1026.5 436.3 1029.8 434.3 1033.8 434.4 C1037.8 434.5 1039.7 436.9 1045.7 437.6 C1051.7 438.3 1062.3 438.1 1069.6 438.4 C1076.9 438.7 1083.5 439.7 1089.5 439.2 C1095.5 438.7 1100.8 437.0 1105.4 435.2 C1110.0 433.4 1113.7 431.6 1117.3 428.5 C1120.9 425.4 1123.7 418.2 1127.3 416.5 C1130.9 414.8 1135.5 417.1 1138.9 418.5 C1142.3 419.9 1144.8 423.0 1147.8 424.7 C1150.8 426.4 1153.3 426.8 1156.7 428.7 C1160.1 430.6 1164.2 433.7 1167.9 435.9 C1171.6 438.1 1174.9 441.0 1179.0 442.1 C1183.1 443.2 1187.8 442.7 1192.3 442.6 C1196.8 442.5 1201.2 441.8 1205.7 441.4 C1210.2 440.9 1214.7 440.3 1219.1 439.9 C1223.5 439.5 1229.8 439.0 1232.0 438.8" stroke="#e2882c" stroke-width="1.0" fill="none" /><path d="M724.0 153.9 C726.0 155.6 731.9 158.9 735.9 163.9 C739.9 168.9 743.5 176.2 747.8 183.8 C752.1 191.4 757.1 202.3 761.8 209.6 C766.4 216.9 771.4 221.9 775.7 227.5 C780.0 233.1 783.3 238.4 787.6 243.4 C791.9 248.4 796.9 253.3 801.5 257.3 C806.1 261.3 811.2 263.7 815.5 267.3 C819.8 270.9 823.4 275.2 827.4 279.2 C831.4 283.2 836.0 288.8 839.3 291.1 C842.6 293.4 843.5 291.4 847.3 293.1 C851.1 294.8 857.5 299.3 861.9 301.1 C866.3 302.9 869.2 303.9 873.9 303.9 C878.5 303.9 883.8 302.6 889.8 301.1 C895.8 299.7 903.1 297.2 909.7 295.2 C916.3 293.2 923.0 290.7 929.6 289.2 C936.2 287.7 942.9 286.6 949.5 286.4 C956.1 286.2 963.4 287.2 969.4 288.0 C975.4 288.8 978.5 290.9 985.3 291.2 C992.0 291.5 1002.5 289.7 1009.9 289.6 C1017.3 289.5 1023.8 290.0 1029.8 290.4 C1035.8 290.8 1040.4 291.1 1045.7 292.0 C1051.0 292.9 1056.3 294.1 1061.6 296.0 C1066.9 297.9 1072.8 300.6 1077.5 303.1 C1082.2 305.6 1085.5 308.1 1089.5 311.1 C1093.5 314.1 1097.4 317.0 1101.4 321.0 C1105.4 325.0 1109.7 330.0 1113.3 335.0 C1116.9 340.0 1120.6 346.8 1123.3 350.9 C1126.0 355.0 1125.9 359.2 1129.3 359.6 C1132.7 360.0 1139.6 356.0 1143.4 353.5 C1147.2 351.0 1149.0 348.0 1152.3 344.6 C1155.6 341.2 1159.7 337.1 1163.4 333.4 C1167.1 329.7 1171.2 325.7 1174.5 322.3 C1177.8 318.9 1179.7 315.4 1183.4 313.0 C1187.1 310.6 1192.3 309.2 1196.8 307.8 C1201.3 306.4 1205.8 305.8 1210.2 304.9 C1214.7 304.0 1219.9 303.1 1223.5 302.7 C1227.1 302.3 1230.6 302.4 1232.0 302.3" stroke="#e2882c" stroke-width="1.0" fill="none" /><path d="M724.0 384.6 C725.3 385.5 727.9 388.7 731.9 389.8 C735.9 390.9 742.8 391.1 747.8 391.4 C752.8 391.7 757.1 391.9 761.8 391.4 C766.4 390.9 771.4 389.5 775.7 388.6 C780.0 387.7 783.6 386.7 787.6 385.8 C791.6 384.9 795.5 383.1 799.5 383.4 C803.5 383.7 806.9 386.1 811.5 387.4 C816.1 388.7 822.1 390.2 827.4 391.4 C832.7 392.6 839.3 393.2 843.3 394.5 C847.3 395.8 846.1 398.9 851.2 399.3 C856.3 399.7 864.1 397.2 873.9 396.6 C883.6 396.0 897.4 395.9 909.7 395.8 C922.0 395.7 938.9 395.0 947.5 395.8 C956.1 396.6 956.4 398.7 961.4 400.6 C966.4 402.5 972.0 405.5 977.3 407.4 C982.6 409.3 988.4 410.9 993.2 411.8 C998.0 412.7 999.1 412.6 1005.9 412.5 C1012.7 412.4 1026.5 411.2 1033.8 411.4 C1041.1 411.6 1043.7 413.0 1049.7 413.7 C1055.7 414.4 1063.0 414.6 1069.6 415.3 C1076.2 416.0 1082.9 417.5 1089.5 417.7 C1096.1 417.9 1104.1 417.6 1109.4 416.5 C1114.7 415.4 1118.0 413.2 1121.3 411.4 C1124.6 409.6 1126.4 406.2 1129.3 405.8 C1132.2 405.4 1135.1 407.6 1138.9 408.7 C1142.7 409.8 1147.8 411.2 1152.3 412.5 C1156.8 413.8 1161.1 414.9 1165.6 416.3 C1170.0 417.7 1174.5 420.0 1179.0 420.7 C1183.5 421.4 1187.8 420.7 1192.3 420.3 C1196.8 419.9 1201.2 419.0 1205.7 418.5 C1210.2 418.0 1214.7 417.8 1219.1 417.4 C1223.5 417.0 1229.8 416.5 1232.0 416.3" stroke="#5252e6" stroke-width="1.0" fill="none" /><path d="M724.0 199.7 C726.0 201.3 731.9 205.0 735.9 209.6 C739.9 214.2 743.5 221.5 747.8 227.5 C752.1 233.5 757.1 240.1 761.8 245.4 C766.4 250.7 770.7 254.3 775.7 259.3 C780.7 264.3 787.0 271.2 791.6 275.2 C796.2 279.2 798.9 280.5 803.5 283.2 C808.1 285.9 814.8 288.5 819.4 291.1 C824.0 293.8 827.4 295.5 831.4 299.1 C835.4 302.8 840.0 310.4 843.3 313.0 C846.6 315.6 848.1 313.7 851.2 315.0 C854.3 316.3 858.1 319.7 861.9 321.0 C865.7 322.3 867.9 323.3 873.9 323.0 C879.9 322.7 889.8 320.6 897.7 319.0 C905.7 317.4 913.6 314.9 921.6 313.1 C929.6 311.3 938.9 309.0 945.5 308.3 C952.1 307.6 956.1 308.5 961.4 309.1 C966.7 309.7 972.6 310.9 977.3 311.9 C981.9 312.9 984.5 314.7 989.3 315.1 C994.1 315.5 999.1 314.3 1005.9 314.3 C1012.6 314.3 1023.2 314.8 1029.8 315.1 C1036.4 315.4 1040.4 315.3 1045.7 316.3 C1051.0 317.3 1056.3 319.2 1061.6 321.0 C1066.9 322.8 1072.2 324.7 1077.5 327.0 C1082.8 329.3 1088.1 331.7 1093.4 335.0 C1098.7 338.3 1104.8 342.6 1109.4 346.9 C1114.1 351.2 1118.0 356.9 1121.3 360.8 C1124.6 364.7 1125.6 369.4 1129.3 370.0 C1133.0 370.6 1139.6 366.6 1143.4 364.6 C1147.2 362.6 1149.0 360.1 1152.3 357.9 C1155.6 355.7 1159.7 353.9 1163.4 351.3 C1167.1 348.7 1170.8 345.1 1174.5 342.3 C1178.2 339.5 1182.0 336.4 1185.7 334.6 C1189.4 332.8 1192.7 332.7 1196.8 331.7 C1200.9 330.7 1205.8 329.4 1210.2 328.5 C1214.7 327.6 1219.9 326.7 1223.5 326.1 C1227.1 325.6 1230.6 325.4 1232.0 325.2" stroke="#5252e6" stroke-width="1.0" fill="none" /><path d="M724.0 272.4 C726.6 272.9 733.9 274.3 739.9 275.2 C745.9 276.1 753.2 277.2 759.8 278.0 C766.4 278.8 772.4 279.1 779.7 280.0 C787.0 280.9 796.2 282.0 803.5 283.2 C810.8 284.4 816.8 285.8 823.4 287.2 C830.0 288.6 834.9 290.4 843.3 291.9 C851.7 293.4 864.8 294.8 873.9 296.0 C883.0 297.2 889.8 298.0 897.7 299.2 C905.7 300.4 913.6 301.9 921.6 303.1 C929.6 304.3 938.2 305.3 945.5 306.3 C952.8 307.3 958.8 308.2 965.4 309.1 C972.0 310.0 977.2 309.9 985.3 311.9 C993.4 313.9 1005.2 318.5 1013.9 321.0 C1022.6 323.5 1029.8 325.0 1037.7 327.0 C1045.7 329.0 1053.6 331.0 1061.6 333.0 C1069.6 335.0 1077.5 336.9 1085.5 338.9 C1093.5 340.9 1102.8 342.9 1109.4 344.9 C1116.0 346.9 1119.6 349.1 1125.3 350.9 C1131.0 352.7 1138.2 354.5 1143.4 355.7 C1148.6 356.9 1151.5 357.2 1156.7 357.9 C1161.9 358.6 1169.3 359.1 1174.5 359.7 C1179.7 360.3 1183.4 360.9 1187.9 361.3 C1192.4 361.8 1196.1 362.0 1201.3 362.4 C1206.5 362.8 1214.0 363.2 1219.1 363.7 C1224.2 364.1 1229.8 364.9 1232.0 365.1" stroke="#5a5aff" stroke-width="1.0" fill="none" /><path d="M724.0 338.9 C726.0 339.9 731.9 342.8 735.9 344.8 C739.9 346.8 743.5 349.1 747.8 350.8 C752.1 352.5 757.1 353.8 761.8 354.8 C766.4 355.8 770.7 356.3 775.7 356.8 C780.7 357.3 787.0 357.7 791.6 358.0 C796.2 358.3 798.9 357.9 803.5 358.8 C808.1 359.7 814.1 361.5 819.4 363.5 C824.7 365.5 830.0 368.8 835.3 370.7 C840.6 372.6 845.4 373.5 851.2 374.7 C857.0 375.9 863.5 377.6 869.9 377.9 C876.3 378.2 883.2 377.0 889.8 376.7 C896.4 376.4 903.1 376.2 909.7 375.9 C916.3 375.6 923.3 375.0 929.6 374.7 C935.9 374.4 942.2 373.7 947.5 374.0 C952.8 374.3 956.4 375.2 961.4 376.7 C966.4 378.1 972.0 381.0 977.3 382.7 C982.6 384.4 987.1 385.5 993.2 386.7 C999.3 387.9 1006.5 389.4 1013.9 389.9 C1021.3 390.4 1031.1 389.9 1037.7 389.9 C1044.3 389.9 1048.4 389.1 1053.7 389.9 C1059.0 390.7 1063.6 393.3 1069.6 394.6 C1075.6 395.9 1082.9 396.8 1089.5 397.8 C1096.1 398.8 1103.4 400.1 1109.4 400.6 C1115.4 401.1 1120.4 400.9 1125.3 400.6 C1130.2 400.4 1134.4 399.2 1138.9 399.1 C1143.4 399.0 1146.4 399.6 1152.3 399.8 C1158.2 400.0 1168.6 400.4 1174.5 400.2 C1180.4 400.0 1183.4 399.2 1187.9 398.7 C1192.4 398.1 1196.1 397.6 1201.3 396.9 C1206.5 396.2 1214.0 395.2 1219.1 394.7 C1224.2 394.1 1229.8 393.8 1232.0 393.6" stroke="#b43ee0" stroke-width="1.0" fill="none" /><path d="M724.0 245.4 C726.0 246.7 731.9 250.4 735.9 253.4 C739.9 256.4 743.5 259.0 747.8 263.3 C752.1 267.6 757.1 274.6 761.8 279.2 C766.4 283.8 770.7 287.5 775.7 291.1 C780.7 294.8 787.0 298.5 791.6 301.1 C796.2 303.8 798.9 304.4 803.5 307.0 C808.1 309.6 814.1 313.7 819.4 317.0 C824.7 320.3 830.6 323.9 835.3 326.9 C839.9 329.9 842.2 332.6 847.3 334.9 C852.4 337.2 860.1 339.9 865.9 340.9 C871.6 341.9 875.8 341.4 881.8 340.9 C887.8 340.4 895.1 339.1 901.7 338.1 C908.3 337.1 915.0 336.1 921.6 335.0 C928.2 333.9 935.5 332.3 941.5 331.8 C947.5 331.3 952.1 331.3 957.4 331.8 C962.7 332.3 968.0 333.9 973.3 335.0 C978.6 336.1 982.5 337.3 989.3 338.1 C996.1 338.9 1005.8 339.2 1013.9 339.7 C1022.0 340.2 1031.1 340.2 1037.7 340.9 C1044.3 341.6 1048.4 342.4 1053.7 343.7 C1059.0 345.0 1063.6 346.7 1069.6 348.9 C1075.6 351.1 1082.9 354.1 1089.5 356.8 C1096.1 359.5 1103.4 361.9 1109.4 364.8 C1115.4 367.7 1119.6 372.4 1125.3 374.0 C1131.0 375.6 1138.9 375.4 1143.4 374.6 C1147.9 373.8 1149.0 370.8 1152.3 369.1 C1155.6 367.4 1159.7 366.1 1163.4 364.6 C1167.1 363.1 1170.8 361.7 1174.5 360.2 C1178.2 358.7 1182.0 357.0 1185.7 355.7 C1189.4 354.4 1192.7 353.3 1196.8 352.4 C1200.9 351.5 1205.8 350.9 1210.2 350.1 C1214.7 349.4 1219.9 348.3 1223.5 347.9 C1227.1 347.5 1230.6 347.6 1232.0 347.5" stroke="#b43ee0" stroke-width="1.0" fill="none" /><path d="M724.0 291.9 C726.0 293.1 731.9 296.2 735.9 299.1 C739.9 302.0 743.5 305.7 747.8 309.0 C752.1 312.3 757.1 316.4 761.8 319.0 C766.4 321.6 770.7 323.0 775.7 324.9 C780.7 326.8 787.0 328.4 791.6 330.1 C796.2 331.8 798.9 332.8 803.5 334.9 C808.1 337.0 814.1 340.1 819.4 342.8 C824.7 345.5 830.0 348.5 835.3 350.8 C840.6 353.1 846.1 355.5 851.2 356.8 C856.3 358.1 860.1 358.8 865.9 358.8 C871.7 358.8 878.5 357.5 885.8 356.8 C893.1 356.1 902.4 355.5 909.7 354.9 C917.0 354.2 923.3 353.4 929.6 352.9 C935.9 352.4 942.2 351.5 947.5 352.1 C952.8 352.8 956.4 355.4 961.4 356.8 C966.4 358.2 968.5 359.7 977.3 360.8 C986.0 361.9 1003.8 362.9 1013.9 363.6 C1024.0 364.3 1031.1 364.3 1037.7 364.8 C1044.3 365.3 1048.4 365.8 1053.7 366.8 C1059.0 367.8 1063.6 369.2 1069.6 370.8 C1075.6 372.4 1082.9 374.7 1089.5 376.7 C1096.1 378.7 1103.4 380.9 1109.4 382.7 C1115.4 384.5 1120.4 386.6 1125.3 387.5 C1130.2 388.4 1135.2 388.5 1138.9 388.0 C1142.7 387.5 1144.5 385.7 1147.8 384.7 C1151.1 383.7 1154.5 382.9 1158.9 382.0 C1163.4 381.1 1169.7 380.2 1174.5 379.1 C1179.3 378.1 1183.4 376.6 1187.9 375.7 C1192.4 374.8 1196.1 374.2 1201.3 373.5 C1206.5 372.8 1214.0 372.2 1219.1 371.7 C1224.2 371.2 1229.8 370.8 1232.0 370.6" stroke="#eaa035" stroke-width="1.0" fill="none" /><path d="M724.0 336.1 L739.9 337.7 L755.8 340.1 L759.8 346.8 L763.8 369.9 L767.7 362.7 L775.7 356.8 L787.6 350.8 L799.5 348.8 L805.5 349.6 L811.5 354.8 L823.4 358.0 L839.3 360.7 L851.2 364.7 L858.0 358.8 L873.9 354.9 L889.8 350.1 L909.7 348.9 L929.6 346.9 L946.7 344.9 L949.5 370.8 L955.4 388.7 L969.4 388.7 L1013.9 386.7 L1037.7 386.7 L1045.7 388.7 L1049.7 400.6 L1053.7 394.6 L1061.6 383.5 L1073.6 380.7 L1085.5 383.5 L1101.4 389.9 L1117.3 394.6 L1129.3 390.7 L1141.1 384.7 L1145.6 366.8 L1152.3 362.4 L1163.4 359.0 L1174.5 356.8 L1185.7 355.7 L1196.8 355.7 L1210.2 355.7 L1219.1 356.2 L1232.0 356.2" stroke="#c8c8c8" stroke-width="1.0" fill="none" /><path d="M724 362.9 H1235" stroke="#b8b0a4" stroke-width="1.8"/><path d="M727.2 354.0 V363.5" stroke="#e27868" stroke-width="1"/><rect x="724.7" y="356.0" width="5" height="3.5" fill="#000" stroke="#e27868" stroke-width="1"/><path d="M734.7 350.8 V357.6" stroke="#e27868" stroke-width="1"/><rect x="732.2" y="352.0" width="5" height="4.8" fill="#000" stroke="#e27868" stroke-width="1"/><path d="M741.9 349.2 V353.6" stroke="#e27868" stroke-width="1"/><rect x="739.4" y="350.0" width="5" height="2.8" fill="#000" stroke="#e27868" stroke-width="1"/><path d="M749.0 350.0 V358.8" stroke="#78cdf0" stroke-width="1"/><rect x="746.0" y="350.8" width="6" height="7.2" fill="#78cdf0"/><path d="M763.8 338.9 V391.4" stroke="#e27868" stroke-width="1"/><rect x="761.3" y="340.9" width="5" height="42.5" fill="#000" stroke="#e27868" stroke-width="1"/><path d="M770.9 326.9 V346.8" stroke="#e27868" stroke-width="1"/><rect x="768.4" y="336.9" width="5" height="6.7" fill="#000" stroke="#e27868" stroke-width="1"/><path d="M778.5 323.8 V337.7" stroke="#e27868" stroke-width="1"/><rect x="776.0" y="331.7" width="5" height="5.2" fill="#000" stroke="#e27868" stroke-width="1"/><path d="M785.6 330.1 V338.1" stroke="#78cdf0" stroke-width="1"/><rect x="782.6" y="331.7" width="6" height="5.6" fill="#78cdf0"/><path d="M793.2 330.9 V343.6" stroke="#e27868" stroke-width="1"/><rect x="790.7" y="334.1" width="5" height="3.6" fill="#000" stroke="#e27868" stroke-width="1"/><path d="M807.5 342.0 V385.4" stroke="#78cdf0" stroke-width="1"/><rect x="804.5" y="342.8" width="6" height="41.8" fill="#78cdf0"/><path d="M815.5 376.6 V389.4" stroke="#e27868" stroke-width="1"/><rect x="813.0" y="380.6" width="5" height="4.0" fill="#000" stroke="#e27868" stroke-width="1"/><path d="M822.6 374.7 V383.4" stroke="#78cdf0" stroke-width="1"/><rect x="819.6" y="379.8" width="6" height="2.8" fill="#78cdf0"/><path d="M829.8 380.6 V388.6" stroke="#78cdf0" stroke-width="1"/><rect x="826.8" y="382.6" width="6" height="2.0" fill="#78cdf0"/><path d="M836.9 383.0 V388.2" stroke="#78cdf0" stroke-width="1"/><rect x="833.9" y="383.8" width="6" height="3.6" fill="#78cdf0"/><path d="M844.1 378.6 V390.6" stroke="#78cdf0" stroke-width="1"/><rect x="841.1" y="386.6" width="6" height="2.0" fill="#78cdf0"/><path d="M858.8 330.2 V362.8" stroke="#e27868" stroke-width="1"/><rect x="856.3" y="352.9" width="5" height="5.1" fill="#000" stroke="#e27868" stroke-width="1"/><path d="M865.9 346.9 V368.8" stroke="#78cdf0" stroke-width="1"/><rect x="862.9" y="352.9" width="6" height="5.1" fill="#78cdf0"/><path d="M873.1 346.9 V358.0" stroke="#e27868" stroke-width="1"/><rect x="870.6" y="347.7" width="5" height="9.1" fill="#000" stroke="#e27868" stroke-width="1"/><path d="M880.2 335.0 V349.7" stroke="#e27868" stroke-width="1"/><rect x="877.7" y="343.7" width="5" height="5.2" fill="#000" stroke="#e27868" stroke-width="1"/><path d="M887.8 341.3 V345.7" stroke="#e27868" stroke-width="1"/><rect x="885.3" y="342.1" width="5" height="2.8" fill="#000" stroke="#e27868" stroke-width="1"/><path d="M895.0 339.3 V342.9" stroke="#78cdf0" stroke-width="1"/><rect x="892.0" y="340.1" width="6" height="2.0" fill="#78cdf0"/><path d="M902.1 336.6 V341.7" stroke="#e27868" stroke-width="1"/><rect x="899.6" y="337.7" width="5" height="3.2" fill="#000" stroke="#e27868" stroke-width="1"/><path d="M909.3 334.2 V338.5" stroke="#e27868" stroke-width="1"/><rect x="906.8" y="335.0" width="5" height="2.7" fill="#000" stroke="#e27868" stroke-width="1"/><path d="M916.4 333.0 V336.6" stroke="#e27868" stroke-width="1"/><rect x="913.9" y="333.8" width="5" height="2.0" fill="#000" stroke="#e27868" stroke-width="1"/><path d="M923.6 330.2 V333.8" stroke="#e27868" stroke-width="1"/><rect x="921.1" y="331.0" width="5" height="2.0" fill="#000" stroke="#e27868" stroke-width="1"/><path d="M931.2 329.4 V332.6" stroke="#78cdf0" stroke-width="1"/><rect x="928.2" y="330.2" width="6" height="1.6" fill="#78cdf0"/><path d="M939.1 327.0 V338.9" stroke="#78cdf0" stroke-width="1"/><rect x="936.1" y="330.2" width="6" height="5.6" fill="#78cdf0"/><path d="M954.6 378.7 V394.6" stroke="#e27868" stroke-width="1"/><rect x="952.1" y="382.7" width="5" height="6.0" fill="#000" stroke="#e27868" stroke-width="1"/><path d="M961.4 374.7 V392.7" stroke="#78cdf0" stroke-width="1"/><rect x="958.4" y="383.5" width="6" height="6.4" fill="#78cdf0"/><path d="M968.6 378.7 V400.6" stroke="#78cdf0" stroke-width="1"/><rect x="965.6" y="388.7" width="6" height="2.0" fill="#78cdf0"/><path d="M976.5 386.7 V393.4" stroke="#e27868" stroke-width="1"/><rect x="974.0" y="387.5" width="5" height="5.2" fill="#000" stroke="#e27868" stroke-width="1"/><path d="M984.1 385.1 V389.5" stroke="#e27868" stroke-width="1"/><rect x="981.6" y="385.9" width="5" height="2.8" fill="#000" stroke="#e27868" stroke-width="1"/><path d="M997.2 386.7 V394.6" stroke="#78cdf0" stroke-width="1"/><rect x="994.2" y="388.7" width="6" height="4.0" fill="#78cdf0"/><path d="M1004.7 383.5 V391.9" stroke="#e27868" stroke-width="1"/><rect x="1002.2" y="388.7" width="5" height="2.8" fill="#000" stroke="#e27868" stroke-width="1"/><path d="M1011.9 385.1 V389.5" stroke="#e27868" stroke-width="1"/><rect x="1009.4" y="385.9" width="5" height="2.8" fill="#000" stroke="#e27868" stroke-width="1"/><path d="M1019.0 382.7 V387.5" stroke="#e27868" stroke-width="1"/><rect x="1016.5" y="383.5" width="5" height="3.2" fill="#000" stroke="#e27868" stroke-width="1"/><path d="M1026.6 381.9 V385.5" stroke="#78cdf0" stroke-width="1"/><rect x="1023.6" y="382.7" width="6" height="2.0" fill="#78cdf0"/><path d="M1033.8 380.7 V384.7" stroke="#e27868" stroke-width="1"/><rect x="1031.3" y="381.5" width="5" height="2.4" fill="#000" stroke="#e27868" stroke-width="1"/><path d="M1048.9 376.7 V412.5" stroke="#e27868" stroke-width="1"/><rect x="1046.4" y="378.7" width="5" height="23.9" fill="#000" stroke="#e27868" stroke-width="1"/><path d="M1056.0 371.2 V380.3" stroke="#e27868" stroke-width="1"/><rect x="1053.5" y="372.0" width="5" height="7.5" fill="#000" stroke="#e27868" stroke-width="1"/><path d="M1063.6 360.8 V374.7" stroke="#e27868" stroke-width="1"/><rect x="1061.1" y="366.8" width="5" height="6.0" fill="#000" stroke="#e27868" stroke-width="1"/><path d="M1070.8 362.0 V379.9" stroke="#78cdf0" stroke-width="1"/><rect x="1067.8" y="366.0" width="6" height="11.9" fill="#78cdf0"/><path d="M1078.3 374.7 V398.6" stroke="#78cdf0" stroke-width="1"/><rect x="1075.3" y="377.5" width="6" height="10.0" fill="#78cdf0"/><path d="M1092.7 386.7 V403.4" stroke="#78cdf0" stroke-width="1"/><rect x="1089.7" y="387.5" width="6" height="15.1" fill="#78cdf0"/><path d="M1099.8 398.6 V402.2" stroke="#e27868" stroke-width="1"/><rect x="1097.3" y="399.4" width="5" height="2.0" fill="#000" stroke="#e27868" stroke-width="1"/><path d="M1107.4 398.6 V405.4" stroke="#78cdf0" stroke-width="1"/><rect x="1104.4" y="399.4" width="6" height="5.2" fill="#78cdf0"/><path d="M1114.5 400.6 V407.4" stroke="#e27868" stroke-width="1"/><rect x="1112.0" y="401.8" width="5" height="2.4" fill="#000" stroke="#e27868" stroke-width="1"/><path d="M1121.7 401.0 V405.4" stroke="#78cdf0" stroke-width="1"/><rect x="1118.7" y="401.8" width="6" height="2.8" fill="#78cdf0"/><path d="M1129.3 389.9 V405.4" stroke="#e27868" stroke-width="1"/><rect x="1126.8" y="390.7" width="5" height="13.9" fill="#000" stroke="#e27868" stroke-width="1"/><path d="M1144.0 355.7 V386.9" stroke="#e27868" stroke-width="1"/><rect x="1141.5" y="358.4" width="5" height="4.4" fill="#000" stroke="#e27868" stroke-width="1"/><path d="M1151.6 344.6 V360.2" stroke="#e27868" stroke-width="1"/><rect x="1149.1" y="348.6" width="5" height="9.3" fill="#000" stroke="#e27868" stroke-width="1"/><path d="M1158.5 340.1 V354.6" stroke="#78cdf0" stroke-width="1"/><rect x="1155.5" y="347.9" width="6" height="5.1" fill="#78cdf0"/><path d="M1165.6 341.9 V352.8" stroke="#e27868" stroke-width="1"/><rect x="1163.1" y="342.3" width="5" height="10.1" fill="#000" stroke="#e27868" stroke-width="1"/><path d="M1173.4 332.3 V341.0" stroke="#e27868" stroke-width="1"/><rect x="1170.9" y="332.8" width="5" height="7.8" fill="#000" stroke="#e27868" stroke-width="1"/><path d="M1180.5 333.0 V335.0" stroke="#78cdf0" stroke-width="1"/><rect x="1177.5" y="333.4" width="6" height="1.2" fill="#78cdf0"/><path d="M1187.9 329.0 V360.2" stroke="#78cdf0" stroke-width="1"/><rect x="1184.9" y="331.7" width="6" height="19.1" fill="#78cdf0"/><path d="M1195.0 345.7 V355.7" stroke="#78cdf0" stroke-width="1"/><rect x="1192.0" y="350.1" width="6" height="4.5" fill="#78cdf0"/><path d="M1202.4 350.1 V362.4" stroke="#78cdf0" stroke-width="1"/><rect x="1199.4" y="354.6" width="6" height="4.4" fill="#78cdf0"/><path d="M1209.7 353.7 V358.8" stroke="#e27868" stroke-width="1"/><rect x="1207.2" y="354.1" width="5" height="4.3" fill="#000" stroke="#e27868" stroke-width="1"/><path d="M1216.8 356.4 V363.3" stroke="#78cdf0" stroke-width="1"/><rect x="1213.8" y="356.8" width="6" height="6.0" fill="#78cdf0"/><path d="M1224.6 354.6 V368.0" stroke="#e27868" stroke-width="1"/><rect x="1222.1" y="356.8" width="5" height="6.7" fill="#000" stroke="#e27868" stroke-width="1"/><path d="M724.0 359.5 L739.9 354.8 L751.8 352.8 L761.8 350.8 L775.7 344.8 L787.6 338.9 L799.5 334.1 L805.5 334.9 L815.5 354.8 L827.4 370.7 L839.3 383.4 L851.2 386.6 L865.9 370.8 L881.8 354.9 L889.8 346.9 L905.7 340.9 L921.6 335.8 L937.5 331.8 L945.5 333.0 L953.4 350.9 L965.4 370.8 L977.3 383.5 L989.3 387.5 L1009.9 387.5 L1029.8 384.7 L1045.7 382.7 L1057.6 378.7 L1069.6 376.7 L1077.5 377.9 L1089.5 388.7 L1101.4 396.6 L1113.3 400.6 L1125.3 400.6 L1133.2 394.6 L1143.4 389.1 L1152.3 373.5 L1161.2 360.2 L1170.1 350.1 L1179.0 342.3 L1187.9 341.9 L1196.8 344.6 L1205.7 347.9 L1214.6 353.5 L1223.5 356.8 L1232.0 359.0" stroke="#98cc44" stroke-width="1.0" fill="none" /><rect x="724.7" y="526.0" width="5.2" height="11.0" fill="#587794"/><rect x="732.5" y="523.8" width="5.2" height="13.2" fill="#587794"/><rect x="740.4" y="522.9" width="5.2" height="14.1" fill="#587794"/><rect x="747.4" y="523.8" width="5.2" height="13.2" fill="#587794"/><rect x="754.4" y="507.6" width="5.2" height="29.4" fill="#587794"/><rect x="761.4" y="492.3" width="5.2" height="44.7" fill="#587794"/><rect x="768.4" y="517.2" width="5.2" height="19.8" fill="#587794"/><rect x="775.9" y="522.5" width="5.2" height="14.5" fill="#587794"/><rect x="783.3" y="523.8" width="5.2" height="13.2" fill="#587794"/><rect x="790.3" y="522.5" width="5.2" height="14.5" fill="#587794"/><rect x="797.8" y="529.0" width="5.2" height="8.0" fill="#587794"/><rect x="805.2" y="512.0" width="5.2" height="25.0" fill="#587794"/><rect x="812.2" y="521.6" width="5.2" height="15.4" fill="#587794"/><rect x="819.7" y="527.3" width="5.2" height="9.7" fill="#587794"/><rect x="827.1" y="527.3" width="5.2" height="9.7" fill="#587794"/><rect x="834.1" y="526.0" width="5.2" height="11.0" fill="#587794"/><rect x="841.5" y="523.8" width="5.2" height="13.2" fill="#587794"/><rect x="849.0" y="524.7" width="5.2" height="12.3" fill="#587794"/><rect x="856.0" y="504.1" width="5.2" height="32.9" fill="#587794"/><rect x="863.4" y="517.2" width="5.2" height="19.8" fill="#587794"/><rect x="870.9" y="520.7" width="5.2" height="16.3" fill="#587794"/><rect x="877.9" y="527.3" width="5.2" height="9.7" fill="#587794"/><rect x="885.3" y="530.3" width="5.2" height="6.7" fill="#587794"/><rect x="892.8" y="531.7" width="5.2" height="5.3" fill="#587794"/><rect x="899.8" y="524.7" width="5.2" height="12.3" fill="#587794"/><rect x="907.2" y="531.7" width="5.2" height="5.3" fill="#587794"/><rect x="914.7" y="531.7" width="5.2" height="5.3" fill="#587794"/><rect x="921.7" y="530.3" width="5.2" height="6.7" fill="#587794"/><rect x="929.1" y="530.3" width="5.2" height="6.7" fill="#587794"/><rect x="936.5" y="524.7" width="5.2" height="12.3" fill="#587794"/><rect x="943.6" y="520.7" width="5.2" height="16.3" fill="#587794"/><rect x="951.0" y="510.6" width="5.2" height="26.4" fill="#587794"/><rect x="958.4" y="523.8" width="5.2" height="13.2" fill="#587794"/><rect x="965.4" y="524.7" width="5.2" height="12.3" fill="#587794"/><rect x="972.9" y="528.2" width="5.2" height="8.8" fill="#587794"/><rect x="980.3" y="529.0" width="5.2" height="8.0" fill="#587794"/><rect x="987.3" y="527.3" width="5.2" height="9.7" fill="#587794"/><rect x="989.6" y="526.0" width="5.2" height="11.0" fill="#587794"/><rect x="996.2" y="530.4" width="5.2" height="6.6" fill="#587794"/><rect x="1002.7" y="532.6" width="5.2" height="4.4" fill="#587794"/><rect x="1009.3" y="532.6" width="5.2" height="4.4" fill="#587794"/><rect x="1015.9" y="532.6" width="5.2" height="4.4" fill="#587794"/><rect x="1022.4" y="531.7" width="5.2" height="5.3" fill="#587794"/><rect x="1029.0" y="530.4" width="5.2" height="6.6" fill="#587794"/><rect x="1036.4" y="526.0" width="5.2" height="11.0" fill="#587794"/><rect x="1043.5" y="514.2" width="5.2" height="22.8" fill="#587794"/><rect x="1052.2" y="520.3" width="5.2" height="16.7" fill="#587794"/><rect x="1059.7" y="523.8" width="5.2" height="13.2" fill="#587794"/><rect x="1067.5" y="531.7" width="5.2" height="5.3" fill="#587794"/><rect x="1075.0" y="518.5" width="5.2" height="18.5" fill="#587794"/><rect x="1081.6" y="523.8" width="5.2" height="13.2" fill="#587794"/><rect x="1090.3" y="525.1" width="5.2" height="11.9" fill="#587794"/><rect x="1096.9" y="531.7" width="5.2" height="5.3" fill="#587794"/><rect x="1104.8" y="527.3" width="5.2" height="9.7" fill="#587794"/><rect x="1111.3" y="530.4" width="5.2" height="6.6" fill="#587794"/><rect x="1118.8" y="531.7" width="5.2" height="5.3" fill="#587794"/><rect x="1126.7" y="520.7" width="5.2" height="16.3" fill="#587794"/><rect x="1133.2" y="521.6" width="5.2" height="15.4" fill="#587794"/><rect x="1140.7" y="507.6" width="5.2" height="29.4" fill="#587794"/><rect x="1148.1" y="520.7" width="5.2" height="16.3" fill="#587794"/><rect x="1155.1" y="524.7" width="5.2" height="12.3" fill="#587794"/><rect x="1162.6" y="528.2" width="5.2" height="8.8" fill="#587794"/><rect x="1170.0" y="527.3" width="5.2" height="9.7" fill="#587794"/><rect x="1177.0" y="531.7" width="5.2" height="5.3" fill="#587794"/><rect x="1184.5" y="521.6" width="5.2" height="15.4" fill="#587794"/><rect x="1191.9" y="528.2" width="5.2" height="8.8" fill="#587794"/><rect x="1198.9" y="529.0" width="5.2" height="8.0" fill="#587794"/><rect x="1206.4" y="531.7" width="5.2" height="5.3" fill="#587794"/><rect x="1213.8" y="528.2" width="5.2" height="8.8" fill="#587794"/><rect x="1220.8" y="527.3" width="5.2" height="9.7" fill="#587794"/><rect x="1228.3" y="521.6" width="5.2" height="15.4" fill="#587794"/><path d="M724.0 512.8 C729.8 513.2 745.7 514.4 758.8 515.0 C771.9 515.6 788.0 515.6 802.6 516.3 C817.2 517.0 831.7 518.5 846.3 519.4 C860.9 520.3 875.5 520.9 890.1 521.6 C904.7 522.3 919.3 523.4 933.9 523.8 C948.5 524.2 966.7 523.6 977.7 523.8 C988.7 523.9 990.6 524.6 1000.0 524.7 C1009.4 524.9 1020.9 524.5 1033.8 524.7 C1046.7 524.9 1063.0 525.9 1077.6 526.0 C1092.2 526.1 1106.8 525.1 1121.4 525.1 C1136.0 525.1 1150.6 525.7 1165.2 526.0 C1179.8 526.3 1198.0 526.8 1209.0 526.9 C1220.0 527.0 1227.2 526.9 1230.9 526.9" stroke="#e2882c" stroke-width="1.0" fill="none" /><path d="M724.0 520.7 C770.0 520.7 941.1 520.6 1000.0 520.7 C1058.9 520.9 1050.1 521.3 1077.6 521.6 C1105.1 521.9 1139.7 522.0 1165.2 522.5 C1190.8 523.0 1220.0 524.3 1230.9 524.7" stroke="#5a5aff" stroke-width="1.0" fill="none" /><path d="M724.0 521.6 L736.9 523.8 L754.4 519.4 L767.5 512.8 L785.0 514.1 L800.4 521.6 L824.4 523.8 L846.3 522.5 L859.5 518.5 L881.4 519.4 L898.9 528.2 L925.1 529.0 L947.0 522.9 L968.9 521.6 L986.4 523.8 L1000.0 526.0 L1011.9 531.7 L1033.8 527.3 L1055.7 523.8 L1077.6 523.8 L1099.5 529.0 L1121.4 527.3 L1143.3 521.6 L1156.4 520.3 L1173.9 522.5 L1187.1 527.3 L1209.0 529.0 L1230.9 526.0" stroke="#98cc44" stroke-width="1.0" fill="none" /><path d="M723.8 653.8 L734.7 646.4 L742.6 631.0 L750.0 654.2 L756.6 649.9 L763.2 609.1 L771.0 580.7 L778.5 574.1 L786.4 586.4 L793.8 583.8 L800.4 585.1 L807.8 636.7 L815.7 632.4 L829.7 630.2 L837.6 652.1 L845.0 658.6 L852.0 665.2 L859.5 620.1 L867.4 626.7 L873.5 620.1 L880.5 576.3 L890.1 576.3 L896.7 574.1 L909.8 565.4 L917.3 564.1 L924.3 559.7 L931.7 572.8 L939.1 574.1 L946.2 578.5 L953.6 648.5 L961.0 652.1 L968.0 652.1 L975.5 656.0 L982.9 655.1 L989.9 659.5 L997.4 663.9 L1005.3 663.1 L1012.8 655.2 L1019.8 654.3 L1027.2 613.6 L1033.8 590.8 L1041.7 596.1 L1049.1 587.3 L1055.7 581.6 L1063.1 573.3 L1071.0 598.2 L1078.5 611.4 L1085.5 615.8 L1092.9 633.3 L1100.4 629.8 L1107.4 635.5 L1114.8 631.1 L1122.3 641.2 L1129.3 628.9 L1136.7 642.0 L1143.3 596.1 L1150.7 585.1 L1157.7 590.4 L1165.2 572.0 L1172.6 570.7 L1179.6 567.6 L1187.1 585.1 L1194.5 586.0 L1201.5 593.9 L1209.0 587.3 L1216.4 617.9 L1224.3 620.1 L1230.9 622.3" stroke="#98cc44" stroke-width="1.0" fill="none" /><rect x="724.7" y="749.5" width="5.2" height="1.9" fill="#5a3ac8"/><rect x="732.1" y="747.1" width="5.2" height="2.4" fill="#b0309e"/><rect x="739.5" y="743.5" width="5.2" height="6.0" fill="#b0309e"/><rect x="746.5" y="742.7" width="5.2" height="6.8" fill="#b0309e"/><rect x="754.0" y="742.7" width="5.2" height="6.8" fill="#b0309e"/><rect x="761.4" y="737.4" width="5.2" height="12.1" fill="#b0309e"/><rect x="768.4" y="733.9" width="5.2" height="15.6" fill="#b0309e"/><rect x="775.9" y="731.7" width="5.2" height="17.8" fill="#b0309e"/><rect x="783.3" y="731.7" width="5.2" height="17.8" fill="#b0309e"/><rect x="790.3" y="733.0" width="5.2" height="16.5" fill="#b0309e"/><rect x="797.8" y="735.2" width="5.2" height="14.3" fill="#b0309e"/><rect x="805.2" y="749.5" width="5.2" height="1.9" fill="#5a3ac8"/><rect x="812.2" y="749.5" width="5.2" height="7.2" fill="#5a3ac8"/><rect x="819.7" y="749.5" width="5.2" height="8.5" fill="#5a3ac8"/><rect x="827.1" y="749.5" width="5.2" height="8.5" fill="#5a3ac8"/><rect x="834.1" y="749.5" width="5.2" height="7.2" fill="#5a3ac8"/><rect x="841.5" y="749.5" width="5.2" height="5.4" fill="#5a3ac8"/><rect x="849.0" y="749.5" width="5.2" height="4.1" fill="#5a3ac8"/><rect x="856.0" y="742.7" width="5.2" height="6.8" fill="#b0309e"/><rect x="863.4" y="737.4" width="5.2" height="12.1" fill="#b0309e"/><rect x="870.9" y="733.0" width="5.2" height="16.5" fill="#b0309e"/><rect x="877.9" y="730.9" width="5.2" height="18.6" fill="#b0309e"/><rect x="885.3" y="730.9" width="5.2" height="18.6" fill="#b0309e"/><rect x="892.8" y="732.6" width="5.2" height="16.9" fill="#b0309e"/><rect x="899.8" y="733.9" width="5.2" height="15.6" fill="#b0309e"/><rect x="907.2" y="734.8" width="5.2" height="14.7" fill="#b0309e"/><rect x="914.7" y="736.1" width="5.2" height="13.4" fill="#b0309e"/><rect x="921.7" y="737.4" width="5.2" height="12.1" fill="#b0309e"/><rect x="929.1" y="739.2" width="5.2" height="10.3" fill="#b0309e"/><rect x="936.5" y="741.8" width="5.2" height="7.7" fill="#b0309e"/><rect x="943.6" y="744.9" width="5.2" height="4.6" fill="#b0309e"/><rect x="951.0" y="749.5" width="5.2" height="10.7" fill="#5a3ac8"/><rect x="958.4" y="749.5" width="5.2" height="17.3" fill="#5a3ac8"/><rect x="965.4" y="749.5" width="5.2" height="20.3" fill="#5a3ac8"/><rect x="972.9" y="749.5" width="5.2" height="21.6" fill="#5a3ac8"/><rect x="980.3" y="749.5" width="5.2" height="17.3" fill="#5a3ac8"/><rect x="987.3" y="749.5" width="5.2" height="12.9" fill="#5a3ac8"/><rect x="994.8" y="749.5" width="5.2" height="10.7" fill="#5a3ac8"/><rect x="996.2" y="749.5" width="5.2" height="8.6" fill="#5a3ac8"/><rect x="1002.7" y="749.5" width="5.2" height="5.5" fill="#5a3ac8"/><rect x="1010.2" y="749.5" width="5.2" height="2.9" fill="#5a3ac8"/><rect x="1017.2" y="749.3" width="5.2" height="0.2" fill="#b0309e"/><rect x="1024.6" y="748.0" width="5.2" height="1.5" fill="#b0309e"/><rect x="1031.2" y="747.1" width="5.2" height="2.4" fill="#b0309e"/><rect x="1039.1" y="746.3" width="5.2" height="3.2" fill="#b0309e"/><rect x="1046.5" y="744.9" width="5.2" height="4.6" fill="#b0309e"/><rect x="1053.1" y="742.8" width="5.2" height="6.7" fill="#b0309e"/><rect x="1060.5" y="739.3" width="5.2" height="10.2" fill="#b0309e"/><rect x="1068.4" y="742.8" width="5.2" height="6.7" fill="#b0309e"/><rect x="1075.9" y="747.1" width="5.2" height="2.4" fill="#b0309e"/><rect x="1082.9" y="749.3" width="5.2" height="0.2" fill="#b0309e"/><rect x="1090.3" y="749.5" width="5.2" height="2.0" fill="#5a3ac8"/><rect x="1097.8" y="749.5" width="5.2" height="4.2" fill="#5a3ac8"/><rect x="1104.8" y="749.5" width="5.2" height="5.5" fill="#5a3ac8"/><rect x="1112.2" y="749.5" width="5.2" height="5.5" fill="#5a3ac8"/><rect x="1119.7" y="749.5" width="5.2" height="4.2" fill="#5a3ac8"/><rect x="1126.7" y="749.5" width="5.2" height="1.1" fill="#5a3ac8"/><rect x="1134.1" y="748.0" width="5.2" height="1.5" fill="#b0309e"/><rect x="1140.7" y="736.2" width="5.2" height="13.3" fill="#b0309e"/><rect x="1148.1" y="729.6" width="5.2" height="19.9" fill="#b0309e"/><rect x="1155.1" y="728.7" width="5.2" height="20.8" fill="#b0309e"/><rect x="1162.6" y="728.3" width="5.2" height="21.2" fill="#b0309e"/><rect x="1170.0" y="727.4" width="5.2" height="22.1" fill="#b0309e"/><rect x="1177.0" y="728.7" width="5.2" height="20.8" fill="#b0309e"/><rect x="1184.5" y="738.4" width="5.2" height="11.1" fill="#b0309e"/><rect x="1191.9" y="745.8" width="5.2" height="3.7" fill="#b0309e"/><rect x="1198.9" y="749.5" width="5.2" height="1.1" fill="#5a3ac8"/><rect x="1206.4" y="749.5" width="5.2" height="2.9" fill="#5a3ac8"/><rect x="1213.8" y="749.5" width="5.2" height="6.4" fill="#5a3ac8"/><rect x="1221.7" y="749.5" width="5.2" height="6.4" fill="#5a3ac8"/><rect x="1228.3" y="749.5" width="5.2" height="7.7" fill="#5a3ac8"/><path d="M723.8 801.8 C726.7 801.3 735.5 800.2 741.3 798.7 C747.1 797.2 753.0 795.8 758.8 793.0 C764.6 790.2 769.4 785.8 776.3 782.1 C783.2 778.5 793.8 772.4 800.4 771.1 C807.0 769.9 810.2 773.1 815.7 774.6 C821.2 776.1 827.2 778.6 833.2 779.9 C839.2 781.1 846.1 783.2 851.6 782.1 C857.1 781.0 861.0 776.2 866.0 773.3 C871.0 770.4 875.9 767.5 881.4 764.6 C886.9 761.7 893.1 758.6 898.9 755.8 C904.7 753.0 910.6 750.2 916.4 747.9 C922.2 745.6 928.9 743.0 933.9 741.8 C938.9 740.6 941.8 738.9 946.2 740.5 C950.6 742.1 955.0 748.1 960.2 751.4 C965.5 754.7 971.1 757.3 977.7 760.2 C984.3 763.1 995.0 767.3 1000.0 768.9 C1005.0 770.5 1003.3 769.9 1007.5 769.9 C1011.7 769.9 1019.1 769.7 1025.0 769.0 C1030.8 768.3 1036.8 766.8 1042.6 765.5 C1048.4 764.2 1054.3 762.3 1060.1 761.1 C1065.9 759.9 1072.5 758.2 1077.6 758.1 C1082.7 758.0 1085.6 759.3 1090.7 760.3 C1095.8 761.2 1103.1 762.9 1108.2 763.8 C1113.3 764.7 1117.0 765.5 1121.4 765.5 C1125.8 765.5 1130.1 766.1 1134.5 763.8 C1138.9 761.5 1142.6 755.4 1147.7 751.5 C1152.8 747.6 1159.4 743.9 1165.2 740.6 C1171.0 737.3 1177.6 733.5 1182.7 731.8 C1187.8 730.1 1191.4 730.5 1195.8 730.5 C1200.2 730.5 1204.6 731.2 1209.0 731.8 C1213.4 732.4 1218.4 733.3 1222.1 734.0 C1225.8 734.7 1229.4 735.8 1230.9 736.2" stroke="#e2882c" stroke-width="1.0" fill="none" /><path d="M723.8 806.2 L732.5 799.6 L743.5 793.0 L756.6 788.6 L763.2 782.1 L778.5 766.8 L800.4 756.7 L807.8 768.9 L820.1 782.1 L837.6 787.3 L851.6 787.3 L859.5 766.8 L872.6 755.8 L887.9 742.7 L903.2 738.3 L916.4 733.9 L931.7 732.6 L946.2 736.1 L953.6 755.8 L968.0 774.2 L977.7 779.0 L1000.0 778.6 L1003.1 777.8 L1016.3 771.2 L1029.4 766.8 L1042.6 763.8 L1055.7 756.8 L1064.4 751.5 L1077.6 755.9 L1090.7 764.7 L1108.2 769.0 L1121.4 769.9 L1130.1 764.7 L1138.9 755.9 L1152.0 733.1 L1165.2 725.2 L1178.3 716.5 L1187.1 715.2 L1200.2 725.2 L1213.3 734.0 L1222.1 739.3 L1230.9 742.8" stroke="#98cc44" stroke-width="1.0" fill="none" /><text x="726" y="500" fill="#a0a0a0" font-size="13" text-anchor="start" >出来高</text><text x="726" y="560" fill="#a0a0a0" font-size="13" text-anchor="start" >RSI</text><text x="726" y="697" fill="#a0a0a0" font-size="13" text-anchor="start" >MACD</text><rect x="1215" y="822" width="71" height="25" fill="#30353f"/><clipPath id="clNavR1"><rect x="717" y="800" width="494" height="47"/></clipPath><clipPath id="clNavR2"><rect x="1215" y="800" width="71" height="47"/></clipPath><path d="M717.0 847.0 L717.0 843.8 L719.0 844.2 L721.1 844.2 L723.1 844.3 L725.2 843.7 L727.2 843.7 L729.3 843.6 L731.3 843.7 L733.4 844.2 L735.4 843.6 L737.5 844.0 L739.5 843.7 L741.6 843.8 L743.6 843.9 L745.7 844.3 L747.7 844.1 L749.8 843.5 L751.8 843.8 L753.9 843.6 L755.9 844.4 L758.0 844.3 L760.0 844.3 L762.0 844.3 L764.0 844.2 L766.0 844.4 L768.0 844.2 L770.0 843.6 L772.0 844.2 L774.0 843.8 L776.0 844.1 L778.0 843.8 L780.0 843.7 L782.0 843.6 L784.0 843.6 L786.0 843.5 L788.0 843.3 L790.0 843.9 L792.0 843.9 L794.0 844.1 L796.0 843.7 L798.0 843.6 L800.0 843.7 L802.0 843.1 L804.0 843.6 L806.0 843.4 L808.0 843.1 L810.0 843.1 L812.0 843.4 L814.0 843.1 L816.0 843.3 L818.0 843.4 L820.0 843.2 L822.0 842.9 L824.0 843.3 L826.0 843.0 L828.0 843.0 L830.0 842.9 L832.0 843.0 L834.0 842.7 L836.0 843.3 L838.0 843.6 L840.0 843.0 L842.0 843.3 L844.0 843.5 L846.0 842.6 L848.0 842.7 L850.0 843.3 L852.0 843.3 L854.0 843.0 L856.0 842.5 L858.0 842.6 L860.0 843.0 L862.0 843.0 L864.0 842.8 L866.0 842.2 L868.0 842.8 L870.0 842.2 L872.0 842.5 L874.0 841.8 L876.0 842.6 L878.0 842.2 L880.0 842.2 L882.0 841.6 L884.0 842.0 L886.0 841.9 L888.0 841.8 L890.0 841.5 L892.0 841.8 L894.0 841.4 L896.0 841.3 L898.0 841.1 L900.0 841.5 L902.0 840.9 L904.0 840.9 L906.0 840.7 L908.0 841.2 L910.0 841.1 L912.0 841.0 L914.0 840.4 L916.0 840.7 L918.0 840.6 L920.0 840.3 L922.0 840.1 L924.0 841.0 L926.0 840.1 L928.0 840.2 L930.0 840.1 L932.0 840.4 L934.0 839.8 L936.0 840.1 L938.0 839.9 L940.0 840.3 L942.0 839.5 L944.0 839.8 L946.0 839.9 L948.0 840.4 L950.0 839.9 L952.0 839.8 L954.0 840.0 L956.0 839.6 L958.0 839.3 L960.0 839.8 L962.0 840.1 L964.0 839.9 L966.0 839.4 L968.0 839.8 L970.0 840.0 L972.0 839.4 L974.0 839.7 L976.0 839.4 L978.0 839.3 L980.0 839.3 L982.0 839.0 L984.0 839.0 L986.0 838.4 L988.0 838.6 L990.0 838.1 L992.0 838.6 L994.0 838.2 L996.0 837.4 L998.0 838.0 L1000.0 837.2 L1002.4 837.3 L1004.8 837.3 L1007.1 836.9 L1009.5 836.7 L1011.9 836.7 L1014.3 836.3 L1016.6 836.8 L1019.0 835.9 L1021.3 836.4 L1023.7 835.6 L1026.1 835.7 L1028.5 835.8 L1030.8 835.4 L1033.2 835.5 L1035.6 835.8 L1038.0 835.9 L1040.3 836.5 L1042.7 836.7 L1045.0 835.8 L1047.4 836.4 L1049.4 834.8 L1051.4 834.3 L1053.4 832.6 L1056.9 832.5 L1058.9 832.0 L1061.0 831.4 L1063.0 831.2 L1065.1 831.3 L1067.1 831.8 L1069.2 830.9 L1071.2 831.1 L1073.6 831.0 L1075.9 830.9 L1078.3 831.4 L1080.6 830.8 L1083.0 831.3 L1085.4 831.5 L1087.8 831.9 L1090.1 831.7 L1092.5 832.3 L1094.9 832.0 L1097.2 831.0 L1099.6 829.8 L1102.0 829.5 L1104.4 829.0 L1106.8 827.6 L1109.2 827.5 L1111.5 827.8 L1113.9 827.9 L1116.2 827.5 L1118.6 827.1 L1121.0 827.7 L1123.4 826.9 L1125.7 826.6 L1128.1 826.5 L1130.5 826.4 L1132.9 827.0 L1135.2 826.3 L1137.6 826.8 L1139.9 826.9 L1142.3 826.9 L1144.7 826.7 L1147.1 826.3 L1149.4 826.5 L1151.8 826.7 L1154.2 826.6 L1156.6 826.1 L1159.0 826.5 L1161.3 825.7 L1163.7 825.8 L1166.1 826.4 L1168.5 825.9 L1170.8 825.7 L1173.2 826.2 L1175.5 825.9 L1177.9 825.4 L1180.3 825.3 L1182.6 825.3 L1185.0 825.2 L1187.4 826.1 L1189.8 825.6 L1192.2 826.5 L1194.5 826.8 L1196.9 826.7 L1199.2 827.5 L1201.6 827.6 L1204.0 827.8 L1206.4 828.1 L1208.8 828.8 L1211.1 829.6 L1213.1 829.4 L1215.1 829.2 L1217.1 829.6 L1219.2 829.9 L1221.2 829.9 L1223.3 830.5 L1225.4 830.2 L1227.8 830.9 L1230.1 830.2 L1232.5 830.0 L1234.8 830.4 L1237.2 830.0 L1239.6 830.4 L1241.9 829.9 L1244.3 829.7 L1246.7 830.5 L1249.1 830.4 L1251.5 831.0 L1253.8 831.0 L1256.2 830.9 L1258.5 831.5 L1260.9 830.6 L1263.3 831.4 L1265.7 830.6 L1268.0 831.2 L1270.4 830.4 L1272.8 830.3 L1275.2 830.4 L1277.5 830.5 L1279.9 829.5 L1282.3 829.4 L1284.7 829.3 L1287.0 829.2 L1287.0 847.0 Z" fill="url(#gN1)" clip-path="url(#clNavR1)"/><path d="M717.0 847.0 L717.0 843.8 L719.0 844.2 L721.1 844.2 L723.1 844.3 L725.2 843.7 L727.2 843.7 L729.3 843.6 L731.3 843.7 L733.4 844.2 L735.4 843.6 L737.5 844.0 L739.5 843.7 L741.6 843.8 L743.6 843.9 L745.7 844.3 L747.7 844.1 L749.8 843.5 L751.8 843.8 L753.9 843.6 L755.9 844.4 L758.0 844.3 L760.0 844.3 L762.0 844.3 L764.0 844.2 L766.0 844.4 L768.0 844.2 L770.0 843.6 L772.0 844.2 L774.0 843.8 L776.0 844.1 L778.0 843.8 L780.0 843.7 L782.0 843.6 L784.0 843.6 L786.0 843.5 L788.0 843.3 L790.0 843.9 L792.0 843.9 L794.0 844.1 L796.0 843.7 L798.0 843.6 L800.0 843.7 L802.0 843.1 L804.0 843.6 L806.0 843.4 L808.0 843.1 L810.0 843.1 L812.0 843.4 L814.0 843.1 L816.0 843.3 L818.0 843.4 L820.0 843.2 L822.0 842.9 L824.0 843.3 L826.0 843.0 L828.0 843.0 L830.0 842.9 L832.0 843.0 L834.0 842.7 L836.0 843.3 L838.0 843.6 L840.0 843.0 L842.0 843.3 L844.0 843.5 L846.0 842.6 L848.0 842.7 L850.0 843.3 L852.0 843.3 L854.0 843.0 L856.0 842.5 L858.0 842.6 L860.0 843.0 L862.0 843.0 L864.0 842.8 L866.0 842.2 L868.0 842.8 L870.0 842.2 L872.0 842.5 L874.0 841.8 L876.0 842.6 L878.0 842.2 L880.0 842.2 L882.0 841.6 L884.0 842.0 L886.0 841.9 L888.0 841.8 L890.0 841.5 L892.0 841.8 L894.0 841.4 L896.0 841.3 L898.0 841.1 L900.0 841.5 L902.0 840.9 L904.0 840.9 L906.0 840.7 L908.0 841.2 L910.0 841.1 L912.0 841.0 L914.0 840.4 L916.0 840.7 L918.0 840.6 L920.0 840.3 L922.0 840.1 L924.0 841.0 L926.0 840.1 L928.0 840.2 L930.0 840.1 L932.0 840.4 L934.0 839.8 L936.0 840.1 L938.0 839.9 L940.0 840.3 L942.0 839.5 L944.0 839.8 L946.0 839.9 L948.0 840.4 L950.0 839.9 L952.0 839.8 L954.0 840.0 L956.0 839.6 L958.0 839.3 L960.0 839.8 L962.0 840.1 L964.0 839.9 L966.0 839.4 L968.0 839.8 L970.0 840.0 L972.0 839.4 L974.0 839.7 L976.0 839.4 L978.0 839.3 L980.0 839.3 L982.0 839.0 L984.0 839.0 L986.0 838.4 L988.0 838.6 L990.0 838.1 L992.0 838.6 L994.0 838.2 L996.0 837.4 L998.0 838.0 L1000.0 837.2 L1002.4 837.3 L1004.8 837.3 L1007.1 836.9 L1009.5 836.7 L1011.9 836.7 L1014.3 836.3 L1016.6 836.8 L1019.0 835.9 L1021.3 836.4 L1023.7 835.6 L1026.1 835.7 L1028.5 835.8 L1030.8 835.4 L1033.2 835.5 L1035.6 835.8 L1038.0 835.9 L1040.3 836.5 L1042.7 836.7 L1045.0 835.8 L1047.4 836.4 L1049.4 834.8 L1051.4 834.3 L1053.4 832.6 L1056.9 832.5 L1058.9 832.0 L1061.0 831.4 L1063.0 831.2 L1065.1 831.3 L1067.1 831.8 L1069.2 830.9 L1071.2 831.1 L1073.6 831.0 L1075.9 830.9 L1078.3 831.4 L1080.6 830.8 L1083.0 831.3 L1085.4 831.5 L1087.8 831.9 L1090.1 831.7 L1092.5 832.3 L1094.9 832.0 L1097.2 831.0 L1099.6 829.8 L1102.0 829.5 L1104.4 829.0 L1106.8 827.6 L1109.2 827.5 L1111.5 827.8 L1113.9 827.9 L1116.2 827.5 L1118.6 827.1 L1121.0 827.7 L1123.4 826.9 L1125.7 826.6 L1128.1 826.5 L1130.5 826.4 L1132.9 827.0 L1135.2 826.3 L1137.6 826.8 L1139.9 826.9 L1142.3 826.9 L1144.7 826.7 L1147.1 826.3 L1149.4 826.5 L1151.8 826.7 L1154.2 826.6 L1156.6 826.1 L1159.0 826.5 L1161.3 825.7 L1163.7 825.8 L1166.1 826.4 L1168.5 825.9 L1170.8 825.7 L1173.2 826.2 L1175.5 825.9 L1177.9 825.4 L1180.3 825.3 L1182.6 825.3 L1185.0 825.2 L1187.4 826.1 L1189.8 825.6 L1192.2 826.5 L1194.5 826.8 L1196.9 826.7 L1199.2 827.5 L1201.6 827.6 L1204.0 827.8 L1206.4 828.1 L1208.8 828.8 L1211.1 829.6 L1213.1 829.4 L1215.1 829.2 L1217.1 829.6 L1219.2 829.9 L1221.2 829.9 L1223.3 830.5 L1225.4 830.2 L1227.8 830.9 L1230.1 830.2 L1232.5 830.0 L1234.8 830.4 L1237.2 830.0 L1239.6 830.4 L1241.9 829.9 L1244.3 829.7 L1246.7 830.5 L1249.1 830.4 L1251.5 831.0 L1253.8 831.0 L1256.2 830.9 L1258.5 831.5 L1260.9 830.6 L1263.3 831.4 L1265.7 830.6 L1268.0 831.2 L1270.4 830.4 L1272.8 830.3 L1275.2 830.4 L1277.5 830.5 L1279.9 829.5 L1282.3 829.4 L1284.7 829.3 L1287.0 829.2 L1287.0 847.0 Z" fill="url(#gN2)" clip-path="url(#clNavR2)"/><rect x="1210.5" y="822" width="5.5" height="25" fill="#4a86e0"/><path d="M1213.25 825 V845" stroke="#000" stroke-width="1.2" stroke-dasharray="1 2"/><rect x="1286" y="822" width="5.5" height="25" fill="#4a86e0"/><path d="M1288.75 825 V845" stroke="#000" stroke-width="1.2" stroke-dasharray="1 2"/><path d="M753.5 822 V834" stroke="#888" stroke-width="1"/><text x="753" y="844.5" fill="#bdbdbd" font-size="11" text-anchor="middle" >12/15</text><path d="M828.5 822 V834" stroke="#888" stroke-width="1"/><text x="828" y="844.5" fill="#bdbdbd" font-size="11" text-anchor="middle" >12/22</text><path d="M904.0 822 V834" stroke="#888" stroke-width="1"/><text x="903.5" y="844.5" fill="#bdbdbd" font-size="11" text-anchor="middle" >12/29</text><path d="M1008.5 822 V834" stroke="#888" stroke-width="1"/><text x="1008" y="844.5" fill="#bdbdbd" font-size="11" text-anchor="middle" >01/13</text><path d="M1068.5 822 V834" stroke="#888" stroke-width="1"/><text x="1068" y="844.5" fill="#bdbdbd" font-size="11" text-anchor="middle" >01/19</text><path d="M1142.5 822 V834" stroke="#888" stroke-width="1"/><text x="1142" y="844.5" fill="#bdbdbd" font-size="11" text-anchor="middle" >01/26</text><path d="M1216.5 822 V834" stroke="#888" stroke-width="1"/><text x="1216" y="844.5" fill="#bdbdbd" font-size="11" text-anchor="middle" >02/02</text></g><text x="1236.5" y="185.10000000000002" fill="#c2c2c2" font-size="13" text-anchor="start" >3,800</text><text x="1236.5" y="255.90000000000003" fill="#c2c2c2" font-size="13" text-anchor="start" >3,600</text><text x="1236.5" y="326.7" fill="#c2c2c2" font-size="13" text-anchor="start" >3,400</text><text x="1236.5" y="397.5" fill="#c2c2c2" font-size="13" text-anchor="start" >3,200</text><text x="1236.5" y="468.3" fill="#c2c2c2" font-size="13" text-anchor="start" >3,000</text><text x="1236.5" y="505.6" fill="#c2c2c2" font-size="12.5" text-anchor="start" >500,000</text><clipPath id="clRV0"><rect x="1230" y="525" width="30" height="13"/></clipPath><text x="1236.5" y="543" fill="#c2c2c2" font-size="12.5" text-anchor="start" clip-path="url(#clRV0)">0</text><text x="1236.5" y="555.1" fill="#c2c2c2" font-size="12.3" text-anchor="start" >100</text><text x="1236.5" y="580.48" fill="#c2c2c2" font-size="12.3" text-anchor="start" >80</text><text x="1236.5" y="605.86" fill="#c2c2c2" font-size="12.3" text-anchor="start" >60</text><text x="1236.5" y="631.24" fill="#c2c2c2" font-size="12.3" text-anchor="start" >40</text><text x="1236.5" y="656.62" fill="#c2c2c2" font-size="12.3" text-anchor="start" >20</text><clipPath id="clRR0"><rect x="1230" y="665" width="30" height="11.5"/></clipPath><text x="1236.5" y="682" fill="#c2c2c2" font-size="12.3" text-anchor="start" clip-path="url(#clRR0)">0</text><text x="1236.5" y="703.0" fill="#c2c2c2" font-size="12.3" text-anchor="start" >100</text><text x="1236.5" y="729.25" fill="#c2c2c2" font-size="12.3" text-anchor="start" >50</text><text x="1236.5" y="755.5" fill="#c2c2c2" font-size="12.3" text-anchor="start" >0</text><text x="1236.5" y="781.75" fill="#c2c2c2" font-size="12.3" text-anchor="start" >-50</text><text x="1236.5" y="808.0" fill="#c2c2c2" font-size="12.3" text-anchor="start" >-100</text><text x="760" y="829" fill="#c2c2c2" font-size="13" text-anchor="middle" >02/02</text><text x="855" y="829" fill="#c2c2c2" font-size="13" text-anchor="middle" >02/03</text><text x="950" y="829" fill="#c2c2c2" font-size="13" text-anchor="middle" >02/04</text><text x="1045" y="829" fill="#c2c2c2" font-size="13" text-anchor="middle" >02/05</text><text x="1140" y="829" fill="#c2c2c2" font-size="13" text-anchor="middle" >02/06</text><path d="M1234.2 362.9 L1242.2 354 H1300 V372 H1242.2 Z" fill="#e8dcc8"/><text x="1244.7" y="368" fill="#061028" font-size="13" text-anchor="start" >3,281.0</text></svg>
<div class="ov">
<div class="abs" style="left:112px;top:1px;width:50px;height:3px;background:repeating-linear-gradient(90deg,#8a8aa8 0 1px,transparent 1px 2px)"></div>
<div class="ej" style="left:9px;top:8px"><svg width="16" height="16" viewBox="0 0 16 16"><path d="M8 4 L12.2 8.6 H3.8 Z" fill="#e8e8e8"/><rect x="3.8" y="10" width="8.4" height="1.7" fill="#e8e8e8"/></svg></div>
<div class="ot" style="left:27px;top:9px">2025/11/12</div>
<div class="abs" style="left:199px;top:4px;width:45px;height:20px;background:#4c4c4c;color:#eee;font-size:13px;line-height:19px;text-align:center">最新足</div>
<svg class="cx" style="left:254.0px;top:8.5px" width="15" height="15" viewBox="0 0 15 15"><circle cx="7.5" cy="7.5" r="7.2" fill="#f0f0f0"/><path d="M4.5 4.5 L10.5 10.5 M10.5 4.5 L4.5 10.5" stroke="#2a2a4a" stroke-width="1.8"/></svg>
<div class="abs osep" style="top:26px"></div>
<div class="ol" style="left:24px;top:26.599999999999994px">始値</div>
<div class="ov_v" style="top:26.599999999999994px">2,097.5</div>
<div class="ol" style="left:24px;top:42.599999999999994px">高値</div>
<div class="ov_v" style="top:42.599999999999994px">2,128.5</div>
<div class="ol" style="left:24px;top:58.599999999999994px">安値</div>
<div class="ov_v" style="top:58.599999999999994px">2,065.0</div>
<div class="ol" style="left:24px;top:74.6px">終値</div>
<div class="ov_v" style="top:74.6px">2,128.5</div>
<div class="ol" style="left:24px;top:90.6px">出来高</div>
<div class="ov_v" style="top:90.6px">1,528,000</div>
<div class="abs osep" style="top:108px"></div>
<div class="ej" style="left:9px;top:109.5px"><svg width="16" height="16" viewBox="0 0 16 16"><path d="M8 4 L12.2 8.6 H3.8 Z" fill="#e8e8e8"/><rect x="3.8" y="10" width="8.4" height="1.7" fill="#e8e8e8"/></svg></div>
<div class="ot" style="left:27px;top:109.5px">単純移動平均線</div>
<svg class="cx" style="left:254.0px;top:111.0px" width="15" height="15" viewBox="0 0 15 15"><circle cx="7.5" cy="7.5" r="7.2" fill="#f0f0f0"/><path d="M4.5 4.5 L10.5 10.5 M10.5 4.5 L4.5 10.5" stroke="#2a2a4a" stroke-width="1.8"/></svg>
<div class="abs" style="left:4px;top:136.3px;width:15px;height:1px;background:#98cc44"></div>
<div class="ol" style="left:24px;top:128.3px">期間 [5]</div>
<div class="ov_v" style="top:128.3px">2,153.5</div>
<div class="abs" style="left:4px;top:152.40000000000003px;width:15px;height:1px;background:#e2882c"></div>
<div class="ol" style="left:24px;top:144.40000000000003px">期間 [25]</div>
<div class="ov_v" style="top:144.40000000000003px">2,197.0</div>
<div class="abs" style="left:4px;top:168.5px;width:15px;height:1px;background:#5a5aff"></div>
<div class="ol" style="left:24px;top:160.5px">期間 [75]</div>
<div class="ov_v" style="top:160.5px">2,027.7</div>
<div class="abs" style="left:4px;top:184.60000000000002px;width:15px;height:1px;background:#9a5424"></div>
<div class="ol" style="left:24px;top:176.60000000000002px">期間 [200]</div>
<div class="ov_v" style="top:176.60000000000002px">1,795.3</div>
<div class="abs osep" style="top:194px"></div>
<div class="ej" style="left:9px;top:195.5px"><svg width="16" height="16" viewBox="0 0 16 16"><path d="M8 4 L12.2 8.6 H3.8 Z" fill="#e8e8e8"/><rect x="3.8" y="10" width="8.4" height="1.7" fill="#e8e8e8"/></svg></div>
<div class="ot" style="left:27px;top:195.5px">出来高</div>
<svg class="cx" style="left:254.0px;top:197.0px" width="15" height="15" viewBox="0 0 15 15"><circle cx="7.5" cy="7.5" r="7.2" fill="#f0f0f0"/><path d="M4.5 4.5 L10.5 10.5 M10.5 4.5 L4.5 10.5" stroke="#2a2a4a" stroke-width="1.8"/></svg>
<div class="abs" style="left:4px;top:222.60000000000002px;width:15px;height:1px;background:#98cc44"></div>
<div class="ol" style="left:24px;top:214.60000000000002px">期間 [5]</div>
<div class="ov_v" style="top:214.60000000000002px">1,879,840</div>
<div class="abs" style="left:4px;top:238.60000000000002px;width:15px;height:1px;background:#e2882c"></div>
<div class="ol" style="left:24px;top:230.60000000000002px">期間 [25]</div>
<div class="ov_v" style="top:230.60000000000002px">2,505,448</div>
<div class="abs" style="left:4px;top:254.60000000000002px;width:15px;height:1px;background:#5a5aff"></div>
<div class="ol" style="left:24px;top:246.60000000000002px">期間 [75]</div>
<div class="ov_v" style="top:246.60000000000002px">2,039,376</div>
<div class="abs" style="left:4px;top:270.6px;width:15px;height:1px;background:#b43ee0"></div>
<div class="ol" style="left:24px;top:262.6px">信用残 買</div>
<div class="abs" style="left:4px;top:286.6px;width:15px;height:1px;background:#9a5424"></div>
<div class="ol" style="left:24px;top:278.6px">信用残 売</div>
<div class="abs osep" style="top:296px"></div>
<div class="ej" style="left:9px;top:298px"><svg width="16" height="16" viewBox="0 0 16 16"><path d="M8 4 L12.2 8.6 H3.8 Z" fill="#e8e8e8"/><rect x="3.8" y="10" width="8.4" height="1.7" fill="#e8e8e8"/></svg></div>
<div class="ot" style="left:27px;top:298px">RSI1[9],2[14]</div>
<svg class="cx" style="left:254.0px;top:299.5px" width="15" height="15" viewBox="0 0 15 15"><circle cx="7.5" cy="7.5" r="7.2" fill="#f0f0f0"/><path d="M4.5 4.5 L10.5 10.5 M10.5 4.5 L4.5 10.5" stroke="#2a2a4a" stroke-width="1.8"/></svg>
<div class="abs" style="left:4px;top:324.9px;width:15px;height:1px;background:#98cc44"></div>
<div class="ol" style="left:24px;top:316.9px">RSI1</div>
<div class="ov_v" style="top:316.9px">54</div>
<div class="abs osep" style="top:334px"></div>
<div class="ej" style="left:9px;top:336.2px"><svg width="16" height="16" viewBox="0 0 16 16"><path d="M8 4 L12.2 8.6 H3.8 Z" fill="#e8e8e8"/><rect x="3.8" y="10" width="8.4" height="1.7" fill="#e8e8e8"/></svg></div>
<div class="ot" style="left:27px;top:336.2px">MACD [5, 20, 9]</div>
<svg class="cx" style="left:254.0px;top:337.7px" width="15" height="15" viewBox="0 0 15 15"><circle cx="7.5" cy="7.5" r="7.2" fill="#f0f0f0"/><path d="M4.5 4.5 L10.5 10.5 M10.5 4.5 L4.5 10.5" stroke="#2a2a4a" stroke-width="1.8"/></svg>
<div class="abs" style="left:4px;top:362.8px;width:15px;height:1px;background:#b0309e"></div>
<div class="ol" style="left:24px;top:354.8px"><span style="display:inline-block;transform:scaleX(0.75);transform-origin:0 0">ヒストグラム（＋）</span></div>
<div class="ov_v" style="top:354.8px">4.3</div>
<div class="abs" style="left:4px;top:378.85px;width:15px;height:1px;background:#6a3ad6"></div>
<div class="ol" style="left:24px;top:370.85px"><span style="display:inline-block;transform:scaleX(0.75);transform-origin:0 0">ヒストグラム（－）</span></div>
<div class="abs" style="left:4px;top:394.9px;width:15px;height:1px;background:#98cc44"></div>
<div class="ol" style="left:24px;top:386.9px">MACD</div>
<div class="ov_v" style="top:386.9px">-10.8</div>
<div class="abs" style="left:4px;top:410.95000000000005px;width:15px;height:1px;background:#e2882c"></div>
<div class="ol" style="left:24px;top:402.95000000000005px"><span style="display:inline-block;transform:scaleX(0.756);transform-origin:0 0">シグナル</span></div>
<div class="ov_v" style="top:402.95000000000005px">-15.0</div>
<div class="abs osep" style="top:420px"></div>
<div class="ej" style="left:9px;top:421.5px"><svg width="16" height="16" viewBox="0 0 16 16"><path d="M8 4 L12.2 8.6 H3.8 Z" fill="#e8e8e8"/><rect x="3.8" y="10" width="8.4" height="1.7" fill="#e8e8e8"/></svg></div>
<div class="ot" style="left:27px;top:421.5px"><span style="display:inline-block;transform:scaleX(0.766);transform-origin:0 0">ボリンジャーバンド</span></div>
<svg class="cx" style="left:254.0px;top:423.0px" width="15" height="15" viewBox="0 0 15 15"><circle cx="7.5" cy="7.5" r="7.2" fill="#f0f0f0"/><path d="M4.5 4.5 L10.5 10.5 M10.5 4.5 L4.5 10.5" stroke="#2a2a4a" stroke-width="1.8"/></svg>
<div class="abs" style="left:4px;top:448.79999999999995px;width:15px;height:1px;background:#98cc44"></div>
<div class="ol" style="left:24px;top:440.79999999999995px">MA [25]</div>
<div class="ov_v" style="top:440.79999999999995px">2,197.0</div>
<div class="abs" style="left:4px;top:464.8299999999999px;width:15px;height:1px;background:#e2882c"></div>
<div class="ol" style="left:24px;top:456.8299999999999px">+3.00σ</div>
<div class="ov_v" style="top:456.8299999999999px">2,580.8</div>
<div class="abs" style="left:4px;top:480.8599999999999px;width:15px;height:1px;background:#5a5aff"></div>
<div class="ol" style="left:24px;top:472.8599999999999px">+2.00σ</div>
<div class="ov_v" style="top:472.8599999999999px">2,452.8</div>
<div class="abs" style="left:4px;top:496.89px;width:15px;height:1px;background:#b43ee0"></div>
<div class="ol" style="left:24px;top:488.89px">+1.00σ</div>
<div class="ov_v" style="top:488.89px">2,324.9</div>
<div class="abs" style="left:4px;top:512.92px;width:15px;height:1px;background:#b43ee0"></div>
<div class="ol" style="left:24px;top:504.91999999999996px">-1.00σ</div>
<div class="ov_v" style="top:504.91999999999996px">2,069.1</div>
<div class="abs" style="left:4px;top:528.9499999999999px;width:15px;height:1px;background:#5a5aff"></div>
<div class="ol" style="left:24px;top:520.9499999999999px">-2.00σ</div>
<div class="ov_v" style="top:520.9499999999999px">1,941.2</div>
<div class="abs" style="left:4px;top:544.98px;width:15px;height:1px;background:#e2882c"></div>
<div class="ol" style="left:24px;top:536.98px">-3.00σ</div>
<div class="ov_v" style="top:536.98px">1,813.3</div>
</div>
<div class="hdr" style="left:0px;width:705px">
<svg class="ico" style="left:15px;top:11px" width="18" height="18" viewBox="0 0 18 18"><g transform="translate(0.8 -0.1) rotate(-45 9 9)" fill="none" stroke="#e2b800" stroke-width="1.8"><rect x="3" y="6.3" width="7.2" height="5.4" rx="2.7"/><rect x="7.8" y="6.3" width="7.2" height="5.4" rx="2.7" stroke-dasharray="13 2 30"/></g></svg>
<div class="sel" style="left:38px;top:9px;width:112px;height:22px"><span>国内株式</span><i class="tri"></i></div>
<div class="sel" style="left:155px;top:9px;width:137px;height:22px"><span><b style="font-weight:normal;margin-left:-4px">6323</b></span><i class="tri"></i></div>
<div class="nb" style="left:298px;top:10px"><svg width="18" height="20" viewBox="0 0 18 20"><path d="M11.8 6.1 L6.8 10.4 L11.8 14.8" fill="none" stroke="#e6e6e6" stroke-width="1.9"/></svg></div>
<div class="nb" style="left:317px;top:10px"><svg width="18" height="20" viewBox="0 0 18 20"><path d="M6.2 6.1 L11.2 10.4 L6.2 14.8" fill="none" stroke="#e6e6e6" stroke-width="1.9"/></svg></div>
<div class="sel" style="left:341px;top:9px;width:67px;height:22px"><span>東証</span><i class="tri"></i></div>
<div class="btn" style="left:414px;top:10px;width:32px">検索</div>
<div class="btn" style="left:453px;top:10px;width:32px">詳細</div>
<div class="sel" style="left:491px;top:9px;width:75px;height:22px"><span>日足</span><i class="tri"></i></div>
<div class="nb" style="left:572px;top:10px"><svg width="18" height="20" viewBox="0 0 18 20"><path d="M11.8 6.1 L6.8 10.4 L11.8 14.8" fill="none" stroke="#e6e6e6" stroke-width="1.9"/></svg></div>
<div class="nb" style="left:591px;top:10px"><svg width="18" height="20" viewBox="0 0 18 20"><path d="M6.2 6.1 L11.2 10.4 L6.2 14.8" fill="none" stroke="#e6e6e6" stroke-width="1.9"/></svg></div>
<div class="btn blue" style="left:616px;top:10px;width:60px">表示期間</div>
<div class="btn" style="left:683px;top:10px;width:60px;text-align:left;padding-left:5px"><span style="display:inline-block;transform:scaleX(0.82);transform-origin:0 0">テクニカル</span></div>
<div class="t w" style="left:15px;top:41px">表示期間</div>
<div class="sel" style="left:73px;top:37px;width:77px;height:22px"><span>本数指定</span><i class="tri"></i></div>
<div class="t w" style="left:155px;top:41px">本数</div>
<div class="inp" style="left:188px;top:38px;width:42px;height:20px">172</div>
<div class="sb" style="left:231px;top:38px"><i class="dn"></i></div>
<div class="sb" style="left:246px;top:38px"><i class="up"></i></div>
<div class="t w" style="left:266px;top:41px">表示期間：</div>
<div class="t w" style="left:338px;top:41px">2025/06/11 ～ 2026/02/06</div>
<div class="tb" style="left:518px;top:38px;width:20px;height:20px"><svg width="20" height="20" viewBox="0 0 20 20"><path d="M6 6 H14 a3 3 0 0 1 3 3 v1 a3 3 0 0 1 -3 3 H6" fill="none" stroke="#eee" stroke-width="2.4"/><path d="M3 13 L8 9.5 L8 16.5 Z" fill="#eee"/></svg></div>
<div class="tb" style="left:15px;top:70px"><svg width="20" height="20" viewBox="0 0 20 20"><path d="M3 17 L17 3" stroke="#eee" fill="none" stroke-width="1.3"/></svg></div>
<div class="tb" style="left:42px;top:70px"><svg width="20" height="20" viewBox="0 0 20 20"><g transform="rotate(-40 10 10)"><rect x="0.5" y="6.5" width="19" height="7" fill="#e0e0e0"/><path d="M2.5 6.5v3M4.5 6.5v2M6.5 6.5v3M8.5 6.5v2M10.5 6.5v3M12.5 6.5v2M14.5 6.5v3M16.5 6.5v2" stroke="#555" stroke-width="0.9"/></g></svg></div>
<div class="tb" style="left:69px;top:70px"><svg width="20" height="20" viewBox="0 0 20 20"><path d="M2 13 L12 3 M4 16 L15 5 M7 18 L17 8" stroke="#eee" fill="none" stroke-width="1.3"/></svg></div>
<div class="tb" style="left:96px;top:70px"><svg width="20" height="20" viewBox="0 0 20 20"><path d="M3 5.5 H17 M3 10.5 H17 M3 15.5 H17" stroke="#eee" fill="none" stroke-width="1"/></svg></div>
<div class="tb" style="left:123px;top:70px"><svg width="20" height="20" viewBox="0 0 20 20"><path d="M3 4.5 H17 M3 7.5 H17 M3 10.5 H17 M3 13.5 H17 M3 16.5 H17" stroke="#eee" fill="none" stroke-width="1"/></svg></div>
<div class="tb" style="left:150px;top:70px"><svg width="20" height="20" viewBox="0 0 20 20"><path d="M2 16 A8 8 0 0 1 18 16 M5 16 A5 5 0 0 1 15 16 M8 16 A2 2 0 0 1 12 16 M7 16 L17 6" stroke="#eee" fill="none" stroke-width="1.1"/></svg></div>
<div class="tb" style="left:177px;top:70px"><svg width="20" height="20" viewBox="0 0 20 20"><path d="M3 2 V18 H18 M3 18 L7 3 M3 18 L12 5 M3 18 L17 8 M3 18 L16 14" stroke="#eee" fill="none" stroke-width="1.1"/></svg></div>
<div class="tb" style="left:204px;top:70px"><svg width="20" height="20" viewBox="0 0 20 20"><path d="M4.5 3 V17 M7.5 3 V17 M10.5 3 V17 M13.5 3 V17 M16.5 3 V17" stroke="#eee" fill="none" stroke-width="1"/></svg></div>
<div class="tb" style="left:231px;top:70px"><svg width="20" height="20" viewBox="0 0 20 20"><path d="M3 18 L11 3 M3 18 L17 5 M3 18 L17 11" stroke="#eee" fill="none" stroke-width="1.1"/></svg></div>
<div class="tb" style="left:258px;top:70px"><svg width="20" height="20" viewBox="0 0 20 20"><path d="M10 3 L17 8 L14.5 17 H5.5 L3 8 Z" stroke="#eee" fill="none" stroke-width="1.2"/></svg></div>
<div class="tb" style="left:285px;top:70px"><svg width="20" height="20" viewBox="0 0 20 20"><circle cx="10" cy="10" r="6.5" stroke="#eee" fill="none" stroke-width="1.3"/></svg></div>
<div class="tb" style="left:312px;top:70px"><svg width="20" height="20" viewBox="0 0 20 20"><rect x="4.5" y="4.5" width="11" height="11" stroke="#eee" fill="none" stroke-width="1"/></svg></div>
<div class="tb" style="left:339px;top:70px"><svg width="20" height="20" viewBox="0 0 20 20"><path d="M3 10.5 H17" stroke="#eee" fill="none" stroke-width="1"/></svg></div>
<div class="tb" style="left:366px;top:70px"><svg width="20" height="20" viewBox="0 0 20 20"><path d="M10.5 3 V17" stroke="#eee" fill="none" stroke-width="1"/></svg></div>
<div class="tb" style="left:393px;top:70px"><svg width="20" height="20" viewBox="0 0 20 20"><text x="10" y="16.5" font-family="DejaVu Sans" font-weight="bold" font-size="15" fill="#eee" text-anchor="middle">A</text></svg></div>
<div class="tb" style="left:420px;top:70px"><svg width="20" height="20" viewBox="0 0 20 20"><circle cx="10" cy="8" r="5" fill="#eee"/><circle cx="8.2" cy="7" r="0.9" fill="#555"/><circle cx="11.8" cy="7" r="0.9" fill="#555"/><path d="M7.5 9.5 Q10 11.5 12.5 9.5" stroke="#555" fill="none" stroke-width="0.9"/><text x="10" y="19" font-family="DejaVu Sans" font-size="5.2" font-weight="bold" fill="#eee" text-anchor="middle">ICON</text></svg></div>
<div class="tb" style="left:447px;top:70px"><svg width="20" height="20" viewBox="0 0 20 20"><circle cx="8" cy="7" r="4.5" fill="#7a7a7a"/><path d="M8 4.5 V7 H10" stroke="#555" fill="none"/><path d="M16 10 V15 H10 M12 13 L10 15 L12 17" stroke="#7a7a7a" fill="none" stroke-width="1.6"/></svg></div>
<div class="tb" style="left:474px;top:70px"><svg width="20" height="20" viewBox="0 0 20 20"><rect x="3" y="3" width="10" height="8" stroke="#7a7a7a" fill="none" stroke-width="1.2"/><rect x="7" y="8" width="10" height="9" fill="#555" stroke="#6e6e6e" stroke-width="1.2"/><path d="M9 11 H15 M9 13.5 H15" stroke="#7a7a7a" fill="none"/></svg></div>
<div class="tb" style="left:501px;top:70px"><svg width="20" height="20" viewBox="0 0 20 20"><rect x="3" y="3" width="10" height="10" stroke="#7a7a7a" fill="none" stroke-width="1.2"/><path d="M9 18 L8 12 Q9 10 10 12 V8 Q11.5 7 12 8 V11 V7 Q13.5 6 14 7 V11 V8 Q15.5 7 16 8 V12 Q17 10 18 11 L16 18 Z" fill="#7a7a7a"/></svg></div>
<div class="tb" style="left:528px;top:70px"><svg width="20" height="20" viewBox="0 0 20 20"><g transform="rotate(-40 10 10)"><rect x="3" y="6" width="14" height="8" rx="1" stroke="#eee" fill="none" stroke-width="1.4"/><rect x="3" y="11" width="14" height="3" fill="#eee"/></g></svg></div>
<div class="tb" style="left:555px;top:70px"><svg width="20" height="20" viewBox="0 0 20 20"><text x="2" y="7.5" font-family="DejaVu Sans" font-size="7" fill="#eee">A</text><g transform="rotate(-40 11 12)"><rect x="4" y="8" width="14" height="8" rx="1" stroke="#eee" fill="none" stroke-width="1.4"/><rect x="4" y="13" width="14" height="3" fill="#eee"/></g></svg></div>
<div class="tb" style="left:582px;top:70px"><svg width="20" height="20" viewBox="0 0 20 20"><path d="M3 11.4 L8.8 4.5 A4.75 4.75 0 0 1 16.1 10.6 L10.3 17.5" stroke="#eee" fill="none" stroke-width="3"/><path d="M3.4 8.5 L5.8 10.5 M10.7 14.6 L13.1 16.6" stroke="#4b4b4b" stroke-width="1.1"/></svg></div>
<div class="tb bl" style="left:609px;top:70px"><svg width="20" height="20" viewBox="0 0 20 20"><rect x="2" y="6" width="8" height="6" fill="#fff"/><path d="M3.8 6 V4.5 a2.2 2.2 0 0 1 4.4 0 V6" stroke="#fff" fill="none" stroke-width="1.2"/><g transform="rotate(-45 13 13)"><rect x="7" y="11" width="12" height="4.5" fill="none" stroke="#fff" stroke-width="1.2"/><path d="M7 11 L4 13.25 L7 15.5" fill="#fff"/></g></svg></div>
<div class="tb" style="left:636px;top:70px"><svg width="20" height="20" viewBox="0 0 20 20"><g fill="#7a7a7a"><circle cx="10" cy="10" r="5.2"/><path d="M9 2.5h2v3h-2zM9 14.5h2v3h-2zM2.5 9h3v2h-3zM14.5 9h3v2h-3z"/><path d="M9 2.5h2v3h-2z" transform="rotate(45 10 10)"/><path d="M9 2.5h2v3h-2z" transform="rotate(-45 10 10)"/><path d="M9 14.5h2v3h-2z" transform="rotate(45 10 10)"/><path d="M9 14.5h2v3h-2z" transform="rotate(-45 10 10)"/></g><circle cx="10" cy="10" r="2.2" fill="#555"/></svg></div>
<div class="t y14" style="left:15px;top:102.5px">6323</div>
<div class="t ylw" style="left:80px;top:103.0px;font-size:14.5px;transform:scaleX(0.75);transform-origin:0 0">ローツェ</div>
<svg class="ico" style="left:251.5px;top:101.5px" width="15" height="16" viewBox="0 0 15 16"><rect x="0.75" y="0.75" width="13.5" height="14.5" fill="none" stroke="#e0e0e0" stroke-width="1.5"/><path d="M3.5 4.5 H11.5 M3.5 7.5 H11.5 M3.5 10.5 H11.5 M3.5 12.8 H8" stroke="#e0e0e0" stroke-width="1"/></svg>
<div class="t c" style="left:273px;top:101.5px">現在値</div>
<div class="t w" style="left:358px;top:101.3px">3,281.0</div>
<div class="t r" style="left:479px;top:101.3px">+94.0</div>
<div class="t r" style="left:568px;top:101.3px">+2.95%</div>
<div class="t w" style="left:633px;top:101.3px">26/02/06</div>
<div class="t" style="left:701px;top:101.3px;color:#2f7fe0">:</div>
<div class="t c" style="left:15px;top:126.5px">始値</div>
<div class="t w" style="left:94px;top:126.5px">3,284.0<span style="margin-right:1.5px">&nbsp;</span>09:03</div>
<div class="t c" style="left:211px;top:126.5px">高値</div>
<div class="t w" style="left:289px;top:126.5px">3,375.0<span style="margin-right:1.5px">&nbsp;</span>12:30</div>
<div class="t c" style="left:405px;top:126.5px">安値</div>
<div class="t w" style="left:484px;top:126.5px">3,212.0<span style="margin-right:1.5px">&nbsp;</span>09:09</div>
<div class="t c" style="left:600px;top:126.5px">前日終値</div>
</div>
<div class="hdr" style="left:715px;width:581px">
<svg class="ico" style="left:15px;top:11px" width="18" height="18" viewBox="0 0 18 18"><g transform="translate(0.8 -0.1) rotate(-45 9 9)" fill="none" stroke="#e2b800" stroke-width="1.8"><rect x="3" y="6.3" width="7.2" height="5.4" rx="2.7"/><rect x="7.8" y="6.3" width="7.2" height="5.4" rx="2.7" stroke-dasharray="13 2 30"/></g></svg>
<div class="sel" style="left:38px;top:9px;width:112px;height:22px"><span>国内株式</span><i class="tri"></i></div>
<div class="sel" style="left:155px;top:9px;width:137px;height:22px"><span><b style="font-weight:normal;margin-left:-4px">6323</b></span><i class="tri"></i></div>
<div class="nb" style="left:298px;top:10px"><svg width="18" height="20" viewBox="0 0 18 20"><path d="M11.8 6.1 L6.8 10.4 L11.8 14.8" fill="none" stroke="#e6e6e6" stroke-width="1.9"/></svg></div>
<div class="nb" style="left:317px;top:10px"><svg width="18" height="20" viewBox="0 0 18 20"><path d="M6.2 6.1 L11.2 10.4 L6.2 14.8" fill="none" stroke="#e6e6e6" stroke-width="1.9"/></svg></div>
<div class="sel" style="left:341px;top:9px;width:67px;height:22px"><span>東証</span><i class="tri"></i></div>
<div class="btn" style="left:414px;top:10px;width:32px">検索</div>
<div class="btn" style="left:453px;top:10px;width:32px">詳細</div>
<div class="sel" style="left:491px;top:9px;width:75px;height:22px"><span>30分足</span><i class="tri"></i></div>
<div class="nb" style="left:572px;top:10px"><svg width="18" height="20" viewBox="0 0 18 20"><path d="M11.8 6.1 L6.8 10.4 L11.8 14.8" fill="none" stroke="#e6e6e6" stroke-width="1.9"/></svg></div>
<div class="nb" style="left:591px;top:10px"><svg width="18" height="20" viewBox="0 0 18 20"><path d="M6.2 6.1 L11.2 10.4 L6.2 14.8" fill="none" stroke="#e6e6e6" stroke-width="1.9"/></svg></div>
<div class="btn blue" style="left:616px;top:10px;width:60px">表示期間</div>
<div class="btn" style="left:683px;top:10px;width:60px;text-align:left;padding-left:5px"><span style="display:inline-block;transform:scaleX(0.82);transform-origin:0 0">テクニカル</span></div>
<div class="t w" style="left:15px;top:41px">表示期間</div>
<div class="sel" style="left:73px;top:37px;width:77px;height:22px"><span>本数指定</span><i class="tri"></i></div>
<div class="t w" style="left:155px;top:41px">本数</div>
<div class="inp" style="left:188px;top:38px;width:42px;height:20px">70</div>
<div class="sb" style="left:231px;top:38px"><i class="dn"></i></div>
<div class="sb" style="left:246px;top:38px"><i class="up"></i></div>
<div class="t w" style="left:266px;top:41px">表示期間：</div>
<div class="t w" style="left:338px;top:41px">2026/01/30 13:30 ～ 2026/02/06 15:30</div>
<div class="t y14" style="left:15px;top:72.5px">6323</div>
<div class="t ylw" style="left:80px;top:73.0px;font-size:14.5px;transform:scaleX(0.75);transform-origin:0 0">ローツェ</div>
<svg class="ico" style="left:251.5px;top:71.5px" width="15" height="16" viewBox="0 0 15 16"><rect x="0.75" y="0.75" width="13.5" height="14.5" fill="none" stroke="#e0e0e0" stroke-width="1.5"/><path d="M3.5 4.5 H11.5 M3.5 7.5 H11.5 M3.5 10.5 H11.5 M3.5 12.8 H8" stroke="#e0e0e0" stroke-width="1"/></svg>
<div class="t c" style="left:273px;top:71.5px">現在値</div>
<div class="t w" style="left:358px;top:71.3px">3,281.0</div>
<div class="t r" style="left:479px;top:71.3px">+94.0</div>
<div class="t r" style="left:568px;top:71.3px">+2.95%</div>
<div class="t w" style="left:633px;top:71.3px">26/02/06</div>
<div class="t" style="left:701px;top:71.3px;color:#2f7fe0">:</div>
<div class="t c" style="left:15px;top:96.5px">始値</div>
<div class="t w" style="left:94px;top:96.5px">3,284.0<span style="margin-right:1.5px">&nbsp;</span>09:03</div>
<div class="t c" style="left:211px;top:96.5px">高値</div>
<div class="t w" style="left:289px;top:96.5px">3,375.0<span style="margin-right:1.5px">&nbsp;</span>12:30</div>
<div class="t c" style="left:405px;top:96.5px">安値</div>
<div class="t w" style="left:484px;top:96.5px">3,212.0<span style="margin-right:1.5px">&nbsp;</span>09:09</div>
<div class="t c" style="left:600px;top:96.5px">前日終値</div>
</div>
</body></html>
